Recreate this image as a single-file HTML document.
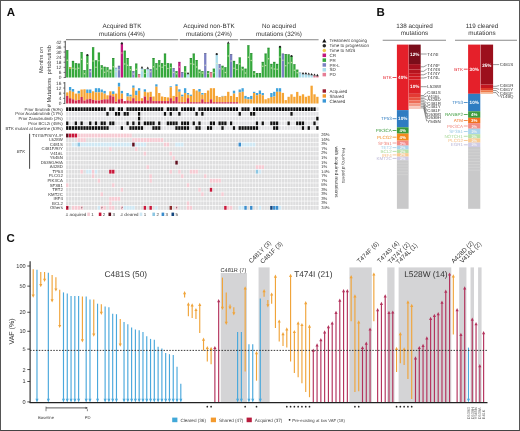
<!DOCTYPE html>
<html><head><meta charset="utf-8"><style>
html,body{margin:0;padding:0;background:#fff;}
.f{position:relative;width:520px;height:431px;overflow:hidden;background:#fff;}
.bd{position:absolute;left:0;top:0;width:518px;height:429px;border:1px solid #555;border-bottom-color:#444;}
svg{position:absolute;left:0;top:0;font-family:"Liberation Sans", sans-serif;will-change:transform;text-rendering:geometricPrecision;}
</style></head><body><div class="f">
<svg width="520" height="431" viewBox="0 0 520 431">
<text x="6.8" y="16.3" font-size="11.5" fill="#111" font-weight="bold">A</text>
<text x="122" y="27.6" font-size="6.3" fill="#333" text-anchor="middle">Acquired BTK</text>
<text x="122" y="35.6" font-size="6.3" fill="#333" text-anchor="middle">mutations (44%)</text>
<text x="209" y="27.6" font-size="6.3" fill="#333" text-anchor="middle">Acquired non-BTK</text>
<text x="209" y="35.6" font-size="6.3" fill="#333" text-anchor="middle">mutations (24%)</text>
<text x="279" y="27.6" font-size="6.3" fill="#333" text-anchor="middle">No acquired</text>
<text x="279" y="35.6" font-size="6.3" fill="#333" text-anchor="middle">mutations (32%)</text>
<line x1="66" y1="39.6" x2="178.2" y2="39.8" stroke="#8a8a8a" stroke-width="1.1"/>
<line x1="179.8" y1="39.6" x2="238.2" y2="39.8" stroke="#8a8a8a" stroke-width="1.1"/>
<line x1="239.8" y1="39.6" x2="318.6" y2="39.8" stroke="#8a8a8a" stroke-width="1.1"/>
<line x1="65.3" y1="40.8" x2="65.3" y2="78" stroke="#444" stroke-width="0.9"/>
<line x1="63.6" y1="41.9" x2="65.3" y2="41.9" stroke="#444" stroke-width="0.7"/>
<text x="61.5" y="43.6" font-size="4.8" fill="#333" text-anchor="end">42</text>
<line x1="63.6" y1="46.99" x2="65.3" y2="46.99" stroke="#444" stroke-width="0.7"/>
<text x="61.5" y="48.69" font-size="4.8" fill="#333" text-anchor="end">36</text>
<line x1="63.6" y1="52.08" x2="65.3" y2="52.08" stroke="#444" stroke-width="0.7"/>
<text x="61.5" y="53.78" font-size="4.8" fill="#333" text-anchor="end">30</text>
<line x1="63.6" y1="57.17" x2="65.3" y2="57.17" stroke="#444" stroke-width="0.7"/>
<text x="61.5" y="58.87" font-size="4.8" fill="#333" text-anchor="end">24</text>
<line x1="63.6" y1="62.26" x2="65.3" y2="62.26" stroke="#444" stroke-width="0.7"/>
<text x="61.5" y="63.96" font-size="4.8" fill="#333" text-anchor="end">18</text>
<line x1="63.6" y1="67.35" x2="65.3" y2="67.35" stroke="#444" stroke-width="0.7"/>
<text x="61.5" y="69.05" font-size="4.8" fill="#333" text-anchor="end">12</text>
<line x1="63.6" y1="72.44" x2="65.3" y2="72.44" stroke="#444" stroke-width="0.7"/>
<text x="61.5" y="74.14" font-size="4.8" fill="#333" text-anchor="end">6</text>
<line x1="63.6" y1="77.53" x2="65.3" y2="77.53" stroke="#444" stroke-width="0.7"/>
<text x="61.5" y="79.23" font-size="4.8" fill="#333" text-anchor="end">0</text>
<rect x="66.1" y="50.2" width="2.3" height="27.3" fill="#35a83c"/>
<rect x="66.1" y="50.2" width="2.3" height="0.6" fill="#1c5a24" opacity="0.55"/>
<circle cx="67.25" cy="60.3" r="0.75" fill="#e8f0b8" opacity="0.75"/>
<rect x="68.97" y="67.1" width="2.3" height="10.4" fill="#35a83c"/>
<rect x="68.97" y="67.1" width="2.3" height="0.6" fill="#1c5a24" opacity="0.55"/>
<circle cx="70.12" cy="67.9" r="0.9" fill="#f0c040"/>
<rect x="71.85" y="60.9" width="2.3" height="16.6" fill="#35a83c"/>
<rect x="71.85" y="60.9" width="2.3" height="0.6" fill="#1c5a24" opacity="0.55"/>
<circle cx="73" cy="68.37" r="0.75" fill="#e8f0b8" opacity="0.75"/>
<rect x="74.72" y="63.2" width="2.3" height="14.3" fill="#35a83c"/>
<rect x="74.72" y="63.2" width="2.3" height="0.6" fill="#1c5a24" opacity="0.55"/>
<circle cx="75.88" cy="68.92" r="0.75" fill="#e8f0b8" opacity="0.75"/>
<rect x="77.6" y="63.6" width="2.3" height="13.9" fill="#35a83c"/>
<rect x="77.6" y="63.6" width="2.3" height="0.6" fill="#1c5a24" opacity="0.55"/>
<circle cx="78.75" cy="68.19" r="0.75" fill="#e8f0b8" opacity="0.75"/>
<rect x="80.47" y="52.1" width="2.3" height="25.4" fill="#35a83c"/>
<rect x="80.47" y="52.1" width="2.3" height="0.6" fill="#1c5a24" opacity="0.55"/>
<circle cx="81.62" cy="59.21" r="0.75" fill="#e8f0b8" opacity="0.75"/>
<rect x="83.35" y="70.2" width="2.3" height="7.3" fill="#35a83c"/>
<rect x="83.35" y="70.2" width="2.3" height="0.6" fill="#1c5a24" opacity="0.55"/>
<circle cx="84.5" cy="73.85" r="0.75" fill="#e8f0b8" opacity="0.75"/>
<rect x="86.22" y="55.1" width="2.3" height="22.4" fill="#35a83c"/>
<rect x="86.22" y="55.1" width="2.3" height="0.6" fill="#1c5a24" opacity="0.55"/>
<circle cx="87.38" cy="55.1" r="1.1" fill="#222"/>
<circle cx="87.38" cy="63.39" r="0.75" fill="#e8f0b8" opacity="0.75"/>
<rect x="89.1" y="69.2" width="2.3" height="8.3" fill="#7b80c2"/>
<rect x="89.1" y="69.2" width="2.3" height="0.6" fill="#444" opacity="0.55"/>
<circle cx="90.25" cy="71.69" r="0.75" fill="#e8f0b8" opacity="0.75"/>
<rect x="91.97" y="47.3" width="2.3" height="30.2" fill="#35a83c"/>
<rect x="91.97" y="47.3" width="2.3" height="0.6" fill="#1c5a24" opacity="0.55"/>
<circle cx="93.12" cy="60.89" r="0.75" fill="#e8f0b8" opacity="0.75"/>
<rect x="94.85" y="60.4" width="2.3" height="17.1" fill="#35a83c"/>
<rect x="94.85" y="60.4" width="2.3" height="0.6" fill="#1c5a24" opacity="0.55"/>
<circle cx="96" cy="67.24" r="0.75" fill="#e8f0b8" opacity="0.75"/>
<rect x="97.72" y="52.6" width="2.3" height="24.9" fill="#35a83c"/>
<rect x="97.72" y="52.6" width="2.3" height="0.6" fill="#1c5a24" opacity="0.55"/>
<circle cx="98.88" cy="60.82" r="0.75" fill="#e8f0b8" opacity="0.75"/>
<rect x="100.6" y="65.3" width="2.3" height="12.2" fill="#35a83c"/>
<rect x="100.6" y="65.3" width="2.3" height="0.6" fill="#1c5a24" opacity="0.55"/>
<circle cx="101.75" cy="68.72" r="0.75" fill="#e8f0b8" opacity="0.75"/>
<rect x="103.47" y="66.8" width="2.3" height="10.7" fill="#35a83c"/>
<rect x="103.47" y="66.8" width="2.3" height="0.6" fill="#1c5a24" opacity="0.55"/>
<circle cx="104.62" cy="72.15" r="0.75" fill="#e8f0b8" opacity="0.75"/>
<rect x="106.35" y="67.3" width="2.3" height="10.2" fill="#35a83c"/>
<rect x="106.35" y="67.3" width="2.3" height="0.6" fill="#1c5a24" opacity="0.55"/>
<circle cx="107.5" cy="71.07" r="0.75" fill="#e8f0b8" opacity="0.75"/>
<rect x="109.22" y="69.7" width="2.3" height="7.8" fill="#35a83c"/>
<rect x="109.22" y="69.7" width="2.3" height="0.6" fill="#1c5a24" opacity="0.55"/>
<circle cx="110.38" cy="72.04" r="0.75" fill="#e8f0b8" opacity="0.75"/>
<rect x="112.1" y="58" width="2.3" height="19.5" fill="#35a83c"/>
<rect x="112.1" y="58" width="2.3" height="0.6" fill="#1c5a24" opacity="0.55"/>
<circle cx="113.25" cy="66.78" r="0.75" fill="#e8f0b8" opacity="0.75"/>
<rect x="114.97" y="67.8" width="2.3" height="9.7" fill="#a9dcea"/>
<rect x="114.97" y="67.8" width="2.3" height="0.6" fill="#444" opacity="0.55"/>
<circle cx="116.12" cy="71.68" r="0.75" fill="#e8f0b8" opacity="0.75"/>
<rect x="117.85" y="65.8" width="2.3" height="11.7" fill="#7b80c2"/>
<rect x="117.85" y="65.8" width="2.3" height="0.6" fill="#444" opacity="0.55"/>
<circle cx="119" cy="69.66" r="0.75" fill="#e8f0b8" opacity="0.75"/>
<rect x="120.72" y="43.4" width="2.3" height="34.1" fill="#c2187e"/>
<rect x="120.72" y="43.4" width="2.3" height="0.6" fill="#444" opacity="0.55"/>
<circle cx="121.88" cy="43.4" r="1.1" fill="#222"/>
<circle cx="121.88" cy="52.95" r="0.75" fill="#e8f0b8" opacity="0.75"/>
<rect x="123.6" y="50.7" width="2.3" height="26.8" fill="#35a83c"/>
<rect x="123.6" y="50.7" width="2.3" height="0.6" fill="#1c5a24" opacity="0.55"/>
<circle cx="124.75" cy="64.1" r="0.75" fill="#e8f0b8" opacity="0.75"/>
<rect x="126.47" y="58" width="2.3" height="19.5" fill="#35a83c"/>
<rect x="126.47" y="58" width="2.3" height="0.6" fill="#1c5a24" opacity="0.55"/>
<circle cx="127.62" cy="65.22" r="0.75" fill="#e8f0b8" opacity="0.75"/>
<rect x="129.35" y="66.3" width="2.3" height="11.2" fill="#35a83c"/>
<rect x="129.35" y="66.3" width="2.3" height="0.6" fill="#1c5a24" opacity="0.55"/>
<circle cx="130.5" cy="69.66" r="0.75" fill="#e8f0b8" opacity="0.75"/>
<rect x="132.22" y="71.2" width="2.3" height="6.3" fill="#7b80c2"/>
<rect x="132.22" y="71.2" width="2.3" height="0.6" fill="#444" opacity="0.55"/>
<circle cx="133.38" cy="74.03" r="0.75" fill="#e8f0b8" opacity="0.75"/>
<rect x="135.1" y="63.6" width="2.3" height="13.9" fill="#35a83c"/>
<rect x="135.1" y="63.6" width="2.3" height="0.6" fill="#1c5a24" opacity="0.55"/>
<circle cx="136.25" cy="69.16" r="0.75" fill="#e8f0b8" opacity="0.75"/>
<rect x="137.97" y="74.1" width="2.3" height="3.4" fill="#e67d95"/>
<rect x="137.97" y="74.1" width="2.3" height="0.6" fill="#444" opacity="0.55"/>
<rect x="140.85" y="68.2" width="2.3" height="9.3" fill="#a9dcea"/>
<rect x="140.85" y="68.2" width="2.3" height="0.6" fill="#444" opacity="0.55"/>
<path d="M142 66 L143.2 68.2 L140.8 68.2 Z" fill="#222"/>
<circle cx="142" cy="70.8" r="0.75" fill="#e8f0b8" opacity="0.75"/>
<rect x="143.72" y="69.4" width="2.3" height="8.1" fill="#35a83c"/>
<rect x="143.72" y="69.4" width="2.3" height="0.6" fill="#1c5a24" opacity="0.55"/>
<circle cx="144.88" cy="73.45" r="0.75" fill="#e8f0b8" opacity="0.75"/>
<rect x="146.6" y="68.7" width="2.3" height="8.8" fill="#a9dcea"/>
<rect x="146.6" y="68.7" width="2.3" height="0.6" fill="#444" opacity="0.55"/>
<path d="M147.75 66.5 L148.95 68.7 L146.55 68.7 Z" fill="#222"/>
<circle cx="147.75" cy="71.96" r="0.75" fill="#e8f0b8" opacity="0.75"/>
<rect x="149.47" y="69.2" width="2.3" height="8.3" fill="#7b80c2"/>
<rect x="149.47" y="69.2" width="2.3" height="0.6" fill="#444" opacity="0.55"/>
<circle cx="150.62" cy="71.69" r="0.75" fill="#e8f0b8" opacity="0.75"/>
<rect x="152.35" y="58" width="2.3" height="19.5" fill="#35a83c"/>
<rect x="152.35" y="58" width="2.3" height="0.6" fill="#1c5a24" opacity="0.55"/>
<circle cx="153.5" cy="66.78" r="0.75" fill="#e8f0b8" opacity="0.75"/>
<rect x="155.22" y="63.2" width="2.3" height="14.3" fill="#35a83c"/>
<rect x="155.22" y="63.2" width="2.3" height="0.6" fill="#1c5a24" opacity="0.55"/>
<circle cx="156.38" cy="68.92" r="0.75" fill="#e8f0b8" opacity="0.75"/>
<rect x="158.1" y="60.2" width="2.3" height="17.3" fill="#35a83c"/>
<rect x="158.1" y="60.2" width="2.3" height="0.6" fill="#1c5a24" opacity="0.55"/>
<circle cx="159.25" cy="65.91" r="0.75" fill="#e8f0b8" opacity="0.75"/>
<rect x="160.97" y="63.2" width="2.3" height="14.3" fill="#35a83c"/>
<rect x="160.97" y="63.2" width="2.3" height="0.6" fill="#1c5a24" opacity="0.55"/>
<circle cx="162.12" cy="67.2" r="0.75" fill="#e8f0b8" opacity="0.75"/>
<rect x="163.85" y="53.6" width="2.3" height="23.9" fill="#35a83c"/>
<rect x="163.85" y="53.6" width="2.3" height="0.6" fill="#1c5a24" opacity="0.55"/>
<circle cx="165" cy="65.55" r="0.75" fill="#e8f0b8" opacity="0.75"/>
<rect x="166.72" y="63.2" width="2.3" height="14.3" fill="#35a83c"/>
<rect x="166.72" y="63.2" width="2.3" height="0.6" fill="#1c5a24" opacity="0.55"/>
<circle cx="167.88" cy="68.49" r="0.75" fill="#e8f0b8" opacity="0.75"/>
<rect x="169.6" y="63.6" width="2.3" height="13.9" fill="#35a83c"/>
<rect x="169.6" y="63.6" width="2.3" height="0.6" fill="#1c5a24" opacity="0.55"/>
<circle cx="170.75" cy="67.77" r="0.75" fill="#e8f0b8" opacity="0.75"/>
<rect x="172.47" y="68.2" width="2.3" height="9.3" fill="#7b80c2"/>
<rect x="172.47" y="68.2" width="2.3" height="0.6" fill="#444" opacity="0.55"/>
<circle cx="173.62" cy="72.39" r="0.75" fill="#e8f0b8" opacity="0.75"/>
<rect x="175.35" y="71.2" width="2.3" height="6.3" fill="#35a83c"/>
<rect x="175.35" y="71.2" width="2.3" height="0.6" fill="#1c5a24" opacity="0.55"/>
<circle cx="176.5" cy="73.72" r="0.75" fill="#e8f0b8" opacity="0.75"/>
<rect x="178.22" y="61.9" width="2.3" height="15.6" fill="#c2187e"/>
<rect x="178.22" y="61.9" width="2.3" height="0.6" fill="#444" opacity="0.55"/>
<circle cx="179.38" cy="67.05" r="0.75" fill="#e8f0b8" opacity="0.75"/>
<rect x="181.1" y="72.1" width="2.3" height="5.4" fill="#7b80c2"/>
<rect x="181.1" y="72.1" width="2.3" height="0.6" fill="#444" opacity="0.55"/>
<rect x="183.97" y="66.3" width="2.3" height="11.2" fill="#35a83c"/>
<rect x="183.97" y="66.3" width="2.3" height="0.6" fill="#1c5a24" opacity="0.55"/>
<circle cx="185.12" cy="71.9" r="0.75" fill="#e8f0b8" opacity="0.75"/>
<rect x="186.85" y="74.1" width="2.3" height="3.4" fill="#a9dcea"/>
<rect x="186.85" y="74.1" width="2.3" height="0.6" fill="#444" opacity="0.55"/>
<path d="M188 71.9 L189.2 74.1 L186.8 74.1 Z" fill="#222"/>
<rect x="189.72" y="58" width="2.3" height="19.5" fill="#35a83c"/>
<rect x="189.72" y="58" width="2.3" height="0.6" fill="#1c5a24" opacity="0.55"/>
<circle cx="190.88" cy="63.85" r="0.75" fill="#e8f0b8" opacity="0.75"/>
<rect x="192.6" y="53.6" width="2.3" height="23.9" fill="#35a83c"/>
<rect x="192.6" y="53.6" width="2.3" height="0.6" fill="#1c5a24" opacity="0.55"/>
<circle cx="193.75" cy="64.36" r="0.75" fill="#e8f0b8" opacity="0.75"/>
<rect x="195.47" y="60" width="2.3" height="17.5" fill="#35a83c"/>
<rect x="195.47" y="60" width="2.3" height="0.6" fill="#1c5a24" opacity="0.55"/>
<circle cx="196.62" cy="67" r="0.75" fill="#e8f0b8" opacity="0.75"/>
<rect x="198.35" y="69.7" width="2.3" height="7.8" fill="#35a83c"/>
<rect x="198.35" y="69.7" width="2.3" height="0.6" fill="#1c5a24" opacity="0.55"/>
<circle cx="199.5" cy="72.27" r="0.75" fill="#e8f0b8" opacity="0.75"/>
<rect x="201.22" y="71.2" width="2.3" height="6.3" fill="#35a83c"/>
<rect x="201.22" y="71.2" width="2.3" height="0.6" fill="#1c5a24" opacity="0.55"/>
<circle cx="202.38" cy="72.96" r="0.75" fill="#e8f0b8" opacity="0.75"/>
<rect x="204.1" y="53.1" width="2.3" height="24.4" fill="#7b80c2"/>
<rect x="204.1" y="53.1" width="2.3" height="0.6" fill="#444" opacity="0.55"/>
<circle cx="205.25" cy="65.3" r="0.75" fill="#e8f0b8" opacity="0.75"/>
<rect x="206.97" y="71.2" width="2.3" height="6.3" fill="#35a83c"/>
<rect x="206.97" y="71.2" width="2.3" height="0.6" fill="#1c5a24" opacity="0.55"/>
<circle cx="208.12" cy="73.53" r="0.75" fill="#e8f0b8" opacity="0.75"/>
<rect x="209.85" y="72.1" width="2.3" height="5.4" fill="#e67d95"/>
<rect x="209.85" y="72.1" width="2.3" height="0.6" fill="#444" opacity="0.55"/>
<rect x="212.72" y="68.7" width="2.3" height="8.8" fill="#35a83c"/>
<rect x="212.72" y="68.7" width="2.3" height="0.6" fill="#1c5a24" opacity="0.55"/>
<circle cx="213.88" cy="72.66" r="0.75" fill="#e8f0b8" opacity="0.75"/>
<rect x="215.6" y="54.1" width="2.3" height="23.4" fill="#a9dcea"/>
<rect x="215.6" y="54.1" width="2.3" height="0.6" fill="#444" opacity="0.55"/>
<circle cx="216.75" cy="54.1" r="1.1" fill="#222"/>
<circle cx="216.75" cy="63.46" r="0.75" fill="#e8f0b8" opacity="0.75"/>
<rect x="218.47" y="64.3" width="2.3" height="13.2" fill="#7b80c2"/>
<rect x="218.47" y="64.3" width="2.3" height="0.6" fill="#444" opacity="0.55"/>
<circle cx="219.62" cy="68.66" r="0.75" fill="#e8f0b8" opacity="0.75"/>
<rect x="221.35" y="65.8" width="2.3" height="11.7" fill="#35a83c"/>
<rect x="221.35" y="65.8" width="2.3" height="0.6" fill="#1c5a24" opacity="0.55"/>
<circle cx="222.5" cy="69.08" r="0.75" fill="#e8f0b8" opacity="0.75"/>
<rect x="224.22" y="67.3" width="2.3" height="10.2" fill="#35a83c"/>
<rect x="224.22" y="67.3" width="2.3" height="0.6" fill="#1c5a24" opacity="0.55"/>
<circle cx="225.38" cy="72.4" r="0.75" fill="#e8f0b8" opacity="0.75"/>
<rect x="227.1" y="43.4" width="2.3" height="34.1" fill="#35a83c"/>
<rect x="227.1" y="43.4" width="2.3" height="0.6" fill="#1c5a24" opacity="0.55"/>
<path d="M228.25 41.2 L229.45 43.4 L227.05 43.4 Z" fill="#222"/>
<circle cx="228.25" cy="56.02" r="0.75" fill="#e8f0b8" opacity="0.75"/>
<rect x="229.97" y="54.1" width="2.3" height="23.4" fill="#7b80c2"/>
<rect x="229.97" y="54.1" width="2.3" height="0.6" fill="#444" opacity="0.55"/>
<circle cx="231.12" cy="61.12" r="0.75" fill="#e8f0b8" opacity="0.75"/>
<rect x="232.85" y="60.9" width="2.3" height="16.6" fill="#35a83c"/>
<rect x="232.85" y="60.9" width="2.3" height="0.6" fill="#1c5a24" opacity="0.55"/>
<circle cx="234" cy="68.37" r="0.75" fill="#e8f0b8" opacity="0.75"/>
<rect x="235.72" y="64.3" width="2.3" height="13.2" fill="#35a83c"/>
<rect x="235.72" y="64.3" width="2.3" height="0.6" fill="#1c5a24" opacity="0.55"/>
<circle cx="236.88" cy="69.58" r="0.75" fill="#e8f0b8" opacity="0.75"/>
<rect x="238.6" y="57.5" width="2.3" height="20" fill="#35a83c"/>
<rect x="238.6" y="57.5" width="2.3" height="0.6" fill="#1c5a24" opacity="0.55"/>
<circle cx="239.75" cy="64.1" r="0.75" fill="#e8f0b8" opacity="0.75"/>
<rect x="241.47" y="66.8" width="2.3" height="10.7" fill="#35a83c"/>
<rect x="241.47" y="66.8" width="2.3" height="0.6" fill="#1c5a24" opacity="0.55"/>
<circle cx="242.62" cy="69.8" r="0.75" fill="#e8f0b8" opacity="0.75"/>
<rect x="244.35" y="68.7" width="2.3" height="8.8" fill="#35a83c"/>
<rect x="244.35" y="68.7" width="2.3" height="0.6" fill="#1c5a24" opacity="0.55"/>
<circle cx="245.5" cy="73.1" r="0.75" fill="#e8f0b8" opacity="0.75"/>
<rect x="247.22" y="45.3" width="2.3" height="32.2" fill="#35a83c"/>
<rect x="247.22" y="45.3" width="2.3" height="0.6" fill="#1c5a24" opacity="0.55"/>
<circle cx="248.38" cy="57.21" r="0.75" fill="#e8f0b8" opacity="0.75"/>
<rect x="250.1" y="53.1" width="2.3" height="24.4" fill="#35a83c"/>
<rect x="250.1" y="53.1" width="2.3" height="0.6" fill="#1c5a24" opacity="0.55"/>
<circle cx="251.25" cy="60.42" r="0.75" fill="#e8f0b8" opacity="0.75"/>
<rect x="252.97" y="71.2" width="2.3" height="6.3" fill="#35a83c"/>
<rect x="252.97" y="71.2" width="2.3" height="0.6" fill="#1c5a24" opacity="0.55"/>
<circle cx="254.12" cy="74.03" r="0.75" fill="#e8f0b8" opacity="0.75"/>
<rect x="255.85" y="73.1" width="2.3" height="4.4" fill="#35a83c"/>
<rect x="255.85" y="73.1" width="2.3" height="0.6" fill="#1c5a24" opacity="0.55"/>
<rect x="258.73" y="73.1" width="2.3" height="4.4" fill="#35a83c"/>
<rect x="258.73" y="73.1" width="2.3" height="0.6" fill="#1c5a24" opacity="0.55"/>
<rect x="261.6" y="61.9" width="2.3" height="15.6" fill="#35a83c"/>
<rect x="261.6" y="61.9" width="2.3" height="0.6" fill="#1c5a24" opacity="0.55"/>
<circle cx="262.75" cy="66.27" r="0.75" fill="#e8f0b8" opacity="0.75"/>
<rect x="264.48" y="53.6" width="2.3" height="23.9" fill="#35a83c"/>
<rect x="264.48" y="53.6" width="2.3" height="0.6" fill="#1c5a24" opacity="0.55"/>
<circle cx="265.62" cy="65.55" r="0.75" fill="#e8f0b8" opacity="0.75"/>
<rect x="267.35" y="47.8" width="2.3" height="29.7" fill="#35a83c"/>
<rect x="267.35" y="47.8" width="2.3" height="0.6" fill="#1c5a24" opacity="0.55"/>
<circle cx="268.5" cy="58.79" r="0.75" fill="#e8f0b8" opacity="0.75"/>
<rect x="270.23" y="63.9" width="2.3" height="13.6" fill="#35a83c"/>
<rect x="270.23" y="63.9" width="2.3" height="0.6" fill="#1c5a24" opacity="0.55"/>
<circle cx="271.38" cy="67.98" r="0.75" fill="#e8f0b8" opacity="0.75"/>
<rect x="273.1" y="61.9" width="2.3" height="15.6" fill="#35a83c"/>
<rect x="273.1" y="61.9" width="2.3" height="0.6" fill="#1c5a24" opacity="0.55"/>
<circle cx="274.25" cy="68.92" r="0.75" fill="#e8f0b8" opacity="0.75"/>
<rect x="275.98" y="63.9" width="2.3" height="13.6" fill="#35a83c"/>
<rect x="275.98" y="63.9" width="2.3" height="0.6" fill="#1c5a24" opacity="0.55"/>
<circle cx="277.12" cy="69.34" r="0.75" fill="#e8f0b8" opacity="0.75"/>
<rect x="278.85" y="46.8" width="2.3" height="30.7" fill="#35a83c"/>
<rect x="278.85" y="46.8" width="2.3" height="0.6" fill="#1c5a24" opacity="0.55"/>
<circle cx="280" cy="46.8" r="1.1" fill="#222"/>
<circle cx="280" cy="56.93" r="0.75" fill="#e8f0b8" opacity="0.75"/>
<rect x="281.73" y="53.6" width="2.3" height="23.9" fill="#7b80c2"/>
<rect x="281.73" y="53.6" width="2.3" height="0.6" fill="#444" opacity="0.55"/>
<circle cx="282.88" cy="60.29" r="0.75" fill="#e8f0b8" opacity="0.75"/>
<rect x="284.6" y="54.1" width="2.3" height="23.4" fill="#35a83c"/>
<rect x="284.6" y="54.1" width="2.3" height="0.6" fill="#1c5a24" opacity="0.55"/>
<circle cx="285.75" cy="65.8" r="0.75" fill="#e8f0b8" opacity="0.75"/>
<rect x="287.48" y="54.4" width="2.3" height="23.1" fill="#35a83c"/>
<rect x="287.48" y="54.4" width="2.3" height="0.6" fill="#1c5a24" opacity="0.55"/>
<circle cx="288.62" cy="62.95" r="0.75" fill="#e8f0b8" opacity="0.75"/>
<rect x="290.35" y="56" width="2.3" height="21.5" fill="#35a83c"/>
<rect x="290.35" y="56" width="2.3" height="0.6" fill="#1c5a24" opacity="0.55"/>
<circle cx="291.5" cy="56" r="1.1" fill="#222"/>
<circle cx="291.5" cy="62.45" r="0.75" fill="#e8f0b8" opacity="0.75"/>
<rect x="293.23" y="64.3" width="2.3" height="13.2" fill="#35a83c"/>
<rect x="293.23" y="64.3" width="2.3" height="0.6" fill="#1c5a24" opacity="0.55"/>
<circle cx="294.38" cy="70.24" r="0.75" fill="#e8f0b8" opacity="0.75"/>
<rect x="296.1" y="69.7" width="2.3" height="7.8" fill="#35a83c"/>
<rect x="296.1" y="69.7" width="2.3" height="0.6" fill="#1c5a24" opacity="0.55"/>
<circle cx="297.25" cy="72.82" r="0.75" fill="#e8f0b8" opacity="0.75"/>
<rect x="298.98" y="72.6" width="2.3" height="4.9" fill="#a9dcea"/>
<rect x="298.98" y="72.6" width="2.3" height="0.6" fill="#444" opacity="0.55"/>
<rect x="301.85" y="74.1" width="2.3" height="3.4" fill="#a9dcea"/>
<rect x="301.85" y="74.1" width="2.3" height="0.6" fill="#444" opacity="0.55"/>
<path d="M303 71.9 L304.2 74.1 L301.8 74.1 Z" fill="#222"/>
<rect x="304.73" y="74.1" width="2.3" height="3.4" fill="#a9dcea"/>
<rect x="304.73" y="74.1" width="2.3" height="0.6" fill="#444" opacity="0.55"/>
<path d="M305.88 71.9 L307.07 74.1 L304.68 74.1 Z" fill="#222"/>
<rect x="307.6" y="74.6" width="2.3" height="2.9" fill="#a9dcea"/>
<rect x="307.6" y="74.6" width="2.3" height="0.6" fill="#444" opacity="0.55"/>
<path d="M308.75 72.4 L309.95 74.6 L307.55 74.6 Z" fill="#222"/>
<rect x="310.48" y="75.1" width="2.3" height="2.4" fill="#a9dcea"/>
<rect x="310.48" y="75.1" width="2.3" height="0.6" fill="#444" opacity="0.55"/>
<path d="M311.62 72.9 L312.82 75.1 L310.43 75.1 Z" fill="#222"/>
<rect x="313.35" y="75.6" width="2.3" height="1.9" fill="#e67d95"/>
<rect x="313.35" y="75.6" width="2.3" height="0.6" fill="#444" opacity="0.55"/>
<path d="M314.5 73.4 L315.7 75.6 L313.3 75.6 Z" fill="#222"/>
<rect x="316.23" y="76" width="2.3" height="1.5" fill="#e67d95"/>
<rect x="316.23" y="76" width="2.3" height="0.6" fill="#444" opacity="0.55"/>
<path d="M317.38 73.8 L318.57 76 L316.18 76 Z" fill="#222"/>
<text transform="translate(42.8,60) rotate(-90)" font-size="5.6" fill="#333" text-anchor="middle">Months on</text>
<text transform="translate(51.4,59.7) rotate(-90)" font-size="5.6" fill="#333" text-anchor="middle">pirtobrutinib</text>
<text transform="translate(50.8,92.5) rotate(-90)" font-size="5.7" fill="#333" text-anchor="middle"># Mutations</text>
<rect x="66.1" y="92.4" width="2.3" height="3.5" fill="#f5a433"/>
<rect x="66.1" y="95.9" width="2.3" height="7.6" fill="#cf2a4f"/>
<rect x="68.97" y="87" width="2.3" height="3.7" fill="#41a3dc"/>
<rect x="68.97" y="90.7" width="2.3" height="7.5" fill="#f5a433"/>
<rect x="68.97" y="98.2" width="2.3" height="5.3" fill="#cf2a4f"/>
<rect x="71.85" y="89" width="2.3" height="2.8" fill="#41a3dc"/>
<rect x="71.85" y="91.8" width="2.3" height="7.5" fill="#f5a433"/>
<rect x="71.85" y="99.3" width="2.3" height="4.2" fill="#cf2a4f"/>
<rect x="74.72" y="93.6" width="2.3" height="6.9" fill="#f5a433"/>
<rect x="74.72" y="100.5" width="2.3" height="3" fill="#cf2a4f"/>
<rect x="77.6" y="90.9" width="2.3" height="2.7" fill="#41a3dc"/>
<rect x="77.6" y="93.6" width="2.3" height="6.3" fill="#f5a433"/>
<rect x="77.6" y="99.9" width="2.3" height="3.6" fill="#cf2a4f"/>
<rect x="80.47" y="89.5" width="2.3" height="7.5" fill="#f5a433"/>
<rect x="80.47" y="97" width="2.3" height="6.5" fill="#cf2a4f"/>
<rect x="83.35" y="89.3" width="2.3" height="11.2" fill="#f5a433"/>
<rect x="83.35" y="100.5" width="2.3" height="3" fill="#cf2a4f"/>
<rect x="86.22" y="89.5" width="2.3" height="3.5" fill="#41a3dc"/>
<rect x="86.22" y="93" width="2.3" height="6.3" fill="#f5a433"/>
<rect x="86.22" y="99.3" width="2.3" height="4.2" fill="#cf2a4f"/>
<rect x="89.1" y="89.5" width="2.3" height="3.5" fill="#41a3dc"/>
<rect x="89.1" y="93" width="2.3" height="5.8" fill="#f5a433"/>
<rect x="89.1" y="98.8" width="2.3" height="4.7" fill="#cf2a4f"/>
<rect x="91.97" y="91.3" width="2.3" height="8.6" fill="#f5a433"/>
<rect x="91.97" y="99.9" width="2.3" height="3.6" fill="#cf2a4f"/>
<rect x="94.85" y="88.2" width="2.3" height="4.2" fill="#41a3dc"/>
<rect x="94.85" y="92.4" width="2.3" height="8.1" fill="#f5a433"/>
<rect x="94.85" y="100.5" width="2.3" height="3" fill="#cf2a4f"/>
<rect x="97.72" y="88.2" width="2.3" height="4.2" fill="#41a3dc"/>
<rect x="97.72" y="92.4" width="2.3" height="8.1" fill="#f5a433"/>
<rect x="97.72" y="100.5" width="2.3" height="3" fill="#cf2a4f"/>
<rect x="100.6" y="89.5" width="2.3" height="2.9" fill="#41a3dc"/>
<rect x="100.6" y="92.4" width="2.3" height="7.5" fill="#f5a433"/>
<rect x="100.6" y="99.9" width="2.3" height="3.6" fill="#cf2a4f"/>
<rect x="103.47" y="90.9" width="2.3" height="2.7" fill="#41a3dc"/>
<rect x="103.47" y="93.6" width="2.3" height="5.7" fill="#f5a433"/>
<rect x="103.47" y="99.3" width="2.3" height="4.2" fill="#cf2a4f"/>
<rect x="106.35" y="95.3" width="2.3" height="4" fill="#f5a433"/>
<rect x="106.35" y="99.3" width="2.3" height="4.2" fill="#cf2a4f"/>
<rect x="109.22" y="91.3" width="2.3" height="4" fill="#f5a433"/>
<rect x="109.22" y="95.3" width="2.3" height="8.2" fill="#cf2a4f"/>
<rect x="112.1" y="91.3" width="2.3" height="2.7" fill="#41a3dc"/>
<rect x="112.1" y="94" width="2.3" height="2.5" fill="#f5a433"/>
<rect x="112.1" y="96.5" width="2.3" height="7" fill="#cf2a4f"/>
<rect x="114.97" y="93.6" width="2.3" height="8.1" fill="#f5a433"/>
<rect x="114.97" y="101.7" width="2.3" height="1.8" fill="#cf2a4f"/>
<rect x="117.85" y="82.8" width="2.3" height="3.9" fill="#41a3dc"/>
<rect x="117.85" y="86.7" width="2.3" height="12.6" fill="#f5a433"/>
<rect x="117.85" y="99.3" width="2.3" height="4.2" fill="#cf2a4f"/>
<rect x="120.72" y="90.9" width="2.3" height="2.7" fill="#41a3dc"/>
<rect x="120.72" y="93.6" width="2.3" height="5.2" fill="#f5a433"/>
<rect x="120.72" y="98.8" width="2.3" height="4.7" fill="#cf2a4f"/>
<rect x="123.6" y="101.1" width="2.3" height="0" fill="#f5a433"/>
<rect x="123.6" y="101.1" width="2.3" height="2.4" fill="#cf2a4f"/>
<rect x="126.47" y="93" width="2.3" height="3.5" fill="#41a3dc"/>
<rect x="126.47" y="96.5" width="2.3" height="4" fill="#f5a433"/>
<rect x="126.47" y="100.5" width="2.3" height="3" fill="#cf2a4f"/>
<rect x="129.35" y="94.7" width="2.3" height="1.8" fill="#41a3dc"/>
<rect x="129.35" y="96.5" width="2.3" height="4.6" fill="#f5a433"/>
<rect x="129.35" y="101.1" width="2.3" height="2.4" fill="#cf2a4f"/>
<rect x="132.22" y="85.5" width="2.3" height="2.3" fill="#41a3dc"/>
<rect x="132.22" y="87.8" width="2.3" height="10.4" fill="#f5a433"/>
<rect x="132.22" y="98.2" width="2.3" height="5.3" fill="#cf2a4f"/>
<rect x="135.1" y="90.7" width="2.3" height="4.6" fill="#41a3dc"/>
<rect x="135.1" y="95.3" width="2.3" height="5.8" fill="#f5a433"/>
<rect x="135.1" y="101.1" width="2.3" height="2.4" fill="#cf2a4f"/>
<rect x="137.97" y="88.2" width="2.3" height="2.5" fill="#41a3dc"/>
<rect x="137.97" y="90.7" width="2.3" height="10.4" fill="#f5a433"/>
<rect x="137.97" y="101.1" width="2.3" height="2.4" fill="#cf2a4f"/>
<rect x="140.85" y="98.2" width="2.3" height="2.9" fill="#f5a433"/>
<rect x="140.85" y="101.1" width="2.3" height="2.4" fill="#cf2a4f"/>
<rect x="143.72" y="89.3" width="2.3" height="2.5" fill="#41a3dc"/>
<rect x="143.72" y="91.8" width="2.3" height="4.7" fill="#f5a433"/>
<rect x="143.72" y="96.5" width="2.3" height="7" fill="#cf2a4f"/>
<rect x="146.6" y="92.4" width="2.3" height="8.1" fill="#f5a433"/>
<rect x="146.6" y="100.5" width="2.3" height="3" fill="#cf2a4f"/>
<rect x="149.47" y="91.8" width="2.3" height="5.2" fill="#f5a433"/>
<rect x="149.47" y="97" width="2.3" height="6.5" fill="#cf2a4f"/>
<rect x="152.35" y="96.5" width="2.3" height="4.6" fill="#f5a433"/>
<rect x="152.35" y="101.1" width="2.3" height="2.4" fill="#cf2a4f"/>
<rect x="155.22" y="84.3" width="2.3" height="2.4" fill="#41a3dc"/>
<rect x="155.22" y="86.7" width="2.3" height="14.4" fill="#f5a433"/>
<rect x="155.22" y="101.1" width="2.3" height="2.4" fill="#cf2a4f"/>
<rect x="158.1" y="93" width="2.3" height="8.1" fill="#f5a433"/>
<rect x="158.1" y="101.1" width="2.3" height="2.4" fill="#cf2a4f"/>
<rect x="160.97" y="96.5" width="2.3" height="4.6" fill="#f5a433"/>
<rect x="160.97" y="101.1" width="2.3" height="2.4" fill="#cf2a4f"/>
<rect x="163.85" y="97" width="2.3" height="4.1" fill="#f5a433"/>
<rect x="163.85" y="101.1" width="2.3" height="2.4" fill="#cf2a4f"/>
<rect x="166.72" y="97.4" width="2.3" height="3.7" fill="#f5a433"/>
<rect x="166.72" y="101.1" width="2.3" height="2.4" fill="#cf2a4f"/>
<rect x="169.6" y="86.3" width="2.3" height="0.9" fill="#41a3dc"/>
<rect x="169.6" y="87.2" width="2.3" height="11" fill="#f5a433"/>
<rect x="169.6" y="98.2" width="2.3" height="5.3" fill="#cf2a4f"/>
<rect x="172.47" y="95.9" width="2.3" height="5.2" fill="#f5a433"/>
<rect x="172.47" y="101.1" width="2.3" height="2.4" fill="#cf2a4f"/>
<rect x="175.35" y="84.3" width="2.3" height="1.8" fill="#41a3dc"/>
<rect x="175.35" y="86.1" width="2.3" height="10.9" fill="#f5a433"/>
<rect x="175.35" y="97" width="2.3" height="6.5" fill="#cf2a4f"/>
<rect x="178.22" y="89.3" width="2.3" height="2.5" fill="#41a3dc"/>
<rect x="178.22" y="91.8" width="2.3" height="10.4" fill="#f5a433"/>
<rect x="178.22" y="102.2" width="2.3" height="1.3" fill="#cf2a4f"/>
<rect x="181.1" y="94.7" width="2.3" height="1.8" fill="#41a3dc"/>
<rect x="181.1" y="96.5" width="2.3" height="5.7" fill="#f5a433"/>
<rect x="181.1" y="102.2" width="2.3" height="1.3" fill="#cf2a4f"/>
<rect x="183.97" y="88.2" width="2.3" height="4.8" fill="#41a3dc"/>
<rect x="183.97" y="93" width="2.3" height="9.2" fill="#f5a433"/>
<rect x="183.97" y="102.2" width="2.3" height="1.3" fill="#cf2a4f"/>
<rect x="186.85" y="93" width="2.3" height="1.7" fill="#41a3dc"/>
<rect x="186.85" y="94.7" width="2.3" height="3.5" fill="#f5a433"/>
<rect x="186.85" y="98.2" width="2.3" height="5.3" fill="#cf2a4f"/>
<rect x="189.72" y="94.7" width="2.3" height="1.2" fill="#41a3dc"/>
<rect x="189.72" y="95.9" width="2.3" height="6.3" fill="#f5a433"/>
<rect x="189.72" y="102.2" width="2.3" height="1.3" fill="#cf2a4f"/>
<rect x="192.6" y="89" width="2.3" height="13.2" fill="#f5a433"/>
<rect x="192.6" y="102.2" width="2.3" height="1.3" fill="#cf2a4f"/>
<rect x="195.47" y="90.5" width="2.3" height="11.7" fill="#f5a433"/>
<rect x="195.47" y="102.2" width="2.3" height="1.3" fill="#cf2a4f"/>
<rect x="198.35" y="89" width="2.3" height="2.8" fill="#41a3dc"/>
<rect x="198.35" y="91.8" width="2.3" height="10.4" fill="#f5a433"/>
<rect x="198.35" y="102.2" width="2.3" height="1.3" fill="#cf2a4f"/>
<rect x="201.22" y="93" width="2.3" height="1.7" fill="#41a3dc"/>
<rect x="201.22" y="94.7" width="2.3" height="4.6" fill="#f5a433"/>
<rect x="201.22" y="99.3" width="2.3" height="4.2" fill="#cf2a4f"/>
<rect x="204.1" y="93" width="2.3" height="9.2" fill="#f5a433"/>
<rect x="204.1" y="102.2" width="2.3" height="1.3" fill="#cf2a4f"/>
<rect x="206.97" y="90.5" width="2.3" height="11.7" fill="#f5a433"/>
<rect x="206.97" y="102.2" width="2.3" height="1.3" fill="#cf2a4f"/>
<rect x="209.85" y="88.2" width="2.3" height="11.1" fill="#f5a433"/>
<rect x="209.85" y="99.3" width="2.3" height="4.2" fill="#cf2a4f"/>
<rect x="212.72" y="88.2" width="2.3" height="14" fill="#f5a433"/>
<rect x="212.72" y="102.2" width="2.3" height="1.3" fill="#cf2a4f"/>
<rect x="215.6" y="95.9" width="2.3" height="6.3" fill="#f5a433"/>
<rect x="215.6" y="102.2" width="2.3" height="1.3" fill="#cf2a4f"/>
<rect x="218.47" y="97" width="2.3" height="5.2" fill="#f5a433"/>
<rect x="218.47" y="102.2" width="2.3" height="1.3" fill="#cf2a4f"/>
<rect x="221.35" y="95.9" width="2.3" height="0.6" fill="#41a3dc"/>
<rect x="221.35" y="96.5" width="2.3" height="5.7" fill="#f5a433"/>
<rect x="221.35" y="102.2" width="2.3" height="1.3" fill="#cf2a4f"/>
<rect x="224.22" y="95.9" width="2.3" height="6.3" fill="#f5a433"/>
<rect x="224.22" y="102.2" width="2.3" height="1.3" fill="#cf2a4f"/>
<rect x="227.1" y="91.8" width="2.3" height="10.4" fill="#f5a433"/>
<rect x="227.1" y="102.2" width="2.3" height="1.3" fill="#cf2a4f"/>
<rect x="229.97" y="95.9" width="2.3" height="6.3" fill="#f5a433"/>
<rect x="229.97" y="102.2" width="2.3" height="1.3" fill="#cf2a4f"/>
<rect x="232.85" y="90.7" width="2.3" height="2.9" fill="#41a3dc"/>
<rect x="232.85" y="93.6" width="2.3" height="8.6" fill="#f5a433"/>
<rect x="232.85" y="102.2" width="2.3" height="1.3" fill="#cf2a4f"/>
<rect x="235.72" y="97" width="2.3" height="5.2" fill="#f5a433"/>
<rect x="235.72" y="102.2" width="2.3" height="1.3" fill="#cf2a4f"/>
<rect x="238.6" y="89.5" width="2.3" height="2.9" fill="#41a3dc"/>
<rect x="238.6" y="92.4" width="2.3" height="11.1" fill="#f5a433"/>
<rect x="241.47" y="88.2" width="2.3" height="3.6" fill="#41a3dc"/>
<rect x="241.47" y="91.8" width="2.3" height="11.7" fill="#f5a433"/>
<rect x="244.35" y="95.9" width="2.3" height="2.9" fill="#41a3dc"/>
<rect x="244.35" y="98.8" width="2.3" height="4.7" fill="#f5a433"/>
<rect x="247.22" y="97" width="2.3" height="2.3" fill="#41a3dc"/>
<rect x="247.22" y="99.3" width="2.3" height="4.2" fill="#f5a433"/>
<rect x="250.1" y="95.9" width="2.3" height="3.4" fill="#41a3dc"/>
<rect x="250.1" y="99.3" width="2.3" height="4.2" fill="#f5a433"/>
<rect x="252.97" y="91.8" width="2.3" height="1.2" fill="#41a3dc"/>
<rect x="252.97" y="93" width="2.3" height="10.5" fill="#f5a433"/>
<rect x="255.85" y="93" width="2.3" height="2.3" fill="#41a3dc"/>
<rect x="255.85" y="95.3" width="2.3" height="8.2" fill="#f5a433"/>
<rect x="258.73" y="90.5" width="2.3" height="3.7" fill="#41a3dc"/>
<rect x="258.73" y="94.2" width="2.3" height="9.3" fill="#f5a433"/>
<rect x="261.6" y="93" width="2.3" height="2.3" fill="#41a3dc"/>
<rect x="261.6" y="95.3" width="2.3" height="8.2" fill="#f5a433"/>
<rect x="264.48" y="99.3" width="2.3" height="4.2" fill="#f5a433"/>
<rect x="267.35" y="98.2" width="2.3" height="5.3" fill="#f5a433"/>
<rect x="270.23" y="93" width="2.3" height="4" fill="#41a3dc"/>
<rect x="270.23" y="97" width="2.3" height="6.5" fill="#f5a433"/>
<rect x="273.1" y="91.8" width="2.3" height="4.7" fill="#41a3dc"/>
<rect x="273.1" y="96.5" width="2.3" height="7" fill="#f5a433"/>
<rect x="275.98" y="88.2" width="2.3" height="3.6" fill="#41a3dc"/>
<rect x="275.98" y="91.8" width="2.3" height="11.7" fill="#f5a433"/>
<rect x="278.85" y="88.2" width="2.3" height="3.6" fill="#41a3dc"/>
<rect x="278.85" y="91.8" width="2.3" height="11.7" fill="#f5a433"/>
<rect x="281.73" y="92.9" width="2.3" height="10.6" fill="#f5a433"/>
<rect x="284.6" y="100.1" width="2.3" height="3.4" fill="#f5a433"/>
<rect x="287.48" y="96.8" width="2.3" height="6.7" fill="#f5a433"/>
<rect x="290.35" y="94.3" width="2.3" height="9.2" fill="#f5a433"/>
<rect x="293.23" y="96.8" width="2.3" height="6.7" fill="#f5a433"/>
<rect x="296.1" y="91.9" width="2.3" height="11.6" fill="#f5a433"/>
<rect x="298.98" y="95.8" width="2.3" height="7.7" fill="#f5a433"/>
<rect x="301.85" y="94.3" width="2.3" height="9.2" fill="#f5a433"/>
<rect x="304.73" y="96.8" width="2.3" height="6.7" fill="#f5a433"/>
<rect x="307.6" y="95.8" width="2.3" height="7.7" fill="#f5a433"/>
<rect x="310.48" y="85.7" width="2.3" height="17.8" fill="#f5a433"/>
<rect x="313.35" y="94.3" width="2.3" height="9.2" fill="#f5a433"/>
<rect x="316.23" y="96.8" width="2.3" height="6.7" fill="#f5a433"/>
<line x1="64.8" y1="82" x2="64.8" y2="104" stroke="#444" stroke-width="0.9"/>
<line x1="63.2" y1="82.9" x2="64.8" y2="82.9" stroke="#444" stroke-width="0.7"/>
<text x="61.4" y="84.6" font-size="4.8" fill="#333" text-anchor="end">16</text>
<line x1="63.2" y1="88.05" x2="64.8" y2="88.05" stroke="#444" stroke-width="0.7"/>
<text x="61.4" y="89.75" font-size="4.8" fill="#333" text-anchor="end">12</text>
<line x1="63.2" y1="93.2" x2="64.8" y2="93.2" stroke="#444" stroke-width="0.7"/>
<text x="61.4" y="94.9" font-size="4.8" fill="#333" text-anchor="end">8</text>
<line x1="63.2" y1="98.35" x2="64.8" y2="98.35" stroke="#444" stroke-width="0.7"/>
<text x="61.4" y="100.05" font-size="4.8" fill="#333" text-anchor="end">4</text>
<line x1="63.2" y1="103.5" x2="64.8" y2="103.5" stroke="#444" stroke-width="0.7"/>
<text x="61.4" y="105.2" font-size="4.8" fill="#333" text-anchor="end">0</text>
<path d="M324.3 38.7 L326.4 42.4 L322.2 42.4 Z" fill="#111"/>
<text x="329.4" y="42.4" font-size="4.5" fill="#333">Treatment ongoing</text>
<circle cx="324.3" cy="45.63" r="1.75" fill="#2a2a2a"/>
<text x="329.4" y="47.23" font-size="4.5" fill="#333">Time to progression</text>
<circle cx="324.3" cy="50.46" r="1.75" fill="#f0c94a"/>
<text x="329.4" y="52.06" font-size="4.5" fill="#333">Time to NGS</text>
<rect x="322.55" y="53.54" width="3.5" height="3.5" fill="#c2187e"/>
<text x="329.4" y="56.89" font-size="4.5" fill="#333">CR</text>
<rect x="322.55" y="58.37" width="3.5" height="3.5" fill="#35a83c"/>
<text x="329.4" y="61.72" font-size="4.5" fill="#333">PR</text>
<rect x="322.55" y="63.2" width="3.5" height="3.5" fill="#7b80c2"/>
<text x="329.4" y="66.55" font-size="4.5" fill="#333">PR-L</text>
<rect x="322.55" y="68.03" width="3.5" height="3.5" fill="#a9dcea"/>
<text x="329.4" y="71.38" font-size="4.5" fill="#333">SD</text>
<rect x="322.55" y="72.86" width="3.5" height="3.5" fill="#e67d95"/>
<text x="329.4" y="76.21" font-size="4.5" fill="#333">PD</text>
<rect x="322.6" y="89.3" width="3.4" height="3.4" fill="#9b1b30"/>
<text x="329.4" y="92.6" font-size="4.5" fill="#333">Acquired</text>
<rect x="322.6" y="94.25" width="3.4" height="3.4" fill="#f39a2e"/>
<text x="329.4" y="97.55" font-size="4.5" fill="#333">Shared</text>
<rect x="322.6" y="99.2" width="3.4" height="3.4" fill="#3a97d6"/>
<text x="329.4" y="102.5" font-size="4.5" fill="#333">Cleared</text>
<text x="62.8" y="110.7" font-size="4.3" fill="#333" text-anchor="end">Prior Ibrutinib (90%)</text>
<rect x="66.1" y="107.3" width="2.3" height="3.7" fill="#111"/>
<rect x="68.97" y="107.3" width="2.3" height="3.7" fill="#111"/>
<rect x="71.85" y="107.3" width="2.3" height="3.7" fill="#111"/>
<rect x="74.72" y="107.3" width="2.3" height="3.7" fill="#111"/>
<rect x="77.6" y="107.3" width="2.3" height="3.7" fill="#111"/>
<rect x="80.47" y="107.3" width="2.3" height="3.7" fill="#111"/>
<rect x="83.35" y="107.3" width="2.3" height="3.7" fill="#111"/>
<rect x="86.22" y="107.3" width="2.3" height="3.7" fill="#111"/>
<rect x="89.1" y="107.3" width="2.3" height="3.7" fill="#111"/>
<rect x="91.97" y="107.3" width="2.3" height="3.7" fill="#111"/>
<rect x="94.85" y="107.3" width="2.3" height="3.7" fill="#111"/>
<rect x="97.72" y="107.3" width="2.3" height="3.7" fill="#111"/>
<rect x="100.6" y="107.3" width="2.3" height="3.7" fill="#111"/>
<rect x="103.47" y="107.3" width="2.3" height="3.7" fill="#111"/>
<rect x="106.35" y="107.3" width="2.3" height="3.7" fill="#e0e0e3"/>
<rect x="109.22" y="107.3" width="2.3" height="3.7" fill="#111"/>
<rect x="112.1" y="107.3" width="2.3" height="3.7" fill="#111"/>
<rect x="114.97" y="107.3" width="2.3" height="3.7" fill="#e0e0e3"/>
<rect x="117.85" y="107.3" width="2.3" height="3.7" fill="#111"/>
<rect x="120.72" y="107.3" width="2.3" height="3.7" fill="#111"/>
<rect x="123.6" y="107.3" width="2.3" height="3.7" fill="#e0e0e3"/>
<rect x="126.47" y="107.3" width="2.3" height="3.7" fill="#111"/>
<rect x="129.35" y="107.3" width="2.3" height="3.7" fill="#111"/>
<rect x="132.22" y="107.3" width="2.3" height="3.7" fill="#111"/>
<rect x="135.1" y="107.3" width="2.3" height="3.7" fill="#111"/>
<rect x="137.97" y="107.3" width="2.3" height="3.7" fill="#111"/>
<rect x="140.85" y="107.3" width="2.3" height="3.7" fill="#111"/>
<rect x="143.72" y="107.3" width="2.3" height="3.7" fill="#111"/>
<rect x="146.6" y="107.3" width="2.3" height="3.7" fill="#111"/>
<rect x="149.47" y="107.3" width="2.3" height="3.7" fill="#111"/>
<rect x="152.35" y="107.3" width="2.3" height="3.7" fill="#111"/>
<rect x="155.22" y="107.3" width="2.3" height="3.7" fill="#111"/>
<rect x="158.1" y="107.3" width="2.3" height="3.7" fill="#111"/>
<rect x="160.97" y="107.3" width="2.3" height="3.7" fill="#111"/>
<rect x="163.85" y="107.3" width="2.3" height="3.7" fill="#e0e0e3"/>
<rect x="166.72" y="107.3" width="2.3" height="3.7" fill="#111"/>
<rect x="169.6" y="107.3" width="2.3" height="3.7" fill="#111"/>
<rect x="172.47" y="107.3" width="2.3" height="3.7" fill="#111"/>
<rect x="175.35" y="107.3" width="2.3" height="3.7" fill="#111"/>
<rect x="178.22" y="107.3" width="2.3" height="3.7" fill="#e0e0e3"/>
<rect x="181.1" y="107.3" width="2.3" height="3.7" fill="#111"/>
<rect x="183.97" y="107.3" width="2.3" height="3.7" fill="#111"/>
<rect x="186.85" y="107.3" width="2.3" height="3.7" fill="#111"/>
<rect x="189.72" y="107.3" width="2.3" height="3.7" fill="#111"/>
<rect x="192.6" y="107.3" width="2.3" height="3.7" fill="#111"/>
<rect x="195.47" y="107.3" width="2.3" height="3.7" fill="#e0e0e3"/>
<rect x="198.35" y="107.3" width="2.3" height="3.7" fill="#111"/>
<rect x="201.22" y="107.3" width="2.3" height="3.7" fill="#111"/>
<rect x="204.1" y="107.3" width="2.3" height="3.7" fill="#111"/>
<rect x="206.97" y="107.3" width="2.3" height="3.7" fill="#111"/>
<rect x="209.85" y="107.3" width="2.3" height="3.7" fill="#111"/>
<rect x="212.72" y="107.3" width="2.3" height="3.7" fill="#111"/>
<rect x="215.6" y="107.3" width="2.3" height="3.7" fill="#111"/>
<rect x="218.47" y="107.3" width="2.3" height="3.7" fill="#111"/>
<rect x="221.35" y="107.3" width="2.3" height="3.7" fill="#111"/>
<rect x="224.22" y="107.3" width="2.3" height="3.7" fill="#111"/>
<rect x="227.1" y="107.3" width="2.3" height="3.7" fill="#111"/>
<rect x="229.97" y="107.3" width="2.3" height="3.7" fill="#111"/>
<rect x="232.85" y="107.3" width="2.3" height="3.7" fill="#111"/>
<rect x="235.72" y="107.3" width="2.3" height="3.7" fill="#111"/>
<rect x="238.6" y="107.3" width="2.3" height="3.7" fill="#e0e0e3"/>
<rect x="241.47" y="107.3" width="2.3" height="3.7" fill="#111"/>
<rect x="244.35" y="107.3" width="2.3" height="3.7" fill="#111"/>
<rect x="247.22" y="107.3" width="2.3" height="3.7" fill="#111"/>
<rect x="250.1" y="107.3" width="2.3" height="3.7" fill="#e0e0e3"/>
<rect x="252.97" y="107.3" width="2.3" height="3.7" fill="#111"/>
<rect x="255.85" y="107.3" width="2.3" height="3.7" fill="#111"/>
<rect x="258.73" y="107.3" width="2.3" height="3.7" fill="#111"/>
<rect x="261.6" y="107.3" width="2.3" height="3.7" fill="#111"/>
<rect x="264.48" y="107.3" width="2.3" height="3.7" fill="#111"/>
<rect x="267.35" y="107.3" width="2.3" height="3.7" fill="#111"/>
<rect x="270.23" y="107.3" width="2.3" height="3.7" fill="#111"/>
<rect x="273.1" y="107.3" width="2.3" height="3.7" fill="#111"/>
<rect x="275.98" y="107.3" width="2.3" height="3.7" fill="#111"/>
<rect x="278.85" y="107.3" width="2.3" height="3.7" fill="#111"/>
<rect x="281.73" y="107.3" width="2.3" height="3.7" fill="#111"/>
<rect x="284.6" y="107.3" width="2.3" height="3.7" fill="#111"/>
<rect x="287.48" y="107.3" width="2.3" height="3.7" fill="#111"/>
<rect x="290.35" y="107.3" width="2.3" height="3.7" fill="#111"/>
<rect x="293.23" y="107.3" width="2.3" height="3.7" fill="#111"/>
<rect x="296.1" y="107.3" width="2.3" height="3.7" fill="#111"/>
<rect x="298.98" y="107.3" width="2.3" height="3.7" fill="#111"/>
<rect x="301.85" y="107.3" width="2.3" height="3.7" fill="#111"/>
<rect x="304.73" y="107.3" width="2.3" height="3.7" fill="#111"/>
<rect x="307.6" y="107.3" width="2.3" height="3.7" fill="#111"/>
<rect x="310.48" y="107.3" width="2.3" height="3.7" fill="#111"/>
<rect x="313.35" y="107.3" width="2.3" height="3.7" fill="#111"/>
<rect x="316.23" y="107.3" width="2.3" height="3.7" fill="#e0e0e3"/>
<text x="62.8" y="115.42" font-size="4.3" fill="#333" text-anchor="end">Prior Acalabrutinib (17%)</text>
<rect x="66.1" y="112.02" width="2.3" height="3.7" fill="#e0e0e3"/>
<rect x="68.97" y="112.02" width="2.3" height="3.7" fill="#e0e0e3"/>
<rect x="71.85" y="112.02" width="2.3" height="3.7" fill="#e0e0e3"/>
<rect x="74.72" y="112.02" width="2.3" height="3.7" fill="#e0e0e3"/>
<rect x="77.6" y="112.02" width="2.3" height="3.7" fill="#e0e0e3"/>
<rect x="80.47" y="112.02" width="2.3" height="3.7" fill="#e0e0e3"/>
<rect x="83.35" y="112.02" width="2.3" height="3.7" fill="#e0e0e3"/>
<rect x="86.22" y="112.02" width="2.3" height="3.7" fill="#e0e0e3"/>
<rect x="89.1" y="112.02" width="2.3" height="3.7" fill="#e0e0e3"/>
<rect x="91.97" y="112.02" width="2.3" height="3.7" fill="#e0e0e3"/>
<rect x="94.85" y="112.02" width="2.3" height="3.7" fill="#e0e0e3"/>
<rect x="97.72" y="112.02" width="2.3" height="3.7" fill="#e0e0e3"/>
<rect x="100.6" y="112.02" width="2.3" height="3.7" fill="#e0e0e3"/>
<rect x="103.47" y="112.02" width="2.3" height="3.7" fill="#e0e0e3"/>
<rect x="106.35" y="112.02" width="2.3" height="3.7" fill="#111"/>
<rect x="109.22" y="112.02" width="2.3" height="3.7" fill="#e0e0e3"/>
<rect x="112.1" y="112.02" width="2.3" height="3.7" fill="#e0e0e3"/>
<rect x="114.97" y="112.02" width="2.3" height="3.7" fill="#111"/>
<rect x="117.85" y="112.02" width="2.3" height="3.7" fill="#111"/>
<rect x="120.72" y="112.02" width="2.3" height="3.7" fill="#e0e0e3"/>
<rect x="123.6" y="112.02" width="2.3" height="3.7" fill="#111"/>
<rect x="126.47" y="112.02" width="2.3" height="3.7" fill="#111"/>
<rect x="129.35" y="112.02" width="2.3" height="3.7" fill="#e0e0e3"/>
<rect x="132.22" y="112.02" width="2.3" height="3.7" fill="#e0e0e3"/>
<rect x="135.1" y="112.02" width="2.3" height="3.7" fill="#e0e0e3"/>
<rect x="137.97" y="112.02" width="2.3" height="3.7" fill="#111"/>
<rect x="140.85" y="112.02" width="2.3" height="3.7" fill="#e0e0e3"/>
<rect x="143.72" y="112.02" width="2.3" height="3.7" fill="#e0e0e3"/>
<rect x="146.6" y="112.02" width="2.3" height="3.7" fill="#e0e0e3"/>
<rect x="149.47" y="112.02" width="2.3" height="3.7" fill="#e0e0e3"/>
<rect x="152.35" y="112.02" width="2.3" height="3.7" fill="#e0e0e3"/>
<rect x="155.22" y="112.02" width="2.3" height="3.7" fill="#e0e0e3"/>
<rect x="158.1" y="112.02" width="2.3" height="3.7" fill="#e0e0e3"/>
<rect x="160.97" y="112.02" width="2.3" height="3.7" fill="#e0e0e3"/>
<rect x="163.85" y="112.02" width="2.3" height="3.7" fill="#111"/>
<rect x="166.72" y="112.02" width="2.3" height="3.7" fill="#e0e0e3"/>
<rect x="169.6" y="112.02" width="2.3" height="3.7" fill="#111"/>
<rect x="172.47" y="112.02" width="2.3" height="3.7" fill="#e0e0e3"/>
<rect x="175.35" y="112.02" width="2.3" height="3.7" fill="#e0e0e3"/>
<rect x="178.22" y="112.02" width="2.3" height="3.7" fill="#111"/>
<rect x="181.1" y="112.02" width="2.3" height="3.7" fill="#e0e0e3"/>
<rect x="183.97" y="112.02" width="2.3" height="3.7" fill="#e0e0e3"/>
<rect x="186.85" y="112.02" width="2.3" height="3.7" fill="#e0e0e3"/>
<rect x="189.72" y="112.02" width="2.3" height="3.7" fill="#e0e0e3"/>
<rect x="192.6" y="112.02" width="2.3" height="3.7" fill="#e0e0e3"/>
<rect x="195.47" y="112.02" width="2.3" height="3.7" fill="#111"/>
<rect x="198.35" y="112.02" width="2.3" height="3.7" fill="#e0e0e3"/>
<rect x="201.22" y="112.02" width="2.3" height="3.7" fill="#111"/>
<rect x="204.1" y="112.02" width="2.3" height="3.7" fill="#e0e0e3"/>
<rect x="206.97" y="112.02" width="2.3" height="3.7" fill="#e0e0e3"/>
<rect x="209.85" y="112.02" width="2.3" height="3.7" fill="#e0e0e3"/>
<rect x="212.72" y="112.02" width="2.3" height="3.7" fill="#e0e0e3"/>
<rect x="215.6" y="112.02" width="2.3" height="3.7" fill="#e0e0e3"/>
<rect x="218.47" y="112.02" width="2.3" height="3.7" fill="#e0e0e3"/>
<rect x="221.35" y="112.02" width="2.3" height="3.7" fill="#e0e0e3"/>
<rect x="224.22" y="112.02" width="2.3" height="3.7" fill="#e0e0e3"/>
<rect x="227.1" y="112.02" width="2.3" height="3.7" fill="#e0e0e3"/>
<rect x="229.97" y="112.02" width="2.3" height="3.7" fill="#e0e0e3"/>
<rect x="232.85" y="112.02" width="2.3" height="3.7" fill="#e0e0e3"/>
<rect x="235.72" y="112.02" width="2.3" height="3.7" fill="#e0e0e3"/>
<rect x="238.6" y="112.02" width="2.3" height="3.7" fill="#111"/>
<rect x="241.47" y="112.02" width="2.3" height="3.7" fill="#e0e0e3"/>
<rect x="244.35" y="112.02" width="2.3" height="3.7" fill="#e0e0e3"/>
<rect x="247.22" y="112.02" width="2.3" height="3.7" fill="#e0e0e3"/>
<rect x="250.1" y="112.02" width="2.3" height="3.7" fill="#111"/>
<rect x="252.97" y="112.02" width="2.3" height="3.7" fill="#111"/>
<rect x="255.85" y="112.02" width="2.3" height="3.7" fill="#e0e0e3"/>
<rect x="258.73" y="112.02" width="2.3" height="3.7" fill="#e0e0e3"/>
<rect x="261.6" y="112.02" width="2.3" height="3.7" fill="#e0e0e3"/>
<rect x="264.48" y="112.02" width="2.3" height="3.7" fill="#e0e0e3"/>
<rect x="267.35" y="112.02" width="2.3" height="3.7" fill="#e0e0e3"/>
<rect x="270.23" y="112.02" width="2.3" height="3.7" fill="#e0e0e3"/>
<rect x="273.1" y="112.02" width="2.3" height="3.7" fill="#e0e0e3"/>
<rect x="275.98" y="112.02" width="2.3" height="3.7" fill="#e0e0e3"/>
<rect x="278.85" y="112.02" width="2.3" height="3.7" fill="#e0e0e3"/>
<rect x="281.73" y="112.02" width="2.3" height="3.7" fill="#e0e0e3"/>
<rect x="284.6" y="112.02" width="2.3" height="3.7" fill="#e0e0e3"/>
<rect x="287.48" y="112.02" width="2.3" height="3.7" fill="#e0e0e3"/>
<rect x="290.35" y="112.02" width="2.3" height="3.7" fill="#111"/>
<rect x="293.23" y="112.02" width="2.3" height="3.7" fill="#e0e0e3"/>
<rect x="296.1" y="112.02" width="2.3" height="3.7" fill="#e0e0e3"/>
<rect x="298.98" y="112.02" width="2.3" height="3.7" fill="#e0e0e3"/>
<rect x="301.85" y="112.02" width="2.3" height="3.7" fill="#e0e0e3"/>
<rect x="304.73" y="112.02" width="2.3" height="3.7" fill="#e0e0e3"/>
<rect x="307.6" y="112.02" width="2.3" height="3.7" fill="#e0e0e3"/>
<rect x="310.48" y="112.02" width="2.3" height="3.7" fill="#e0e0e3"/>
<rect x="313.35" y="112.02" width="2.3" height="3.7" fill="#e0e0e3"/>
<rect x="316.23" y="112.02" width="2.3" height="3.7" fill="#e0e0e3"/>
<text x="62.8" y="120.14" font-size="4.3" fill="#333" text-anchor="end">Prior Zanubrutinib (2%)</text>
<rect x="66.1" y="116.74" width="2.3" height="3.7" fill="#e0e0e3"/>
<rect x="68.97" y="116.74" width="2.3" height="3.7" fill="#e0e0e3"/>
<rect x="71.85" y="116.74" width="2.3" height="3.7" fill="#e0e0e3"/>
<rect x="74.72" y="116.74" width="2.3" height="3.7" fill="#e0e0e3"/>
<rect x="77.6" y="116.74" width="2.3" height="3.7" fill="#e0e0e3"/>
<rect x="80.47" y="116.74" width="2.3" height="3.7" fill="#e0e0e3"/>
<rect x="83.35" y="116.74" width="2.3" height="3.7" fill="#e0e0e3"/>
<rect x="86.22" y="116.74" width="2.3" height="3.7" fill="#e0e0e3"/>
<rect x="89.1" y="116.74" width="2.3" height="3.7" fill="#e0e0e3"/>
<rect x="91.97" y="116.74" width="2.3" height="3.7" fill="#e0e0e3"/>
<rect x="94.85" y="116.74" width="2.3" height="3.7" fill="#e0e0e3"/>
<rect x="97.72" y="116.74" width="2.3" height="3.7" fill="#e0e0e3"/>
<rect x="100.6" y="116.74" width="2.3" height="3.7" fill="#e0e0e3"/>
<rect x="103.47" y="116.74" width="2.3" height="3.7" fill="#e0e0e3"/>
<rect x="106.35" y="116.74" width="2.3" height="3.7" fill="#e0e0e3"/>
<rect x="109.22" y="116.74" width="2.3" height="3.7" fill="#e0e0e3"/>
<rect x="112.1" y="116.74" width="2.3" height="3.7" fill="#e0e0e3"/>
<rect x="114.97" y="116.74" width="2.3" height="3.7" fill="#e0e0e3"/>
<rect x="117.85" y="116.74" width="2.3" height="3.7" fill="#e0e0e3"/>
<rect x="120.72" y="116.74" width="2.3" height="3.7" fill="#e0e0e3"/>
<rect x="123.6" y="116.74" width="2.3" height="3.7" fill="#e0e0e3"/>
<rect x="126.47" y="116.74" width="2.3" height="3.7" fill="#e0e0e3"/>
<rect x="129.35" y="116.74" width="2.3" height="3.7" fill="#e0e0e3"/>
<rect x="132.22" y="116.74" width="2.3" height="3.7" fill="#e0e0e3"/>
<rect x="135.1" y="116.74" width="2.3" height="3.7" fill="#e0e0e3"/>
<rect x="137.97" y="116.74" width="2.3" height="3.7" fill="#111"/>
<rect x="140.85" y="116.74" width="2.3" height="3.7" fill="#e0e0e3"/>
<rect x="143.72" y="116.74" width="2.3" height="3.7" fill="#e0e0e3"/>
<rect x="146.6" y="116.74" width="2.3" height="3.7" fill="#e0e0e3"/>
<rect x="149.47" y="116.74" width="2.3" height="3.7" fill="#e0e0e3"/>
<rect x="152.35" y="116.74" width="2.3" height="3.7" fill="#e0e0e3"/>
<rect x="155.22" y="116.74" width="2.3" height="3.7" fill="#e0e0e3"/>
<rect x="158.1" y="116.74" width="2.3" height="3.7" fill="#e0e0e3"/>
<rect x="160.97" y="116.74" width="2.3" height="3.7" fill="#e0e0e3"/>
<rect x="163.85" y="116.74" width="2.3" height="3.7" fill="#e0e0e3"/>
<rect x="166.72" y="116.74" width="2.3" height="3.7" fill="#e0e0e3"/>
<rect x="169.6" y="116.74" width="2.3" height="3.7" fill="#e0e0e3"/>
<rect x="172.47" y="116.74" width="2.3" height="3.7" fill="#e0e0e3"/>
<rect x="175.35" y="116.74" width="2.3" height="3.7" fill="#e0e0e3"/>
<rect x="178.22" y="116.74" width="2.3" height="3.7" fill="#e0e0e3"/>
<rect x="181.1" y="116.74" width="2.3" height="3.7" fill="#e0e0e3"/>
<rect x="183.97" y="116.74" width="2.3" height="3.7" fill="#e0e0e3"/>
<rect x="186.85" y="116.74" width="2.3" height="3.7" fill="#e0e0e3"/>
<rect x="189.72" y="116.74" width="2.3" height="3.7" fill="#e0e0e3"/>
<rect x="192.6" y="116.74" width="2.3" height="3.7" fill="#e0e0e3"/>
<rect x="195.47" y="116.74" width="2.3" height="3.7" fill="#e0e0e3"/>
<rect x="198.35" y="116.74" width="2.3" height="3.7" fill="#e0e0e3"/>
<rect x="201.22" y="116.74" width="2.3" height="3.7" fill="#e0e0e3"/>
<rect x="204.1" y="116.74" width="2.3" height="3.7" fill="#e0e0e3"/>
<rect x="206.97" y="116.74" width="2.3" height="3.7" fill="#e0e0e3"/>
<rect x="209.85" y="116.74" width="2.3" height="3.7" fill="#e0e0e3"/>
<rect x="212.72" y="116.74" width="2.3" height="3.7" fill="#e0e0e3"/>
<rect x="215.6" y="116.74" width="2.3" height="3.7" fill="#e0e0e3"/>
<rect x="218.47" y="116.74" width="2.3" height="3.7" fill="#e0e0e3"/>
<rect x="221.35" y="116.74" width="2.3" height="3.7" fill="#e0e0e3"/>
<rect x="224.22" y="116.74" width="2.3" height="3.7" fill="#e0e0e3"/>
<rect x="227.1" y="116.74" width="2.3" height="3.7" fill="#e0e0e3"/>
<rect x="229.97" y="116.74" width="2.3" height="3.7" fill="#e0e0e3"/>
<rect x="232.85" y="116.74" width="2.3" height="3.7" fill="#e0e0e3"/>
<rect x="235.72" y="116.74" width="2.3" height="3.7" fill="#e0e0e3"/>
<rect x="238.6" y="116.74" width="2.3" height="3.7" fill="#e0e0e3"/>
<rect x="241.47" y="116.74" width="2.3" height="3.7" fill="#e0e0e3"/>
<rect x="244.35" y="116.74" width="2.3" height="3.7" fill="#e0e0e3"/>
<rect x="247.22" y="116.74" width="2.3" height="3.7" fill="#e0e0e3"/>
<rect x="250.1" y="116.74" width="2.3" height="3.7" fill="#e0e0e3"/>
<rect x="252.97" y="116.74" width="2.3" height="3.7" fill="#e0e0e3"/>
<rect x="255.85" y="116.74" width="2.3" height="3.7" fill="#e0e0e3"/>
<rect x="258.73" y="116.74" width="2.3" height="3.7" fill="#e0e0e3"/>
<rect x="261.6" y="116.74" width="2.3" height="3.7" fill="#e0e0e3"/>
<rect x="264.48" y="116.74" width="2.3" height="3.7" fill="#e0e0e3"/>
<rect x="267.35" y="116.74" width="2.3" height="3.7" fill="#e0e0e3"/>
<rect x="270.23" y="116.74" width="2.3" height="3.7" fill="#e0e0e3"/>
<rect x="273.1" y="116.74" width="2.3" height="3.7" fill="#e0e0e3"/>
<rect x="275.98" y="116.74" width="2.3" height="3.7" fill="#e0e0e3"/>
<rect x="278.85" y="116.74" width="2.3" height="3.7" fill="#e0e0e3"/>
<rect x="281.73" y="116.74" width="2.3" height="3.7" fill="#e0e0e3"/>
<rect x="284.6" y="116.74" width="2.3" height="3.7" fill="#e0e0e3"/>
<rect x="287.48" y="116.74" width="2.3" height="3.7" fill="#e0e0e3"/>
<rect x="290.35" y="116.74" width="2.3" height="3.7" fill="#e0e0e3"/>
<rect x="293.23" y="116.74" width="2.3" height="3.7" fill="#e0e0e3"/>
<rect x="296.1" y="116.74" width="2.3" height="3.7" fill="#e0e0e3"/>
<rect x="298.98" y="116.74" width="2.3" height="3.7" fill="#e0e0e3"/>
<rect x="301.85" y="116.74" width="2.3" height="3.7" fill="#e0e0e3"/>
<rect x="304.73" y="116.74" width="2.3" height="3.7" fill="#e0e0e3"/>
<rect x="307.6" y="116.74" width="2.3" height="3.7" fill="#e0e0e3"/>
<rect x="310.48" y="116.74" width="2.3" height="3.7" fill="#e0e0e3"/>
<rect x="313.35" y="116.74" width="2.3" height="3.7" fill="#e0e0e3"/>
<rect x="316.23" y="116.74" width="2.3" height="3.7" fill="#111"/>
<text x="62.8" y="124.86" font-size="4.3" fill="#333" text-anchor="end">Prior BCL2i (45%)</text>
<rect x="66.1" y="121.46" width="2.3" height="3.7" fill="#111"/>
<rect x="68.97" y="121.46" width="2.3" height="3.7" fill="#e0e0e3"/>
<rect x="71.85" y="121.46" width="2.3" height="3.7" fill="#e0e0e3"/>
<rect x="74.72" y="121.46" width="2.3" height="3.7" fill="#111"/>
<rect x="77.6" y="121.46" width="2.3" height="3.7" fill="#e0e0e3"/>
<rect x="80.47" y="121.46" width="2.3" height="3.7" fill="#111"/>
<rect x="83.35" y="121.46" width="2.3" height="3.7" fill="#e0e0e3"/>
<rect x="86.22" y="121.46" width="2.3" height="3.7" fill="#e0e0e3"/>
<rect x="89.1" y="121.46" width="2.3" height="3.7" fill="#111"/>
<rect x="91.97" y="121.46" width="2.3" height="3.7" fill="#e0e0e3"/>
<rect x="94.85" y="121.46" width="2.3" height="3.7" fill="#111"/>
<rect x="97.72" y="121.46" width="2.3" height="3.7" fill="#e0e0e3"/>
<rect x="100.6" y="121.46" width="2.3" height="3.7" fill="#111"/>
<rect x="103.47" y="121.46" width="2.3" height="3.7" fill="#111"/>
<rect x="106.35" y="121.46" width="2.3" height="3.7" fill="#e0e0e3"/>
<rect x="109.22" y="121.46" width="2.3" height="3.7" fill="#111"/>
<rect x="112.1" y="121.46" width="2.3" height="3.7" fill="#111"/>
<rect x="114.97" y="121.46" width="2.3" height="3.7" fill="#e0e0e3"/>
<rect x="117.85" y="121.46" width="2.3" height="3.7" fill="#e0e0e3"/>
<rect x="120.72" y="121.46" width="2.3" height="3.7" fill="#e0e0e3"/>
<rect x="123.6" y="121.46" width="2.3" height="3.7" fill="#e0e0e3"/>
<rect x="126.47" y="121.46" width="2.3" height="3.7" fill="#111"/>
<rect x="129.35" y="121.46" width="2.3" height="3.7" fill="#e0e0e3"/>
<rect x="132.22" y="121.46" width="2.3" height="3.7" fill="#111"/>
<rect x="135.1" y="121.46" width="2.3" height="3.7" fill="#e0e0e3"/>
<rect x="137.97" y="121.46" width="2.3" height="3.7" fill="#111"/>
<rect x="140.85" y="121.46" width="2.3" height="3.7" fill="#e0e0e3"/>
<rect x="143.72" y="121.46" width="2.3" height="3.7" fill="#111"/>
<rect x="146.6" y="121.46" width="2.3" height="3.7" fill="#111"/>
<rect x="149.47" y="121.46" width="2.3" height="3.7" fill="#111"/>
<rect x="152.35" y="121.46" width="2.3" height="3.7" fill="#111"/>
<rect x="155.22" y="121.46" width="2.3" height="3.7" fill="#e0e0e3"/>
<rect x="158.1" y="121.46" width="2.3" height="3.7" fill="#111"/>
<rect x="160.97" y="121.46" width="2.3" height="3.7" fill="#e0e0e3"/>
<rect x="163.85" y="121.46" width="2.3" height="3.7" fill="#e0e0e3"/>
<rect x="166.72" y="121.46" width="2.3" height="3.7" fill="#111"/>
<rect x="169.6" y="121.46" width="2.3" height="3.7" fill="#111"/>
<rect x="172.47" y="121.46" width="2.3" height="3.7" fill="#111"/>
<rect x="175.35" y="121.46" width="2.3" height="3.7" fill="#111"/>
<rect x="178.22" y="121.46" width="2.3" height="3.7" fill="#e0e0e3"/>
<rect x="181.1" y="121.46" width="2.3" height="3.7" fill="#111"/>
<rect x="183.97" y="121.46" width="2.3" height="3.7" fill="#111"/>
<rect x="186.85" y="121.46" width="2.3" height="3.7" fill="#111"/>
<rect x="189.72" y="121.46" width="2.3" height="3.7" fill="#e0e0e3"/>
<rect x="192.6" y="121.46" width="2.3" height="3.7" fill="#111"/>
<rect x="195.47" y="121.46" width="2.3" height="3.7" fill="#e0e0e3"/>
<rect x="198.35" y="121.46" width="2.3" height="3.7" fill="#111"/>
<rect x="201.22" y="121.46" width="2.3" height="3.7" fill="#e0e0e3"/>
<rect x="204.1" y="121.46" width="2.3" height="3.7" fill="#e0e0e3"/>
<rect x="206.97" y="121.46" width="2.3" height="3.7" fill="#e0e0e3"/>
<rect x="209.85" y="121.46" width="2.3" height="3.7" fill="#111"/>
<rect x="212.72" y="121.46" width="2.3" height="3.7" fill="#111"/>
<rect x="215.6" y="121.46" width="2.3" height="3.7" fill="#e0e0e3"/>
<rect x="218.47" y="121.46" width="2.3" height="3.7" fill="#111"/>
<rect x="221.35" y="121.46" width="2.3" height="3.7" fill="#111"/>
<rect x="224.22" y="121.46" width="2.3" height="3.7" fill="#111"/>
<rect x="227.1" y="121.46" width="2.3" height="3.7" fill="#e0e0e3"/>
<rect x="229.97" y="121.46" width="2.3" height="3.7" fill="#111"/>
<rect x="232.85" y="121.46" width="2.3" height="3.7" fill="#e0e0e3"/>
<rect x="235.72" y="121.46" width="2.3" height="3.7" fill="#e0e0e3"/>
<rect x="238.6" y="121.46" width="2.3" height="3.7" fill="#e0e0e3"/>
<rect x="241.47" y="121.46" width="2.3" height="3.7" fill="#e0e0e3"/>
<rect x="244.35" y="121.46" width="2.3" height="3.7" fill="#e0e0e3"/>
<rect x="247.22" y="121.46" width="2.3" height="3.7" fill="#e0e0e3"/>
<rect x="250.1" y="121.46" width="2.3" height="3.7" fill="#e0e0e3"/>
<rect x="252.97" y="121.46" width="2.3" height="3.7" fill="#e0e0e3"/>
<rect x="255.85" y="121.46" width="2.3" height="3.7" fill="#111"/>
<rect x="258.73" y="121.46" width="2.3" height="3.7" fill="#e0e0e3"/>
<rect x="261.6" y="121.46" width="2.3" height="3.7" fill="#111"/>
<rect x="264.48" y="121.46" width="2.3" height="3.7" fill="#e0e0e3"/>
<rect x="267.35" y="121.46" width="2.3" height="3.7" fill="#e0e0e3"/>
<rect x="270.23" y="121.46" width="2.3" height="3.7" fill="#111"/>
<rect x="273.1" y="121.46" width="2.3" height="3.7" fill="#111"/>
<rect x="275.98" y="121.46" width="2.3" height="3.7" fill="#111"/>
<rect x="278.85" y="121.46" width="2.3" height="3.7" fill="#e0e0e3"/>
<rect x="281.73" y="121.46" width="2.3" height="3.7" fill="#e0e0e3"/>
<rect x="284.6" y="121.46" width="2.3" height="3.7" fill="#e0e0e3"/>
<rect x="287.48" y="121.46" width="2.3" height="3.7" fill="#111"/>
<rect x="290.35" y="121.46" width="2.3" height="3.7" fill="#e0e0e3"/>
<rect x="293.23" y="121.46" width="2.3" height="3.7" fill="#e0e0e3"/>
<rect x="296.1" y="121.46" width="2.3" height="3.7" fill="#111"/>
<rect x="298.98" y="121.46" width="2.3" height="3.7" fill="#111"/>
<rect x="301.85" y="121.46" width="2.3" height="3.7" fill="#111"/>
<rect x="304.73" y="121.46" width="2.3" height="3.7" fill="#e0e0e3"/>
<rect x="307.6" y="121.46" width="2.3" height="3.7" fill="#e0e0e3"/>
<rect x="310.48" y="121.46" width="2.3" height="3.7" fill="#e0e0e3"/>
<rect x="313.35" y="121.46" width="2.3" height="3.7" fill="#111"/>
<rect x="316.23" y="121.46" width="2.3" height="3.7" fill="#e0e0e3"/>
<text x="62.8" y="129.58" font-size="4.3" fill="#333" text-anchor="end">BTK mutant at baseline (53%)</text>
<rect x="66.1" y="126.18" width="2.3" height="3.7" fill="#111"/>
<rect x="68.97" y="126.18" width="2.3" height="3.7" fill="#111"/>
<rect x="71.85" y="126.18" width="2.3" height="3.7" fill="#111"/>
<rect x="74.72" y="126.18" width="2.3" height="3.7" fill="#111"/>
<rect x="77.6" y="126.18" width="2.3" height="3.7" fill="#111"/>
<rect x="80.47" y="126.18" width="2.3" height="3.7" fill="#111"/>
<rect x="83.35" y="126.18" width="2.3" height="3.7" fill="#111"/>
<rect x="86.22" y="126.18" width="2.3" height="3.7" fill="#111"/>
<rect x="89.1" y="126.18" width="2.3" height="3.7" fill="#111"/>
<rect x="91.97" y="126.18" width="2.3" height="3.7" fill="#111"/>
<rect x="94.85" y="126.18" width="2.3" height="3.7" fill="#111"/>
<rect x="97.72" y="126.18" width="2.3" height="3.7" fill="#111"/>
<rect x="100.6" y="126.18" width="2.3" height="3.7" fill="#111"/>
<rect x="103.47" y="126.18" width="2.3" height="3.7" fill="#111"/>
<rect x="106.35" y="126.18" width="2.3" height="3.7" fill="#111"/>
<rect x="109.22" y="126.18" width="2.3" height="3.7" fill="#e0e0e3"/>
<rect x="112.1" y="126.18" width="2.3" height="3.7" fill="#e0e0e3"/>
<rect x="114.97" y="126.18" width="2.3" height="3.7" fill="#e0e0e3"/>
<rect x="117.85" y="126.18" width="2.3" height="3.7" fill="#e0e0e3"/>
<rect x="120.72" y="126.18" width="2.3" height="3.7" fill="#111"/>
<rect x="123.6" y="126.18" width="2.3" height="3.7" fill="#e0e0e3"/>
<rect x="126.47" y="126.18" width="2.3" height="3.7" fill="#e0e0e3"/>
<rect x="129.35" y="126.18" width="2.3" height="3.7" fill="#111"/>
<rect x="132.22" y="126.18" width="2.3" height="3.7" fill="#111"/>
<rect x="135.1" y="126.18" width="2.3" height="3.7" fill="#111"/>
<rect x="137.97" y="126.18" width="2.3" height="3.7" fill="#111"/>
<rect x="140.85" y="126.18" width="2.3" height="3.7" fill="#111"/>
<rect x="143.72" y="126.18" width="2.3" height="3.7" fill="#e0e0e3"/>
<rect x="146.6" y="126.18" width="2.3" height="3.7" fill="#e0e0e3"/>
<rect x="149.47" y="126.18" width="2.3" height="3.7" fill="#e0e0e3"/>
<rect x="152.35" y="126.18" width="2.3" height="3.7" fill="#111"/>
<rect x="155.22" y="126.18" width="2.3" height="3.7" fill="#111"/>
<rect x="158.1" y="126.18" width="2.3" height="3.7" fill="#111"/>
<rect x="160.97" y="126.18" width="2.3" height="3.7" fill="#e0e0e3"/>
<rect x="163.85" y="126.18" width="2.3" height="3.7" fill="#e0e0e3"/>
<rect x="166.72" y="126.18" width="2.3" height="3.7" fill="#e0e0e3"/>
<rect x="169.6" y="126.18" width="2.3" height="3.7" fill="#e0e0e3"/>
<rect x="172.47" y="126.18" width="2.3" height="3.7" fill="#e0e0e3"/>
<rect x="175.35" y="126.18" width="2.3" height="3.7" fill="#111"/>
<rect x="178.22" y="126.18" width="2.3" height="3.7" fill="#111"/>
<rect x="181.1" y="126.18" width="2.3" height="3.7" fill="#111"/>
<rect x="183.97" y="126.18" width="2.3" height="3.7" fill="#111"/>
<rect x="186.85" y="126.18" width="2.3" height="3.7" fill="#111"/>
<rect x="189.72" y="126.18" width="2.3" height="3.7" fill="#e0e0e3"/>
<rect x="192.6" y="126.18" width="2.3" height="3.7" fill="#e0e0e3"/>
<rect x="195.47" y="126.18" width="2.3" height="3.7" fill="#111"/>
<rect x="198.35" y="126.18" width="2.3" height="3.7" fill="#111"/>
<rect x="201.22" y="126.18" width="2.3" height="3.7" fill="#e0e0e3"/>
<rect x="204.1" y="126.18" width="2.3" height="3.7" fill="#e0e0e3"/>
<rect x="206.97" y="126.18" width="2.3" height="3.7" fill="#111"/>
<rect x="209.85" y="126.18" width="2.3" height="3.7" fill="#111"/>
<rect x="212.72" y="126.18" width="2.3" height="3.7" fill="#e0e0e3"/>
<rect x="215.6" y="126.18" width="2.3" height="3.7" fill="#e0e0e3"/>
<rect x="218.47" y="126.18" width="2.3" height="3.7" fill="#e0e0e3"/>
<rect x="221.35" y="126.18" width="2.3" height="3.7" fill="#111"/>
<rect x="224.22" y="126.18" width="2.3" height="3.7" fill="#e0e0e3"/>
<rect x="227.1" y="126.18" width="2.3" height="3.7" fill="#e0e0e3"/>
<rect x="229.97" y="126.18" width="2.3" height="3.7" fill="#e0e0e3"/>
<rect x="232.85" y="126.18" width="2.3" height="3.7" fill="#111"/>
<rect x="235.72" y="126.18" width="2.3" height="3.7" fill="#e0e0e3"/>
<rect x="238.6" y="126.18" width="2.3" height="3.7" fill="#111"/>
<rect x="241.47" y="126.18" width="2.3" height="3.7" fill="#111"/>
<rect x="244.35" y="126.18" width="2.3" height="3.7" fill="#111"/>
<rect x="247.22" y="126.18" width="2.3" height="3.7" fill="#111"/>
<rect x="250.1" y="126.18" width="2.3" height="3.7" fill="#111"/>
<rect x="252.97" y="126.18" width="2.3" height="3.7" fill="#111"/>
<rect x="255.85" y="126.18" width="2.3" height="3.7" fill="#111"/>
<rect x="258.73" y="126.18" width="2.3" height="3.7" fill="#e0e0e3"/>
<rect x="261.6" y="126.18" width="2.3" height="3.7" fill="#e0e0e3"/>
<rect x="264.48" y="126.18" width="2.3" height="3.7" fill="#e0e0e3"/>
<rect x="267.35" y="126.18" width="2.3" height="3.7" fill="#e0e0e3"/>
<rect x="270.23" y="126.18" width="2.3" height="3.7" fill="#e0e0e3"/>
<rect x="273.1" y="126.18" width="2.3" height="3.7" fill="#111"/>
<rect x="275.98" y="126.18" width="2.3" height="3.7" fill="#111"/>
<rect x="278.85" y="126.18" width="2.3" height="3.7" fill="#e0e0e3"/>
<rect x="281.73" y="126.18" width="2.3" height="3.7" fill="#e0e0e3"/>
<rect x="284.6" y="126.18" width="2.3" height="3.7" fill="#e0e0e3"/>
<rect x="287.48" y="126.18" width="2.3" height="3.7" fill="#e0e0e3"/>
<rect x="290.35" y="126.18" width="2.3" height="3.7" fill="#e0e0e3"/>
<rect x="293.23" y="126.18" width="2.3" height="3.7" fill="#e0e0e3"/>
<rect x="296.1" y="126.18" width="2.3" height="3.7" fill="#e0e0e3"/>
<rect x="298.98" y="126.18" width="2.3" height="3.7" fill="#e0e0e3"/>
<rect x="301.85" y="126.18" width="2.3" height="3.7" fill="#111"/>
<rect x="304.73" y="126.18" width="2.3" height="3.7" fill="#e0e0e3"/>
<rect x="307.6" y="126.18" width="2.3" height="3.7" fill="#111"/>
<rect x="310.48" y="126.18" width="2.3" height="3.7" fill="#e0e0e3"/>
<rect x="313.35" y="126.18" width="2.3" height="3.7" fill="#e0e0e3"/>
<rect x="316.23" y="126.18" width="2.3" height="3.7" fill="#111"/>
<text x="62.8" y="136.8" font-size="4.3" fill="#333" text-anchor="end">T474I/F/S/Y/L/P</text>
<text x="321.2" y="136.4" font-size="4.2" fill="#333">26%</text>
<rect x="66.05" y="133.6" width="2.45" height="3.85" fill="#5c0d1c"/>
<rect x="68.92" y="133.6" width="2.45" height="3.85" fill="#c8173a"/>
<rect x="71.8" y="133.6" width="2.45" height="3.85" fill="#c8173a"/>
<rect x="74.67" y="133.6" width="2.45" height="3.85" fill="#c8173a"/>
<rect x="77.55" y="133.6" width="2.45" height="3.85" fill="#f6cbd3"/>
<rect x="80.42" y="133.6" width="2.45" height="3.85" fill="#f6cbd3"/>
<rect x="83.3" y="133.6" width="2.45" height="3.85" fill="#f6cbd3"/>
<rect x="86.17" y="133.6" width="2.45" height="3.85" fill="#f6cbd3"/>
<rect x="89.05" y="133.6" width="2.45" height="3.85" fill="#f6cbd3"/>
<rect x="91.92" y="133.6" width="2.45" height="3.85" fill="#f6cbd3"/>
<rect x="94.8" y="133.6" width="2.45" height="3.85" fill="#f6cbd3"/>
<rect x="97.67" y="133.6" width="2.45" height="3.85" fill="#f6cbd3"/>
<rect x="100.55" y="133.6" width="2.45" height="3.85" fill="#f6cbd3"/>
<rect x="103.42" y="133.6" width="2.45" height="3.85" fill="#f6cbd3"/>
<rect x="106.3" y="133.6" width="2.45" height="3.85" fill="#f6cbd3"/>
<rect x="109.17" y="133.6" width="2.45" height="3.85" fill="#f6cbd3"/>
<rect x="112.05" y="133.6" width="2.45" height="3.85" fill="#f6cbd3"/>
<rect x="114.92" y="133.6" width="2.45" height="3.85" fill="#f6cbd3"/>
<rect x="117.8" y="133.6" width="2.45" height="3.85" fill="#f6cbd3"/>
<rect x="120.67" y="133.6" width="2.45" height="3.85" fill="#f6cbd3"/>
<rect x="123.55" y="133.6" width="2.45" height="3.85" fill="#f6cbd3"/>
<rect x="126.42" y="133.6" width="2.45" height="3.85" fill="#f6cbd3"/>
<rect x="129.3" y="133.6" width="2.45" height="3.85" fill="#f6cbd3"/>
<rect x="132.17" y="133.6" width="2.45" height="3.85" fill="#dededf"/>
<rect x="135.05" y="133.6" width="2.45" height="3.85" fill="#dededf"/>
<rect x="137.92" y="133.6" width="2.45" height="3.85" fill="#dededf"/>
<rect x="140.8" y="133.6" width="2.45" height="3.85" fill="#dededf"/>
<rect x="143.67" y="133.6" width="2.45" height="3.85" fill="#dededf"/>
<rect x="146.55" y="133.6" width="2.45" height="3.85" fill="#dededf"/>
<rect x="149.42" y="133.6" width="2.45" height="3.85" fill="#dededf"/>
<rect x="152.3" y="133.6" width="2.45" height="3.85" fill="#dededf"/>
<rect x="155.17" y="133.6" width="2.45" height="3.85" fill="#dededf"/>
<rect x="158.05" y="133.6" width="2.45" height="3.85" fill="#dededf"/>
<rect x="160.92" y="133.6" width="2.45" height="3.85" fill="#dededf"/>
<rect x="163.8" y="133.6" width="2.45" height="3.85" fill="#dededf"/>
<rect x="166.67" y="133.6" width="2.45" height="3.85" fill="#dededf"/>
<rect x="169.55" y="133.6" width="2.45" height="3.85" fill="#dededf"/>
<rect x="172.42" y="133.6" width="2.45" height="3.85" fill="#dededf"/>
<rect x="175.3" y="133.6" width="2.45" height="3.85" fill="#dededf"/>
<rect x="178.17" y="133.6" width="2.45" height="3.85" fill="#dededf"/>
<rect x="181.05" y="133.6" width="2.45" height="3.85" fill="#dededf"/>
<rect x="183.92" y="133.6" width="2.45" height="3.85" fill="#dededf"/>
<rect x="186.8" y="133.6" width="2.45" height="3.85" fill="#dededf"/>
<rect x="189.67" y="133.6" width="2.45" height="3.85" fill="#dededf"/>
<rect x="192.55" y="133.6" width="2.45" height="3.85" fill="#dededf"/>
<rect x="195.42" y="133.6" width="2.45" height="3.85" fill="#dededf"/>
<rect x="198.3" y="133.6" width="2.45" height="3.85" fill="#dededf"/>
<rect x="201.17" y="133.6" width="2.45" height="3.85" fill="#dededf"/>
<rect x="204.05" y="133.6" width="2.45" height="3.85" fill="#dededf"/>
<rect x="206.92" y="133.6" width="2.45" height="3.85" fill="#dededf"/>
<rect x="209.8" y="133.6" width="2.45" height="3.85" fill="#dededf"/>
<rect x="212.67" y="133.6" width="2.45" height="3.85" fill="#dededf"/>
<rect x="215.55" y="133.6" width="2.45" height="3.85" fill="#dededf"/>
<rect x="218.42" y="133.6" width="2.45" height="3.85" fill="#dededf"/>
<rect x="221.3" y="133.6" width="2.45" height="3.85" fill="#dededf"/>
<rect x="224.17" y="133.6" width="2.45" height="3.85" fill="#dededf"/>
<rect x="227.05" y="133.6" width="2.45" height="3.85" fill="#dededf"/>
<rect x="229.92" y="133.6" width="2.45" height="3.85" fill="#dededf"/>
<rect x="232.8" y="133.6" width="2.45" height="3.85" fill="#dededf"/>
<rect x="235.67" y="133.6" width="2.45" height="3.85" fill="#dededf"/>
<rect x="238.55" y="133.6" width="2.45" height="3.85" fill="#dededf"/>
<rect x="241.42" y="133.6" width="2.45" height="3.85" fill="#dededf"/>
<rect x="244.3" y="133.6" width="2.45" height="3.85" fill="#dededf"/>
<rect x="247.17" y="133.6" width="2.45" height="3.85" fill="#dededf"/>
<rect x="250.05" y="133.6" width="2.45" height="3.85" fill="#dededf"/>
<rect x="252.92" y="133.6" width="2.45" height="3.85" fill="#dededf"/>
<rect x="255.8" y="133.6" width="2.45" height="3.85" fill="#dededf"/>
<rect x="258.68" y="133.6" width="2.45" height="3.85" fill="#dededf"/>
<rect x="261.55" y="133.6" width="2.45" height="3.85" fill="#dededf"/>
<rect x="264.43" y="133.6" width="2.45" height="3.85" fill="#dededf"/>
<rect x="267.3" y="133.6" width="2.45" height="3.85" fill="#dededf"/>
<rect x="270.18" y="133.6" width="2.45" height="3.85" fill="#dededf"/>
<rect x="273.05" y="133.6" width="2.45" height="3.85" fill="#dededf"/>
<rect x="275.93" y="133.6" width="2.45" height="3.85" fill="#dededf"/>
<rect x="278.8" y="133.6" width="2.45" height="3.85" fill="#dededf"/>
<rect x="281.68" y="133.6" width="2.45" height="3.85" fill="#dededf"/>
<rect x="284.55" y="133.6" width="2.45" height="3.85" fill="#dededf"/>
<rect x="287.43" y="133.6" width="2.45" height="3.85" fill="#dededf"/>
<rect x="290.3" y="133.6" width="2.45" height="3.85" fill="#dededf"/>
<rect x="293.18" y="133.6" width="2.45" height="3.85" fill="#dededf"/>
<rect x="296.05" y="133.6" width="2.45" height="3.85" fill="#dededf"/>
<rect x="298.93" y="133.6" width="2.45" height="3.85" fill="#dededf"/>
<rect x="301.8" y="133.6" width="2.45" height="3.85" fill="#dededf"/>
<rect x="304.68" y="133.6" width="2.45" height="3.85" fill="#dededf"/>
<rect x="307.55" y="133.6" width="2.45" height="3.85" fill="#dededf"/>
<rect x="310.43" y="133.6" width="2.45" height="3.85" fill="#dededf"/>
<rect x="313.3" y="133.6" width="2.45" height="3.85" fill="#dededf"/>
<rect x="316.18" y="133.6" width="2.45" height="3.85" fill="#dededf"/>
<text x="62.8" y="141.32" font-size="4.3" fill="#333" text-anchor="end">L528W</text>
<text x="321.2" y="140.92" font-size="4.2" fill="#333">16%</text>
<rect x="66.05" y="138.12" width="2.45" height="3.85" fill="#dededf"/>
<rect x="68.92" y="138.12" width="2.45" height="3.85" fill="#dededf"/>
<rect x="71.8" y="138.12" width="2.45" height="3.85" fill="#dededf"/>
<rect x="74.67" y="138.12" width="2.45" height="3.85" fill="#dededf"/>
<rect x="77.55" y="138.12" width="2.45" height="3.85" fill="#f6cbd3"/>
<rect x="80.42" y="138.12" width="2.45" height="3.85" fill="#f6cbd3"/>
<rect x="83.3" y="138.12" width="2.45" height="3.85" fill="#f6cbd3"/>
<rect x="86.17" y="138.12" width="2.45" height="3.85" fill="#dededf"/>
<rect x="89.05" y="138.12" width="2.45" height="3.85" fill="#dededf"/>
<rect x="91.92" y="138.12" width="2.45" height="3.85" fill="#dededf"/>
<rect x="94.8" y="138.12" width="2.45" height="3.85" fill="#dededf"/>
<rect x="97.67" y="138.12" width="2.45" height="3.85" fill="#dededf"/>
<rect x="100.55" y="138.12" width="2.45" height="3.85" fill="#dededf"/>
<rect x="103.42" y="138.12" width="2.45" height="3.85" fill="#dededf"/>
<rect x="106.3" y="138.12" width="2.45" height="3.85" fill="#dededf"/>
<rect x="109.17" y="138.12" width="2.45" height="3.85" fill="#dededf"/>
<rect x="112.05" y="138.12" width="2.45" height="3.85" fill="#dededf"/>
<rect x="114.92" y="138.12" width="2.45" height="3.85" fill="#dededf"/>
<rect x="117.8" y="138.12" width="2.45" height="3.85" fill="#dededf"/>
<rect x="120.67" y="138.12" width="2.45" height="3.85" fill="#dededf"/>
<rect x="123.55" y="138.12" width="2.45" height="3.85" fill="#dededf"/>
<rect x="126.42" y="138.12" width="2.45" height="3.85" fill="#dededf"/>
<rect x="129.3" y="138.12" width="2.45" height="3.85" fill="#dededf"/>
<rect x="132.17" y="138.12" width="2.45" height="3.85" fill="#f6cbd3"/>
<rect x="135.05" y="138.12" width="2.45" height="3.85" fill="#f6cbd3"/>
<rect x="137.92" y="138.12" width="2.45" height="3.85" fill="#f6cbd3"/>
<rect x="140.8" y="138.12" width="2.45" height="3.85" fill="#f6cbd3"/>
<rect x="143.67" y="138.12" width="2.45" height="3.85" fill="#f6cbd3"/>
<rect x="146.55" y="138.12" width="2.45" height="3.85" fill="#f6cbd3"/>
<rect x="149.42" y="138.12" width="2.45" height="3.85" fill="#f6cbd3"/>
<rect x="152.3" y="138.12" width="2.45" height="3.85" fill="#f6cbd3"/>
<rect x="155.17" y="138.12" width="2.45" height="3.85" fill="#f6cbd3"/>
<rect x="158.05" y="138.12" width="2.45" height="3.85" fill="#f6cbd3"/>
<rect x="160.92" y="138.12" width="2.45" height="3.85" fill="#f6cbd3"/>
<rect x="163.8" y="138.12" width="2.45" height="3.85" fill="#dededf"/>
<rect x="166.67" y="138.12" width="2.45" height="3.85" fill="#dededf"/>
<rect x="169.55" y="138.12" width="2.45" height="3.85" fill="#dededf"/>
<rect x="172.42" y="138.12" width="2.45" height="3.85" fill="#dededf"/>
<rect x="175.3" y="138.12" width="2.45" height="3.85" fill="#dededf"/>
<rect x="178.17" y="138.12" width="2.45" height="3.85" fill="#dededf"/>
<rect x="181.05" y="138.12" width="2.45" height="3.85" fill="#dededf"/>
<rect x="183.92" y="138.12" width="2.45" height="3.85" fill="#dededf"/>
<rect x="186.8" y="138.12" width="2.45" height="3.85" fill="#dededf"/>
<rect x="189.67" y="138.12" width="2.45" height="3.85" fill="#dededf"/>
<rect x="192.55" y="138.12" width="2.45" height="3.85" fill="#dededf"/>
<rect x="195.42" y="138.12" width="2.45" height="3.85" fill="#dededf"/>
<rect x="198.3" y="138.12" width="2.45" height="3.85" fill="#dededf"/>
<rect x="201.17" y="138.12" width="2.45" height="3.85" fill="#dededf"/>
<rect x="204.05" y="138.12" width="2.45" height="3.85" fill="#dededf"/>
<rect x="206.92" y="138.12" width="2.45" height="3.85" fill="#dededf"/>
<rect x="209.8" y="138.12" width="2.45" height="3.85" fill="#dededf"/>
<rect x="212.67" y="138.12" width="2.45" height="3.85" fill="#dededf"/>
<rect x="215.55" y="138.12" width="2.45" height="3.85" fill="#dededf"/>
<rect x="218.42" y="138.12" width="2.45" height="3.85" fill="#dededf"/>
<rect x="221.3" y="138.12" width="2.45" height="3.85" fill="#dededf"/>
<rect x="224.17" y="138.12" width="2.45" height="3.85" fill="#dededf"/>
<rect x="227.05" y="138.12" width="2.45" height="3.85" fill="#dededf"/>
<rect x="229.92" y="138.12" width="2.45" height="3.85" fill="#dededf"/>
<rect x="232.8" y="138.12" width="2.45" height="3.85" fill="#dededf"/>
<rect x="235.67" y="138.12" width="2.45" height="3.85" fill="#dededf"/>
<rect x="238.55" y="138.12" width="2.45" height="3.85" fill="#dededf"/>
<rect x="241.42" y="138.12" width="2.45" height="3.85" fill="#dededf"/>
<rect x="244.3" y="138.12" width="2.45" height="3.85" fill="#dededf"/>
<rect x="247.17" y="138.12" width="2.45" height="3.85" fill="#dededf"/>
<rect x="250.05" y="138.12" width="2.45" height="3.85" fill="#dededf"/>
<rect x="252.92" y="138.12" width="2.45" height="3.85" fill="#dededf"/>
<rect x="255.8" y="138.12" width="2.45" height="3.85" fill="#dededf"/>
<rect x="258.68" y="138.12" width="2.45" height="3.85" fill="#dededf"/>
<rect x="261.55" y="138.12" width="2.45" height="3.85" fill="#dededf"/>
<rect x="264.43" y="138.12" width="2.45" height="3.85" fill="#dededf"/>
<rect x="267.3" y="138.12" width="2.45" height="3.85" fill="#dededf"/>
<rect x="270.18" y="138.12" width="2.45" height="3.85" fill="#dededf"/>
<rect x="273.05" y="138.12" width="2.45" height="3.85" fill="#dededf"/>
<rect x="275.93" y="138.12" width="2.45" height="3.85" fill="#dededf"/>
<rect x="278.8" y="138.12" width="2.45" height="3.85" fill="#dededf"/>
<rect x="281.68" y="138.12" width="2.45" height="3.85" fill="#dededf"/>
<rect x="284.55" y="138.12" width="2.45" height="3.85" fill="#dededf"/>
<rect x="287.43" y="138.12" width="2.45" height="3.85" fill="#dededf"/>
<rect x="290.3" y="138.12" width="2.45" height="3.85" fill="#dededf"/>
<rect x="293.18" y="138.12" width="2.45" height="3.85" fill="#dededf"/>
<rect x="296.05" y="138.12" width="2.45" height="3.85" fill="#dededf"/>
<rect x="298.93" y="138.12" width="2.45" height="3.85" fill="#dededf"/>
<rect x="301.8" y="138.12" width="2.45" height="3.85" fill="#dededf"/>
<rect x="304.68" y="138.12" width="2.45" height="3.85" fill="#dededf"/>
<rect x="307.55" y="138.12" width="2.45" height="3.85" fill="#dededf"/>
<rect x="310.43" y="138.12" width="2.45" height="3.85" fill="#dededf"/>
<rect x="313.3" y="138.12" width="2.45" height="3.85" fill="#dededf"/>
<rect x="316.18" y="138.12" width="2.45" height="3.85" fill="#dededf"/>
<text x="62.8" y="145.84" font-size="4.3" fill="#333" text-anchor="end">C481S</text>
<text x="321.2" y="145.44" font-size="4.2" fill="#333">3%</text>
<rect x="66.05" y="142.64" width="2.45" height="3.85" fill="#dededf"/>
<rect x="68.92" y="142.64" width="2.45" height="3.85" fill="#dededf"/>
<rect x="71.8" y="142.64" width="2.45" height="3.85" fill="#cfe8f4"/>
<rect x="74.67" y="142.64" width="2.45" height="3.85" fill="#cfe8f4"/>
<rect x="77.55" y="142.64" width="2.45" height="3.85" fill="#8cc6e2"/>
<rect x="80.42" y="142.64" width="2.45" height="3.85" fill="#cfe8f4"/>
<rect x="83.3" y="142.64" width="2.45" height="3.85" fill="#cfe8f4"/>
<rect x="86.17" y="142.64" width="2.45" height="3.85" fill="#cfe8f4"/>
<rect x="89.05" y="142.64" width="2.45" height="3.85" fill="#cfe8f4"/>
<rect x="91.92" y="142.64" width="2.45" height="3.85" fill="#cfe8f4"/>
<rect x="94.8" y="142.64" width="2.45" height="3.85" fill="#cfe8f4"/>
<rect x="97.67" y="142.64" width="2.45" height="3.85" fill="#cfe8f4"/>
<rect x="100.55" y="142.64" width="2.45" height="3.85" fill="#cfe8f4"/>
<rect x="103.42" y="142.64" width="2.45" height="3.85" fill="#cfe8f4"/>
<rect x="106.3" y="142.64" width="2.45" height="3.85" fill="#cfe8f4"/>
<rect x="109.17" y="142.64" width="2.45" height="3.85" fill="#cfe8f4"/>
<rect x="112.05" y="142.64" width="2.45" height="3.85" fill="#cfe8f4"/>
<rect x="114.92" y="142.64" width="2.45" height="3.85" fill="#cfe8f4"/>
<rect x="117.8" y="142.64" width="2.45" height="3.85" fill="#cfe8f4"/>
<rect x="120.67" y="142.64" width="2.45" height="3.85" fill="#cfe8f4"/>
<rect x="123.55" y="142.64" width="2.45" height="3.85" fill="#cfe8f4"/>
<rect x="126.42" y="142.64" width="2.45" height="3.85" fill="#cfe8f4"/>
<rect x="129.3" y="142.64" width="2.45" height="3.85" fill="#cfe8f4"/>
<rect x="132.17" y="142.64" width="2.45" height="3.85" fill="#5c0d1c"/>
<rect x="135.05" y="142.64" width="2.45" height="3.85" fill="#cfe8f4"/>
<rect x="137.92" y="142.64" width="2.45" height="3.85" fill="#cfe8f4"/>
<rect x="140.8" y="142.64" width="2.45" height="3.85" fill="#cfe8f4"/>
<rect x="143.67" y="142.64" width="2.45" height="3.85" fill="#cfe8f4"/>
<rect x="146.55" y="142.64" width="2.45" height="3.85" fill="#dededf"/>
<rect x="149.42" y="142.64" width="2.45" height="3.85" fill="#dededf"/>
<rect x="152.3" y="142.64" width="2.45" height="3.85" fill="#dededf"/>
<rect x="155.17" y="142.64" width="2.45" height="3.85" fill="#dededf"/>
<rect x="158.05" y="142.64" width="2.45" height="3.85" fill="#dededf"/>
<rect x="160.92" y="142.64" width="2.45" height="3.85" fill="#dededf"/>
<rect x="163.8" y="142.64" width="2.45" height="3.85" fill="#f6cbd3"/>
<rect x="166.67" y="142.64" width="2.45" height="3.85" fill="#f6cbd3"/>
<rect x="169.55" y="142.64" width="2.45" height="3.85" fill="#dededf"/>
<rect x="172.42" y="142.64" width="2.45" height="3.85" fill="#dededf"/>
<rect x="175.3" y="142.64" width="2.45" height="3.85" fill="#cfe8f4"/>
<rect x="178.17" y="142.64" width="2.45" height="3.85" fill="#cfe8f4"/>
<rect x="181.05" y="142.64" width="2.45" height="3.85" fill="#cfe8f4"/>
<rect x="183.92" y="142.64" width="2.45" height="3.85" fill="#dededf"/>
<rect x="186.8" y="142.64" width="2.45" height="3.85" fill="#dededf"/>
<rect x="189.67" y="142.64" width="2.45" height="3.85" fill="#dededf"/>
<rect x="192.55" y="142.64" width="2.45" height="3.85" fill="#dededf"/>
<rect x="195.42" y="142.64" width="2.45" height="3.85" fill="#dededf"/>
<rect x="198.3" y="142.64" width="2.45" height="3.85" fill="#dededf"/>
<rect x="201.17" y="142.64" width="2.45" height="3.85" fill="#dededf"/>
<rect x="204.05" y="142.64" width="2.45" height="3.85" fill="#dededf"/>
<rect x="206.92" y="142.64" width="2.45" height="3.85" fill="#dededf"/>
<rect x="209.8" y="142.64" width="2.45" height="3.85" fill="#dededf"/>
<rect x="212.67" y="142.64" width="2.45" height="3.85" fill="#dededf"/>
<rect x="215.55" y="142.64" width="2.45" height="3.85" fill="#dededf"/>
<rect x="218.42" y="142.64" width="2.45" height="3.85" fill="#dededf"/>
<rect x="221.3" y="142.64" width="2.45" height="3.85" fill="#dededf"/>
<rect x="224.17" y="142.64" width="2.45" height="3.85" fill="#dededf"/>
<rect x="227.05" y="142.64" width="2.45" height="3.85" fill="#dededf"/>
<rect x="229.92" y="142.64" width="2.45" height="3.85" fill="#dededf"/>
<rect x="232.8" y="142.64" width="2.45" height="3.85" fill="#dededf"/>
<rect x="235.67" y="142.64" width="2.45" height="3.85" fill="#dededf"/>
<rect x="238.55" y="142.64" width="2.45" height="3.85" fill="#3a8ccc"/>
<rect x="241.42" y="142.64" width="2.45" height="3.85" fill="#cfe8f4"/>
<rect x="244.3" y="142.64" width="2.45" height="3.85" fill="#cfe8f4"/>
<rect x="247.17" y="142.64" width="2.45" height="3.85" fill="#cfe8f4"/>
<rect x="250.05" y="142.64" width="2.45" height="3.85" fill="#cfe8f4"/>
<rect x="252.92" y="142.64" width="2.45" height="3.85" fill="#cfe8f4"/>
<rect x="255.8" y="142.64" width="2.45" height="3.85" fill="#dededf"/>
<rect x="258.68" y="142.64" width="2.45" height="3.85" fill="#dededf"/>
<rect x="261.55" y="142.64" width="2.45" height="3.85" fill="#dededf"/>
<rect x="264.43" y="142.64" width="2.45" height="3.85" fill="#dededf"/>
<rect x="267.3" y="142.64" width="2.45" height="3.85" fill="#dededf"/>
<rect x="270.18" y="142.64" width="2.45" height="3.85" fill="#dededf"/>
<rect x="273.05" y="142.64" width="2.45" height="3.85" fill="#dededf"/>
<rect x="275.93" y="142.64" width="2.45" height="3.85" fill="#dededf"/>
<rect x="278.8" y="142.64" width="2.45" height="3.85" fill="#dededf"/>
<rect x="281.68" y="142.64" width="2.45" height="3.85" fill="#dededf"/>
<rect x="284.55" y="142.64" width="2.45" height="3.85" fill="#dededf"/>
<rect x="287.43" y="142.64" width="2.45" height="3.85" fill="#dededf"/>
<rect x="290.3" y="142.64" width="2.45" height="3.85" fill="#dededf"/>
<rect x="293.18" y="142.64" width="2.45" height="3.85" fill="#dededf"/>
<rect x="296.05" y="142.64" width="2.45" height="3.85" fill="#dededf"/>
<rect x="298.93" y="142.64" width="2.45" height="3.85" fill="#dededf"/>
<rect x="301.8" y="142.64" width="2.45" height="3.85" fill="#dededf"/>
<rect x="304.68" y="142.64" width="2.45" height="3.85" fill="#dededf"/>
<rect x="307.55" y="142.64" width="2.45" height="3.85" fill="#dededf"/>
<rect x="310.43" y="142.64" width="2.45" height="3.85" fill="#dededf"/>
<rect x="313.3" y="142.64" width="2.45" height="3.85" fill="#dededf"/>
<rect x="316.18" y="142.64" width="2.45" height="3.85" fill="#dededf"/>
<text x="62.8" y="150.36" font-size="4.3" fill="#333" text-anchor="end">C481F/R/Y</text>
<text x="321.2" y="149.96" font-size="4.2" fill="#333">7%</text>
<rect x="66.05" y="147.16" width="2.45" height="3.85" fill="#dededf"/>
<rect x="68.92" y="147.16" width="2.45" height="3.85" fill="#dededf"/>
<rect x="71.8" y="147.16" width="2.45" height="3.85" fill="#dededf"/>
<rect x="74.67" y="147.16" width="2.45" height="3.85" fill="#dededf"/>
<rect x="77.55" y="147.16" width="2.45" height="3.85" fill="#dededf"/>
<rect x="80.42" y="147.16" width="2.45" height="3.85" fill="#dededf"/>
<rect x="83.3" y="147.16" width="2.45" height="3.85" fill="#dededf"/>
<rect x="86.17" y="147.16" width="2.45" height="3.85" fill="#dededf"/>
<rect x="89.05" y="147.16" width="2.45" height="3.85" fill="#dededf"/>
<rect x="91.92" y="147.16" width="2.45" height="3.85" fill="#dededf"/>
<rect x="94.8" y="147.16" width="2.45" height="3.85" fill="#dededf"/>
<rect x="97.67" y="147.16" width="2.45" height="3.85" fill="#dededf"/>
<rect x="100.55" y="147.16" width="2.45" height="3.85" fill="#dededf"/>
<rect x="103.42" y="147.16" width="2.45" height="3.85" fill="#dededf"/>
<rect x="106.3" y="147.16" width="2.45" height="3.85" fill="#dededf"/>
<rect x="109.17" y="147.16" width="2.45" height="3.85" fill="#f6cbd3"/>
<rect x="112.05" y="147.16" width="2.45" height="3.85" fill="#dededf"/>
<rect x="114.92" y="147.16" width="2.45" height="3.85" fill="#dededf"/>
<rect x="117.8" y="147.16" width="2.45" height="3.85" fill="#dededf"/>
<rect x="120.67" y="147.16" width="2.45" height="3.85" fill="#dededf"/>
<rect x="123.55" y="147.16" width="2.45" height="3.85" fill="#dededf"/>
<rect x="126.42" y="147.16" width="2.45" height="3.85" fill="#dededf"/>
<rect x="129.3" y="147.16" width="2.45" height="3.85" fill="#dededf"/>
<rect x="132.17" y="147.16" width="2.45" height="3.85" fill="#dededf"/>
<rect x="135.05" y="147.16" width="2.45" height="3.85" fill="#f6cbd3"/>
<rect x="137.92" y="147.16" width="2.45" height="3.85" fill="#dededf"/>
<rect x="140.8" y="147.16" width="2.45" height="3.85" fill="#dededf"/>
<rect x="143.67" y="147.16" width="2.45" height="3.85" fill="#dededf"/>
<rect x="146.55" y="147.16" width="2.45" height="3.85" fill="#dededf"/>
<rect x="149.42" y="147.16" width="2.45" height="3.85" fill="#dededf"/>
<rect x="152.3" y="147.16" width="2.45" height="3.85" fill="#dededf"/>
<rect x="155.17" y="147.16" width="2.45" height="3.85" fill="#dededf"/>
<rect x="158.05" y="147.16" width="2.45" height="3.85" fill="#dededf"/>
<rect x="160.92" y="147.16" width="2.45" height="3.85" fill="#dededf"/>
<rect x="163.8" y="147.16" width="2.45" height="3.85" fill="#dededf"/>
<rect x="166.67" y="147.16" width="2.45" height="3.85" fill="#dededf"/>
<rect x="169.55" y="147.16" width="2.45" height="3.85" fill="#dededf"/>
<rect x="172.42" y="147.16" width="2.45" height="3.85" fill="#dededf"/>
<rect x="175.3" y="147.16" width="2.45" height="3.85" fill="#dededf"/>
<rect x="178.17" y="147.16" width="2.45" height="3.85" fill="#dededf"/>
<rect x="181.05" y="147.16" width="2.45" height="3.85" fill="#dededf"/>
<rect x="183.92" y="147.16" width="2.45" height="3.85" fill="#dededf"/>
<rect x="186.8" y="147.16" width="2.45" height="3.85" fill="#dededf"/>
<rect x="189.67" y="147.16" width="2.45" height="3.85" fill="#dededf"/>
<rect x="192.55" y="147.16" width="2.45" height="3.85" fill="#dededf"/>
<rect x="195.42" y="147.16" width="2.45" height="3.85" fill="#dededf"/>
<rect x="198.3" y="147.16" width="2.45" height="3.85" fill="#dededf"/>
<rect x="201.17" y="147.16" width="2.45" height="3.85" fill="#dededf"/>
<rect x="204.05" y="147.16" width="2.45" height="3.85" fill="#dededf"/>
<rect x="206.92" y="147.16" width="2.45" height="3.85" fill="#dededf"/>
<rect x="209.8" y="147.16" width="2.45" height="3.85" fill="#dededf"/>
<rect x="212.67" y="147.16" width="2.45" height="3.85" fill="#dededf"/>
<rect x="215.55" y="147.16" width="2.45" height="3.85" fill="#dededf"/>
<rect x="218.42" y="147.16" width="2.45" height="3.85" fill="#dededf"/>
<rect x="221.3" y="147.16" width="2.45" height="3.85" fill="#dededf"/>
<rect x="224.17" y="147.16" width="2.45" height="3.85" fill="#dededf"/>
<rect x="227.05" y="147.16" width="2.45" height="3.85" fill="#dededf"/>
<rect x="229.92" y="147.16" width="2.45" height="3.85" fill="#dededf"/>
<rect x="232.8" y="147.16" width="2.45" height="3.85" fill="#dededf"/>
<rect x="235.67" y="147.16" width="2.45" height="3.85" fill="#dededf"/>
<rect x="238.55" y="147.16" width="2.45" height="3.85" fill="#dededf"/>
<rect x="241.42" y="147.16" width="2.45" height="3.85" fill="#dededf"/>
<rect x="244.3" y="147.16" width="2.45" height="3.85" fill="#dededf"/>
<rect x="247.17" y="147.16" width="2.45" height="3.85" fill="#dededf"/>
<rect x="250.05" y="147.16" width="2.45" height="3.85" fill="#dededf"/>
<rect x="252.92" y="147.16" width="2.45" height="3.85" fill="#dededf"/>
<rect x="255.8" y="147.16" width="2.45" height="3.85" fill="#dededf"/>
<rect x="258.68" y="147.16" width="2.45" height="3.85" fill="#dededf"/>
<rect x="261.55" y="147.16" width="2.45" height="3.85" fill="#dededf"/>
<rect x="264.43" y="147.16" width="2.45" height="3.85" fill="#dededf"/>
<rect x="267.3" y="147.16" width="2.45" height="3.85" fill="#dededf"/>
<rect x="270.18" y="147.16" width="2.45" height="3.85" fill="#dededf"/>
<rect x="273.05" y="147.16" width="2.45" height="3.85" fill="#dededf"/>
<rect x="275.93" y="147.16" width="2.45" height="3.85" fill="#dededf"/>
<rect x="278.8" y="147.16" width="2.45" height="3.85" fill="#dededf"/>
<rect x="281.68" y="147.16" width="2.45" height="3.85" fill="#dededf"/>
<rect x="284.55" y="147.16" width="2.45" height="3.85" fill="#dededf"/>
<rect x="287.43" y="147.16" width="2.45" height="3.85" fill="#dededf"/>
<rect x="290.3" y="147.16" width="2.45" height="3.85" fill="#dededf"/>
<rect x="293.18" y="147.16" width="2.45" height="3.85" fill="#dededf"/>
<rect x="296.05" y="147.16" width="2.45" height="3.85" fill="#dededf"/>
<rect x="298.93" y="147.16" width="2.45" height="3.85" fill="#dededf"/>
<rect x="301.8" y="147.16" width="2.45" height="3.85" fill="#dededf"/>
<rect x="304.68" y="147.16" width="2.45" height="3.85" fill="#dededf"/>
<rect x="307.55" y="147.16" width="2.45" height="3.85" fill="#dededf"/>
<rect x="310.43" y="147.16" width="2.45" height="3.85" fill="#dededf"/>
<rect x="313.3" y="147.16" width="2.45" height="3.85" fill="#dededf"/>
<rect x="316.18" y="147.16" width="2.45" height="3.85" fill="#dededf"/>
<text x="62.8" y="154.88" font-size="4.3" fill="#333" text-anchor="end">V416L</text>
<text x="321.2" y="154.48" font-size="4.2" fill="#333">2%</text>
<rect x="66.05" y="151.68" width="2.45" height="3.85" fill="#dededf"/>
<rect x="68.92" y="151.68" width="2.45" height="3.85" fill="#dededf"/>
<rect x="71.8" y="151.68" width="2.45" height="3.85" fill="#dededf"/>
<rect x="74.67" y="151.68" width="2.45" height="3.85" fill="#dededf"/>
<rect x="77.55" y="151.68" width="2.45" height="3.85" fill="#dededf"/>
<rect x="80.42" y="151.68" width="2.45" height="3.85" fill="#dededf"/>
<rect x="83.3" y="151.68" width="2.45" height="3.85" fill="#dededf"/>
<rect x="86.17" y="151.68" width="2.45" height="3.85" fill="#dededf"/>
<rect x="89.05" y="151.68" width="2.45" height="3.85" fill="#dededf"/>
<rect x="91.92" y="151.68" width="2.45" height="3.85" fill="#dededf"/>
<rect x="94.8" y="151.68" width="2.45" height="3.85" fill="#dededf"/>
<rect x="97.67" y="151.68" width="2.45" height="3.85" fill="#dededf"/>
<rect x="100.55" y="151.68" width="2.45" height="3.85" fill="#dededf"/>
<rect x="103.42" y="151.68" width="2.45" height="3.85" fill="#dededf"/>
<rect x="106.3" y="151.68" width="2.45" height="3.85" fill="#dededf"/>
<rect x="109.17" y="151.68" width="2.45" height="3.85" fill="#dededf"/>
<rect x="112.05" y="151.68" width="2.45" height="3.85" fill="#dededf"/>
<rect x="114.92" y="151.68" width="2.45" height="3.85" fill="#dededf"/>
<rect x="117.8" y="151.68" width="2.45" height="3.85" fill="#dededf"/>
<rect x="120.67" y="151.68" width="2.45" height="3.85" fill="#dededf"/>
<rect x="123.55" y="151.68" width="2.45" height="3.85" fill="#dededf"/>
<rect x="126.42" y="151.68" width="2.45" height="3.85" fill="#dededf"/>
<rect x="129.3" y="151.68" width="2.45" height="3.85" fill="#dededf"/>
<rect x="132.17" y="151.68" width="2.45" height="3.85" fill="#dededf"/>
<rect x="135.05" y="151.68" width="2.45" height="3.85" fill="#dededf"/>
<rect x="137.92" y="151.68" width="2.45" height="3.85" fill="#dededf"/>
<rect x="140.8" y="151.68" width="2.45" height="3.85" fill="#dededf"/>
<rect x="143.67" y="151.68" width="2.45" height="3.85" fill="#f6cbd3"/>
<rect x="146.55" y="151.68" width="2.45" height="3.85" fill="#dededf"/>
<rect x="149.42" y="151.68" width="2.45" height="3.85" fill="#dededf"/>
<rect x="152.3" y="151.68" width="2.45" height="3.85" fill="#dededf"/>
<rect x="155.17" y="151.68" width="2.45" height="3.85" fill="#dededf"/>
<rect x="158.05" y="151.68" width="2.45" height="3.85" fill="#dededf"/>
<rect x="160.92" y="151.68" width="2.45" height="3.85" fill="#dededf"/>
<rect x="163.8" y="151.68" width="2.45" height="3.85" fill="#dededf"/>
<rect x="166.67" y="151.68" width="2.45" height="3.85" fill="#dededf"/>
<rect x="169.55" y="151.68" width="2.45" height="3.85" fill="#f6cbd3"/>
<rect x="172.42" y="151.68" width="2.45" height="3.85" fill="#dededf"/>
<rect x="175.3" y="151.68" width="2.45" height="3.85" fill="#dededf"/>
<rect x="178.17" y="151.68" width="2.45" height="3.85" fill="#dededf"/>
<rect x="181.05" y="151.68" width="2.45" height="3.85" fill="#dededf"/>
<rect x="183.92" y="151.68" width="2.45" height="3.85" fill="#dededf"/>
<rect x="186.8" y="151.68" width="2.45" height="3.85" fill="#dededf"/>
<rect x="189.67" y="151.68" width="2.45" height="3.85" fill="#dededf"/>
<rect x="192.55" y="151.68" width="2.45" height="3.85" fill="#dededf"/>
<rect x="195.42" y="151.68" width="2.45" height="3.85" fill="#dededf"/>
<rect x="198.3" y="151.68" width="2.45" height="3.85" fill="#dededf"/>
<rect x="201.17" y="151.68" width="2.45" height="3.85" fill="#dededf"/>
<rect x="204.05" y="151.68" width="2.45" height="3.85" fill="#dededf"/>
<rect x="206.92" y="151.68" width="2.45" height="3.85" fill="#dededf"/>
<rect x="209.8" y="151.68" width="2.45" height="3.85" fill="#dededf"/>
<rect x="212.67" y="151.68" width="2.45" height="3.85" fill="#dededf"/>
<rect x="215.55" y="151.68" width="2.45" height="3.85" fill="#dededf"/>
<rect x="218.42" y="151.68" width="2.45" height="3.85" fill="#dededf"/>
<rect x="221.3" y="151.68" width="2.45" height="3.85" fill="#dededf"/>
<rect x="224.17" y="151.68" width="2.45" height="3.85" fill="#dededf"/>
<rect x="227.05" y="151.68" width="2.45" height="3.85" fill="#dededf"/>
<rect x="229.92" y="151.68" width="2.45" height="3.85" fill="#dededf"/>
<rect x="232.8" y="151.68" width="2.45" height="3.85" fill="#dededf"/>
<rect x="235.67" y="151.68" width="2.45" height="3.85" fill="#dededf"/>
<rect x="238.55" y="151.68" width="2.45" height="3.85" fill="#dededf"/>
<rect x="241.42" y="151.68" width="2.45" height="3.85" fill="#dededf"/>
<rect x="244.3" y="151.68" width="2.45" height="3.85" fill="#dededf"/>
<rect x="247.17" y="151.68" width="2.45" height="3.85" fill="#dededf"/>
<rect x="250.05" y="151.68" width="2.45" height="3.85" fill="#dededf"/>
<rect x="252.92" y="151.68" width="2.45" height="3.85" fill="#dededf"/>
<rect x="255.8" y="151.68" width="2.45" height="3.85" fill="#dededf"/>
<rect x="258.68" y="151.68" width="2.45" height="3.85" fill="#dededf"/>
<rect x="261.55" y="151.68" width="2.45" height="3.85" fill="#dededf"/>
<rect x="264.43" y="151.68" width="2.45" height="3.85" fill="#dededf"/>
<rect x="267.3" y="151.68" width="2.45" height="3.85" fill="#dededf"/>
<rect x="270.18" y="151.68" width="2.45" height="3.85" fill="#dededf"/>
<rect x="273.05" y="151.68" width="2.45" height="3.85" fill="#dededf"/>
<rect x="275.93" y="151.68" width="2.45" height="3.85" fill="#dededf"/>
<rect x="278.8" y="151.68" width="2.45" height="3.85" fill="#dededf"/>
<rect x="281.68" y="151.68" width="2.45" height="3.85" fill="#dededf"/>
<rect x="284.55" y="151.68" width="2.45" height="3.85" fill="#dededf"/>
<rect x="287.43" y="151.68" width="2.45" height="3.85" fill="#dededf"/>
<rect x="290.3" y="151.68" width="2.45" height="3.85" fill="#dededf"/>
<rect x="293.18" y="151.68" width="2.45" height="3.85" fill="#dededf"/>
<rect x="296.05" y="151.68" width="2.45" height="3.85" fill="#dededf"/>
<rect x="298.93" y="151.68" width="2.45" height="3.85" fill="#dededf"/>
<rect x="301.8" y="151.68" width="2.45" height="3.85" fill="#dededf"/>
<rect x="304.68" y="151.68" width="2.45" height="3.85" fill="#dededf"/>
<rect x="307.55" y="151.68" width="2.45" height="3.85" fill="#dededf"/>
<rect x="310.43" y="151.68" width="2.45" height="3.85" fill="#dededf"/>
<rect x="313.3" y="151.68" width="2.45" height="3.85" fill="#dededf"/>
<rect x="316.18" y="151.68" width="2.45" height="3.85" fill="#dededf"/>
<text x="62.8" y="159.4" font-size="4.3" fill="#333" text-anchor="end">Y545N</text>
<text x="321.2" y="159" font-size="4.2" fill="#333">1%</text>
<rect x="66.05" y="156.2" width="2.45" height="3.85" fill="#dededf"/>
<rect x="68.92" y="156.2" width="2.45" height="3.85" fill="#dededf"/>
<rect x="71.8" y="156.2" width="2.45" height="3.85" fill="#dededf"/>
<rect x="74.67" y="156.2" width="2.45" height="3.85" fill="#dededf"/>
<rect x="77.55" y="156.2" width="2.45" height="3.85" fill="#dededf"/>
<rect x="80.42" y="156.2" width="2.45" height="3.85" fill="#dededf"/>
<rect x="83.3" y="156.2" width="2.45" height="3.85" fill="#dededf"/>
<rect x="86.17" y="156.2" width="2.45" height="3.85" fill="#dededf"/>
<rect x="89.05" y="156.2" width="2.45" height="3.85" fill="#dededf"/>
<rect x="91.92" y="156.2" width="2.45" height="3.85" fill="#dededf"/>
<rect x="94.8" y="156.2" width="2.45" height="3.85" fill="#dededf"/>
<rect x="97.67" y="156.2" width="2.45" height="3.85" fill="#dededf"/>
<rect x="100.55" y="156.2" width="2.45" height="3.85" fill="#dededf"/>
<rect x="103.42" y="156.2" width="2.45" height="3.85" fill="#dededf"/>
<rect x="106.3" y="156.2" width="2.45" height="3.85" fill="#dededf"/>
<rect x="109.17" y="156.2" width="2.45" height="3.85" fill="#dededf"/>
<rect x="112.05" y="156.2" width="2.45" height="3.85" fill="#dededf"/>
<rect x="114.92" y="156.2" width="2.45" height="3.85" fill="#dededf"/>
<rect x="117.8" y="156.2" width="2.45" height="3.85" fill="#dededf"/>
<rect x="120.67" y="156.2" width="2.45" height="3.85" fill="#dededf"/>
<rect x="123.55" y="156.2" width="2.45" height="3.85" fill="#dededf"/>
<rect x="126.42" y="156.2" width="2.45" height="3.85" fill="#dededf"/>
<rect x="129.3" y="156.2" width="2.45" height="3.85" fill="#dededf"/>
<rect x="132.17" y="156.2" width="2.45" height="3.85" fill="#dededf"/>
<rect x="135.05" y="156.2" width="2.45" height="3.85" fill="#dededf"/>
<rect x="137.92" y="156.2" width="2.45" height="3.85" fill="#dededf"/>
<rect x="140.8" y="156.2" width="2.45" height="3.85" fill="#dededf"/>
<rect x="143.67" y="156.2" width="2.45" height="3.85" fill="#dededf"/>
<rect x="146.55" y="156.2" width="2.45" height="3.85" fill="#dededf"/>
<rect x="149.42" y="156.2" width="2.45" height="3.85" fill="#dededf"/>
<rect x="152.3" y="156.2" width="2.45" height="3.85" fill="#dededf"/>
<rect x="155.17" y="156.2" width="2.45" height="3.85" fill="#dededf"/>
<rect x="158.05" y="156.2" width="2.45" height="3.85" fill="#dededf"/>
<rect x="160.92" y="156.2" width="2.45" height="3.85" fill="#dededf"/>
<rect x="163.8" y="156.2" width="2.45" height="3.85" fill="#dededf"/>
<rect x="166.67" y="156.2" width="2.45" height="3.85" fill="#dededf"/>
<rect x="169.55" y="156.2" width="2.45" height="3.85" fill="#dededf"/>
<rect x="172.42" y="156.2" width="2.45" height="3.85" fill="#f6cbd3"/>
<rect x="175.3" y="156.2" width="2.45" height="3.85" fill="#dededf"/>
<rect x="178.17" y="156.2" width="2.45" height="3.85" fill="#dededf"/>
<rect x="181.05" y="156.2" width="2.45" height="3.85" fill="#dededf"/>
<rect x="183.92" y="156.2" width="2.45" height="3.85" fill="#dededf"/>
<rect x="186.8" y="156.2" width="2.45" height="3.85" fill="#dededf"/>
<rect x="189.67" y="156.2" width="2.45" height="3.85" fill="#dededf"/>
<rect x="192.55" y="156.2" width="2.45" height="3.85" fill="#dededf"/>
<rect x="195.42" y="156.2" width="2.45" height="3.85" fill="#dededf"/>
<rect x="198.3" y="156.2" width="2.45" height="3.85" fill="#dededf"/>
<rect x="201.17" y="156.2" width="2.45" height="3.85" fill="#dededf"/>
<rect x="204.05" y="156.2" width="2.45" height="3.85" fill="#dededf"/>
<rect x="206.92" y="156.2" width="2.45" height="3.85" fill="#dededf"/>
<rect x="209.8" y="156.2" width="2.45" height="3.85" fill="#dededf"/>
<rect x="212.67" y="156.2" width="2.45" height="3.85" fill="#dededf"/>
<rect x="215.55" y="156.2" width="2.45" height="3.85" fill="#dededf"/>
<rect x="218.42" y="156.2" width="2.45" height="3.85" fill="#dededf"/>
<rect x="221.3" y="156.2" width="2.45" height="3.85" fill="#dededf"/>
<rect x="224.17" y="156.2" width="2.45" height="3.85" fill="#dededf"/>
<rect x="227.05" y="156.2" width="2.45" height="3.85" fill="#dededf"/>
<rect x="229.92" y="156.2" width="2.45" height="3.85" fill="#dededf"/>
<rect x="232.8" y="156.2" width="2.45" height="3.85" fill="#dededf"/>
<rect x="235.67" y="156.2" width="2.45" height="3.85" fill="#dededf"/>
<rect x="238.55" y="156.2" width="2.45" height="3.85" fill="#dededf"/>
<rect x="241.42" y="156.2" width="2.45" height="3.85" fill="#dededf"/>
<rect x="244.3" y="156.2" width="2.45" height="3.85" fill="#dededf"/>
<rect x="247.17" y="156.2" width="2.45" height="3.85" fill="#dededf"/>
<rect x="250.05" y="156.2" width="2.45" height="3.85" fill="#dededf"/>
<rect x="252.92" y="156.2" width="2.45" height="3.85" fill="#dededf"/>
<rect x="255.8" y="156.2" width="2.45" height="3.85" fill="#dededf"/>
<rect x="258.68" y="156.2" width="2.45" height="3.85" fill="#dededf"/>
<rect x="261.55" y="156.2" width="2.45" height="3.85" fill="#dededf"/>
<rect x="264.43" y="156.2" width="2.45" height="3.85" fill="#dededf"/>
<rect x="267.3" y="156.2" width="2.45" height="3.85" fill="#dededf"/>
<rect x="270.18" y="156.2" width="2.45" height="3.85" fill="#dededf"/>
<rect x="273.05" y="156.2" width="2.45" height="3.85" fill="#dededf"/>
<rect x="275.93" y="156.2" width="2.45" height="3.85" fill="#dededf"/>
<rect x="278.8" y="156.2" width="2.45" height="3.85" fill="#dededf"/>
<rect x="281.68" y="156.2" width="2.45" height="3.85" fill="#dededf"/>
<rect x="284.55" y="156.2" width="2.45" height="3.85" fill="#dededf"/>
<rect x="287.43" y="156.2" width="2.45" height="3.85" fill="#dededf"/>
<rect x="290.3" y="156.2" width="2.45" height="3.85" fill="#dededf"/>
<rect x="293.18" y="156.2" width="2.45" height="3.85" fill="#dededf"/>
<rect x="296.05" y="156.2" width="2.45" height="3.85" fill="#dededf"/>
<rect x="298.93" y="156.2" width="2.45" height="3.85" fill="#dededf"/>
<rect x="301.8" y="156.2" width="2.45" height="3.85" fill="#dededf"/>
<rect x="304.68" y="156.2" width="2.45" height="3.85" fill="#dededf"/>
<rect x="307.55" y="156.2" width="2.45" height="3.85" fill="#dededf"/>
<rect x="310.43" y="156.2" width="2.45" height="3.85" fill="#dededf"/>
<rect x="313.3" y="156.2" width="2.45" height="3.85" fill="#dededf"/>
<rect x="316.18" y="156.2" width="2.45" height="3.85" fill="#dededf"/>
<text x="62.8" y="163.92" font-size="4.3" fill="#333" text-anchor="end">D539G/H/A</text>
<text x="321.2" y="163.52" font-size="4.2" fill="#333">1%</text>
<rect x="66.05" y="160.72" width="2.45" height="3.85" fill="#dededf"/>
<rect x="68.92" y="160.72" width="2.45" height="3.85" fill="#dededf"/>
<rect x="71.8" y="160.72" width="2.45" height="3.85" fill="#dededf"/>
<rect x="74.67" y="160.72" width="2.45" height="3.85" fill="#dededf"/>
<rect x="77.55" y="160.72" width="2.45" height="3.85" fill="#dededf"/>
<rect x="80.42" y="160.72" width="2.45" height="3.85" fill="#dededf"/>
<rect x="83.3" y="160.72" width="2.45" height="3.85" fill="#dededf"/>
<rect x="86.17" y="160.72" width="2.45" height="3.85" fill="#dededf"/>
<rect x="89.05" y="160.72" width="2.45" height="3.85" fill="#dededf"/>
<rect x="91.92" y="160.72" width="2.45" height="3.85" fill="#dededf"/>
<rect x="94.8" y="160.72" width="2.45" height="3.85" fill="#dededf"/>
<rect x="97.67" y="160.72" width="2.45" height="3.85" fill="#dededf"/>
<rect x="100.55" y="160.72" width="2.45" height="3.85" fill="#dededf"/>
<rect x="103.42" y="160.72" width="2.45" height="3.85" fill="#dededf"/>
<rect x="106.3" y="160.72" width="2.45" height="3.85" fill="#dededf"/>
<rect x="109.17" y="160.72" width="2.45" height="3.85" fill="#dededf"/>
<rect x="112.05" y="160.72" width="2.45" height="3.85" fill="#dededf"/>
<rect x="114.92" y="160.72" width="2.45" height="3.85" fill="#dededf"/>
<rect x="117.8" y="160.72" width="2.45" height="3.85" fill="#dededf"/>
<rect x="120.67" y="160.72" width="2.45" height="3.85" fill="#dededf"/>
<rect x="123.55" y="160.72" width="2.45" height="3.85" fill="#dededf"/>
<rect x="126.42" y="160.72" width="2.45" height="3.85" fill="#dededf"/>
<rect x="129.3" y="160.72" width="2.45" height="3.85" fill="#dededf"/>
<rect x="132.17" y="160.72" width="2.45" height="3.85" fill="#dededf"/>
<rect x="135.05" y="160.72" width="2.45" height="3.85" fill="#dededf"/>
<rect x="137.92" y="160.72" width="2.45" height="3.85" fill="#dededf"/>
<rect x="140.8" y="160.72" width="2.45" height="3.85" fill="#dededf"/>
<rect x="143.67" y="160.72" width="2.45" height="3.85" fill="#dededf"/>
<rect x="146.55" y="160.72" width="2.45" height="3.85" fill="#dededf"/>
<rect x="149.42" y="160.72" width="2.45" height="3.85" fill="#dededf"/>
<rect x="152.3" y="160.72" width="2.45" height="3.85" fill="#dededf"/>
<rect x="155.17" y="160.72" width="2.45" height="3.85" fill="#dededf"/>
<rect x="158.05" y="160.72" width="2.45" height="3.85" fill="#dededf"/>
<rect x="160.92" y="160.72" width="2.45" height="3.85" fill="#dededf"/>
<rect x="163.8" y="160.72" width="2.45" height="3.85" fill="#dededf"/>
<rect x="166.67" y="160.72" width="2.45" height="3.85" fill="#dededf"/>
<rect x="169.55" y="160.72" width="2.45" height="3.85" fill="#dededf"/>
<rect x="172.42" y="160.72" width="2.45" height="3.85" fill="#dededf"/>
<rect x="175.3" y="160.72" width="2.45" height="3.85" fill="#5c0d1c"/>
<rect x="178.17" y="160.72" width="2.45" height="3.85" fill="#dededf"/>
<rect x="181.05" y="160.72" width="2.45" height="3.85" fill="#dededf"/>
<rect x="183.92" y="160.72" width="2.45" height="3.85" fill="#dededf"/>
<rect x="186.8" y="160.72" width="2.45" height="3.85" fill="#dededf"/>
<rect x="189.67" y="160.72" width="2.45" height="3.85" fill="#dededf"/>
<rect x="192.55" y="160.72" width="2.45" height="3.85" fill="#dededf"/>
<rect x="195.42" y="160.72" width="2.45" height="3.85" fill="#dededf"/>
<rect x="198.3" y="160.72" width="2.45" height="3.85" fill="#dededf"/>
<rect x="201.17" y="160.72" width="2.45" height="3.85" fill="#dededf"/>
<rect x="204.05" y="160.72" width="2.45" height="3.85" fill="#dededf"/>
<rect x="206.92" y="160.72" width="2.45" height="3.85" fill="#dededf"/>
<rect x="209.8" y="160.72" width="2.45" height="3.85" fill="#dededf"/>
<rect x="212.67" y="160.72" width="2.45" height="3.85" fill="#dededf"/>
<rect x="215.55" y="160.72" width="2.45" height="3.85" fill="#dededf"/>
<rect x="218.42" y="160.72" width="2.45" height="3.85" fill="#dededf"/>
<rect x="221.3" y="160.72" width="2.45" height="3.85" fill="#dededf"/>
<rect x="224.17" y="160.72" width="2.45" height="3.85" fill="#dededf"/>
<rect x="227.05" y="160.72" width="2.45" height="3.85" fill="#dededf"/>
<rect x="229.92" y="160.72" width="2.45" height="3.85" fill="#dededf"/>
<rect x="232.8" y="160.72" width="2.45" height="3.85" fill="#dededf"/>
<rect x="235.67" y="160.72" width="2.45" height="3.85" fill="#dededf"/>
<rect x="238.55" y="160.72" width="2.45" height="3.85" fill="#dededf"/>
<rect x="241.42" y="160.72" width="2.45" height="3.85" fill="#dededf"/>
<rect x="244.3" y="160.72" width="2.45" height="3.85" fill="#dededf"/>
<rect x="247.17" y="160.72" width="2.45" height="3.85" fill="#dededf"/>
<rect x="250.05" y="160.72" width="2.45" height="3.85" fill="#dededf"/>
<rect x="252.92" y="160.72" width="2.45" height="3.85" fill="#dededf"/>
<rect x="255.8" y="160.72" width="2.45" height="3.85" fill="#dededf"/>
<rect x="258.68" y="160.72" width="2.45" height="3.85" fill="#dededf"/>
<rect x="261.55" y="160.72" width="2.45" height="3.85" fill="#dededf"/>
<rect x="264.43" y="160.72" width="2.45" height="3.85" fill="#dededf"/>
<rect x="267.3" y="160.72" width="2.45" height="3.85" fill="#dededf"/>
<rect x="270.18" y="160.72" width="2.45" height="3.85" fill="#dededf"/>
<rect x="273.05" y="160.72" width="2.45" height="3.85" fill="#dededf"/>
<rect x="275.93" y="160.72" width="2.45" height="3.85" fill="#dededf"/>
<rect x="278.8" y="160.72" width="2.45" height="3.85" fill="#dededf"/>
<rect x="281.68" y="160.72" width="2.45" height="3.85" fill="#dededf"/>
<rect x="284.55" y="160.72" width="2.45" height="3.85" fill="#dededf"/>
<rect x="287.43" y="160.72" width="2.45" height="3.85" fill="#dededf"/>
<rect x="290.3" y="160.72" width="2.45" height="3.85" fill="#dededf"/>
<rect x="293.18" y="160.72" width="2.45" height="3.85" fill="#dededf"/>
<rect x="296.05" y="160.72" width="2.45" height="3.85" fill="#dededf"/>
<rect x="298.93" y="160.72" width="2.45" height="3.85" fill="#dededf"/>
<rect x="301.8" y="160.72" width="2.45" height="3.85" fill="#dededf"/>
<rect x="304.68" y="160.72" width="2.45" height="3.85" fill="#dededf"/>
<rect x="307.55" y="160.72" width="2.45" height="3.85" fill="#dededf"/>
<rect x="310.43" y="160.72" width="2.45" height="3.85" fill="#dededf"/>
<rect x="313.3" y="160.72" width="2.45" height="3.85" fill="#dededf"/>
<rect x="316.18" y="160.72" width="2.45" height="3.85" fill="#dededf"/>
<text x="62.8" y="168.44" font-size="4.3" fill="#333" text-anchor="end">A428D</text>
<text x="321.2" y="168.04" font-size="4.2" fill="#333">1%</text>
<rect x="66.05" y="165.24" width="2.45" height="3.85" fill="#dededf"/>
<rect x="68.92" y="165.24" width="2.45" height="3.85" fill="#dededf"/>
<rect x="71.8" y="165.24" width="2.45" height="3.85" fill="#dededf"/>
<rect x="74.67" y="165.24" width="2.45" height="3.85" fill="#dededf"/>
<rect x="77.55" y="165.24" width="2.45" height="3.85" fill="#dededf"/>
<rect x="80.42" y="165.24" width="2.45" height="3.85" fill="#dededf"/>
<rect x="83.3" y="165.24" width="2.45" height="3.85" fill="#dededf"/>
<rect x="86.17" y="165.24" width="2.45" height="3.85" fill="#dededf"/>
<rect x="89.05" y="165.24" width="2.45" height="3.85" fill="#dededf"/>
<rect x="91.92" y="165.24" width="2.45" height="3.85" fill="#dededf"/>
<rect x="94.8" y="165.24" width="2.45" height="3.85" fill="#dededf"/>
<rect x="97.67" y="165.24" width="2.45" height="3.85" fill="#dededf"/>
<rect x="100.55" y="165.24" width="2.45" height="3.85" fill="#dededf"/>
<rect x="103.42" y="165.24" width="2.45" height="3.85" fill="#dededf"/>
<rect x="106.3" y="165.24" width="2.45" height="3.85" fill="#dededf"/>
<rect x="109.17" y="165.24" width="2.45" height="3.85" fill="#dededf"/>
<rect x="112.05" y="165.24" width="2.45" height="3.85" fill="#dededf"/>
<rect x="114.92" y="165.24" width="2.45" height="3.85" fill="#dededf"/>
<rect x="117.8" y="165.24" width="2.45" height="3.85" fill="#dededf"/>
<rect x="120.67" y="165.24" width="2.45" height="3.85" fill="#dededf"/>
<rect x="123.55" y="165.24" width="2.45" height="3.85" fill="#dededf"/>
<rect x="126.42" y="165.24" width="2.45" height="3.85" fill="#dededf"/>
<rect x="129.3" y="165.24" width="2.45" height="3.85" fill="#dededf"/>
<rect x="132.17" y="165.24" width="2.45" height="3.85" fill="#dededf"/>
<rect x="135.05" y="165.24" width="2.45" height="3.85" fill="#dededf"/>
<rect x="137.92" y="165.24" width="2.45" height="3.85" fill="#dededf"/>
<rect x="140.8" y="165.24" width="2.45" height="3.85" fill="#dededf"/>
<rect x="143.67" y="165.24" width="2.45" height="3.85" fill="#dededf"/>
<rect x="146.55" y="165.24" width="2.45" height="3.85" fill="#f6cbd3"/>
<rect x="149.42" y="165.24" width="2.45" height="3.85" fill="#dededf"/>
<rect x="152.3" y="165.24" width="2.45" height="3.85" fill="#dededf"/>
<rect x="155.17" y="165.24" width="2.45" height="3.85" fill="#dededf"/>
<rect x="158.05" y="165.24" width="2.45" height="3.85" fill="#dededf"/>
<rect x="160.92" y="165.24" width="2.45" height="3.85" fill="#dededf"/>
<rect x="163.8" y="165.24" width="2.45" height="3.85" fill="#dededf"/>
<rect x="166.67" y="165.24" width="2.45" height="3.85" fill="#dededf"/>
<rect x="169.55" y="165.24" width="2.45" height="3.85" fill="#dededf"/>
<rect x="172.42" y="165.24" width="2.45" height="3.85" fill="#dededf"/>
<rect x="175.3" y="165.24" width="2.45" height="3.85" fill="#dededf"/>
<rect x="178.17" y="165.24" width="2.45" height="3.85" fill="#dededf"/>
<rect x="181.05" y="165.24" width="2.45" height="3.85" fill="#dededf"/>
<rect x="183.92" y="165.24" width="2.45" height="3.85" fill="#dededf"/>
<rect x="186.8" y="165.24" width="2.45" height="3.85" fill="#dededf"/>
<rect x="189.67" y="165.24" width="2.45" height="3.85" fill="#dededf"/>
<rect x="192.55" y="165.24" width="2.45" height="3.85" fill="#dededf"/>
<rect x="195.42" y="165.24" width="2.45" height="3.85" fill="#dededf"/>
<rect x="198.3" y="165.24" width="2.45" height="3.85" fill="#dededf"/>
<rect x="201.17" y="165.24" width="2.45" height="3.85" fill="#dededf"/>
<rect x="204.05" y="165.24" width="2.45" height="3.85" fill="#dededf"/>
<rect x="206.92" y="165.24" width="2.45" height="3.85" fill="#dededf"/>
<rect x="209.8" y="165.24" width="2.45" height="3.85" fill="#dededf"/>
<rect x="212.67" y="165.24" width="2.45" height="3.85" fill="#dededf"/>
<rect x="215.55" y="165.24" width="2.45" height="3.85" fill="#dededf"/>
<rect x="218.42" y="165.24" width="2.45" height="3.85" fill="#dededf"/>
<rect x="221.3" y="165.24" width="2.45" height="3.85" fill="#dededf"/>
<rect x="224.17" y="165.24" width="2.45" height="3.85" fill="#dededf"/>
<rect x="227.05" y="165.24" width="2.45" height="3.85" fill="#dededf"/>
<rect x="229.92" y="165.24" width="2.45" height="3.85" fill="#dededf"/>
<rect x="232.8" y="165.24" width="2.45" height="3.85" fill="#dededf"/>
<rect x="235.67" y="165.24" width="2.45" height="3.85" fill="#dededf"/>
<rect x="238.55" y="165.24" width="2.45" height="3.85" fill="#dededf"/>
<rect x="241.42" y="165.24" width="2.45" height="3.85" fill="#dededf"/>
<rect x="244.3" y="165.24" width="2.45" height="3.85" fill="#dededf"/>
<rect x="247.17" y="165.24" width="2.45" height="3.85" fill="#dededf"/>
<rect x="250.05" y="165.24" width="2.45" height="3.85" fill="#dededf"/>
<rect x="252.92" y="165.24" width="2.45" height="3.85" fill="#dededf"/>
<rect x="255.8" y="165.24" width="2.45" height="3.85" fill="#f6cbd3"/>
<rect x="258.68" y="165.24" width="2.45" height="3.85" fill="#f6cbd3"/>
<rect x="261.55" y="165.24" width="2.45" height="3.85" fill="#f6cbd3"/>
<rect x="264.43" y="165.24" width="2.45" height="3.85" fill="#dededf"/>
<rect x="267.3" y="165.24" width="2.45" height="3.85" fill="#dededf"/>
<rect x="270.18" y="165.24" width="2.45" height="3.85" fill="#dededf"/>
<rect x="273.05" y="165.24" width="2.45" height="3.85" fill="#dededf"/>
<rect x="275.93" y="165.24" width="2.45" height="3.85" fill="#dededf"/>
<rect x="278.8" y="165.24" width="2.45" height="3.85" fill="#dededf"/>
<rect x="281.68" y="165.24" width="2.45" height="3.85" fill="#dededf"/>
<rect x="284.55" y="165.24" width="2.45" height="3.85" fill="#dededf"/>
<rect x="287.43" y="165.24" width="2.45" height="3.85" fill="#dededf"/>
<rect x="290.3" y="165.24" width="2.45" height="3.85" fill="#dededf"/>
<rect x="293.18" y="165.24" width="2.45" height="3.85" fill="#dededf"/>
<rect x="296.05" y="165.24" width="2.45" height="3.85" fill="#dededf"/>
<rect x="298.93" y="165.24" width="2.45" height="3.85" fill="#dededf"/>
<rect x="301.8" y="165.24" width="2.45" height="3.85" fill="#dededf"/>
<rect x="304.68" y="165.24" width="2.45" height="3.85" fill="#dededf"/>
<rect x="307.55" y="165.24" width="2.45" height="3.85" fill="#dededf"/>
<rect x="310.43" y="165.24" width="2.45" height="3.85" fill="#dededf"/>
<rect x="313.3" y="165.24" width="2.45" height="3.85" fill="#dededf"/>
<rect x="316.18" y="165.24" width="2.45" height="3.85" fill="#dededf"/>
<text x="62.8" y="172.96" font-size="4.3" fill="#333" text-anchor="end">TP53</text>
<text x="321.2" y="172.56" font-size="4.2" fill="#333">14%</text>
<rect x="66.05" y="169.76" width="2.45" height="3.85" fill="#dededf"/>
<rect x="68.92" y="169.76" width="2.45" height="3.85" fill="#dededf"/>
<rect x="71.8" y="169.76" width="2.45" height="3.85" fill="#dededf"/>
<rect x="74.67" y="169.76" width="2.45" height="3.85" fill="#dededf"/>
<rect x="77.55" y="169.76" width="2.45" height="3.85" fill="#dededf"/>
<rect x="80.42" y="169.76" width="2.45" height="3.85" fill="#f6cbd3"/>
<rect x="83.3" y="169.76" width="2.45" height="3.85" fill="#dededf"/>
<rect x="86.17" y="169.76" width="2.45" height="3.85" fill="#cfe8f4"/>
<rect x="89.05" y="169.76" width="2.45" height="3.85" fill="#cfe8f4"/>
<rect x="91.92" y="169.76" width="2.45" height="3.85" fill="#f6cbd3"/>
<rect x="94.8" y="169.76" width="2.45" height="3.85" fill="#cfe8f4"/>
<rect x="97.67" y="169.76" width="2.45" height="3.85" fill="#dededf"/>
<rect x="100.55" y="169.76" width="2.45" height="3.85" fill="#dededf"/>
<rect x="103.42" y="169.76" width="2.45" height="3.85" fill="#dededf"/>
<rect x="106.3" y="169.76" width="2.45" height="3.85" fill="#dededf"/>
<rect x="109.17" y="169.76" width="2.45" height="3.85" fill="#c8173a"/>
<rect x="112.05" y="169.76" width="2.45" height="3.85" fill="#c8173a"/>
<rect x="114.92" y="169.76" width="2.45" height="3.85" fill="#dededf"/>
<rect x="117.8" y="169.76" width="2.45" height="3.85" fill="#dededf"/>
<rect x="120.67" y="169.76" width="2.45" height="3.85" fill="#dededf"/>
<rect x="123.55" y="169.76" width="2.45" height="3.85" fill="#dededf"/>
<rect x="126.42" y="169.76" width="2.45" height="3.85" fill="#dededf"/>
<rect x="129.3" y="169.76" width="2.45" height="3.85" fill="#dededf"/>
<rect x="132.17" y="169.76" width="2.45" height="3.85" fill="#dededf"/>
<rect x="135.05" y="169.76" width="2.45" height="3.85" fill="#dededf"/>
<rect x="137.92" y="169.76" width="2.45" height="3.85" fill="#dededf"/>
<rect x="140.8" y="169.76" width="2.45" height="3.85" fill="#dededf"/>
<rect x="143.67" y="169.76" width="2.45" height="3.85" fill="#dededf"/>
<rect x="146.55" y="169.76" width="2.45" height="3.85" fill="#dededf"/>
<rect x="149.42" y="169.76" width="2.45" height="3.85" fill="#dededf"/>
<rect x="152.3" y="169.76" width="2.45" height="3.85" fill="#dededf"/>
<rect x="155.17" y="169.76" width="2.45" height="3.85" fill="#dededf"/>
<rect x="158.05" y="169.76" width="2.45" height="3.85" fill="#dededf"/>
<rect x="160.92" y="169.76" width="2.45" height="3.85" fill="#dededf"/>
<rect x="163.8" y="169.76" width="2.45" height="3.85" fill="#dededf"/>
<rect x="166.67" y="169.76" width="2.45" height="3.85" fill="#dededf"/>
<rect x="169.55" y="169.76" width="2.45" height="3.85" fill="#f6cbd3"/>
<rect x="172.42" y="169.76" width="2.45" height="3.85" fill="#dededf"/>
<rect x="175.3" y="169.76" width="2.45" height="3.85" fill="#dededf"/>
<rect x="178.17" y="169.76" width="2.45" height="3.85" fill="#f6cbd3"/>
<rect x="181.05" y="169.76" width="2.45" height="3.85" fill="#dededf"/>
<rect x="183.92" y="169.76" width="2.45" height="3.85" fill="#dededf"/>
<rect x="186.8" y="169.76" width="2.45" height="3.85" fill="#dededf"/>
<rect x="189.67" y="169.76" width="2.45" height="3.85" fill="#f6cbd3"/>
<rect x="192.55" y="169.76" width="2.45" height="3.85" fill="#f6cbd3"/>
<rect x="195.42" y="169.76" width="2.45" height="3.85" fill="#f6cbd3"/>
<rect x="198.3" y="169.76" width="2.45" height="3.85" fill="#dededf"/>
<rect x="201.17" y="169.76" width="2.45" height="3.85" fill="#dededf"/>
<rect x="204.05" y="169.76" width="2.45" height="3.85" fill="#dededf"/>
<rect x="206.92" y="169.76" width="2.45" height="3.85" fill="#dededf"/>
<rect x="209.8" y="169.76" width="2.45" height="3.85" fill="#dededf"/>
<rect x="212.67" y="169.76" width="2.45" height="3.85" fill="#dededf"/>
<rect x="215.55" y="169.76" width="2.45" height="3.85" fill="#dededf"/>
<rect x="218.42" y="169.76" width="2.45" height="3.85" fill="#dededf"/>
<rect x="221.3" y="169.76" width="2.45" height="3.85" fill="#dededf"/>
<rect x="224.17" y="169.76" width="2.45" height="3.85" fill="#dededf"/>
<rect x="227.05" y="169.76" width="2.45" height="3.85" fill="#dededf"/>
<rect x="229.92" y="169.76" width="2.45" height="3.85" fill="#dededf"/>
<rect x="232.8" y="169.76" width="2.45" height="3.85" fill="#dededf"/>
<rect x="235.67" y="169.76" width="2.45" height="3.85" fill="#dededf"/>
<rect x="238.55" y="169.76" width="2.45" height="3.85" fill="#dededf"/>
<rect x="241.42" y="169.76" width="2.45" height="3.85" fill="#dededf"/>
<rect x="244.3" y="169.76" width="2.45" height="3.85" fill="#dededf"/>
<rect x="247.17" y="169.76" width="2.45" height="3.85" fill="#dededf"/>
<rect x="250.05" y="169.76" width="2.45" height="3.85" fill="#dededf"/>
<rect x="252.92" y="169.76" width="2.45" height="3.85" fill="#dededf"/>
<rect x="255.8" y="169.76" width="2.45" height="3.85" fill="#8cc6e2"/>
<rect x="258.68" y="169.76" width="2.45" height="3.85" fill="#cfe8f4"/>
<rect x="261.55" y="169.76" width="2.45" height="3.85" fill="#dededf"/>
<rect x="264.43" y="169.76" width="2.45" height="3.85" fill="#dededf"/>
<rect x="267.3" y="169.76" width="2.45" height="3.85" fill="#dededf"/>
<rect x="270.18" y="169.76" width="2.45" height="3.85" fill="#dededf"/>
<rect x="273.05" y="169.76" width="2.45" height="3.85" fill="#dededf"/>
<rect x="275.93" y="169.76" width="2.45" height="3.85" fill="#dededf"/>
<rect x="278.8" y="169.76" width="2.45" height="3.85" fill="#dededf"/>
<rect x="281.68" y="169.76" width="2.45" height="3.85" fill="#dededf"/>
<rect x="284.55" y="169.76" width="2.45" height="3.85" fill="#dededf"/>
<rect x="287.43" y="169.76" width="2.45" height="3.85" fill="#dededf"/>
<rect x="290.3" y="169.76" width="2.45" height="3.85" fill="#dededf"/>
<rect x="293.18" y="169.76" width="2.45" height="3.85" fill="#dededf"/>
<rect x="296.05" y="169.76" width="2.45" height="3.85" fill="#dededf"/>
<rect x="298.93" y="169.76" width="2.45" height="3.85" fill="#dededf"/>
<rect x="301.8" y="169.76" width="2.45" height="3.85" fill="#dededf"/>
<rect x="304.68" y="169.76" width="2.45" height="3.85" fill="#dededf"/>
<rect x="307.55" y="169.76" width="2.45" height="3.85" fill="#dededf"/>
<rect x="310.43" y="169.76" width="2.45" height="3.85" fill="#dededf"/>
<rect x="313.3" y="169.76" width="2.45" height="3.85" fill="#dededf"/>
<rect x="316.18" y="169.76" width="2.45" height="3.85" fill="#dededf"/>
<text x="62.8" y="177.48" font-size="4.3" fill="#333" text-anchor="end">PLCG2</text>
<text x="321.2" y="177.08" font-size="4.2" fill="#333">7%</text>
<rect x="66.05" y="174.28" width="2.45" height="3.85" fill="#dededf"/>
<rect x="68.92" y="174.28" width="2.45" height="3.85" fill="#dededf"/>
<rect x="71.8" y="174.28" width="2.45" height="3.85" fill="#dededf"/>
<rect x="74.67" y="174.28" width="2.45" height="3.85" fill="#dededf"/>
<rect x="77.55" y="174.28" width="2.45" height="3.85" fill="#dededf"/>
<rect x="80.42" y="174.28" width="2.45" height="3.85" fill="#dededf"/>
<rect x="83.3" y="174.28" width="2.45" height="3.85" fill="#dededf"/>
<rect x="86.17" y="174.28" width="2.45" height="3.85" fill="#dededf"/>
<rect x="89.05" y="174.28" width="2.45" height="3.85" fill="#dededf"/>
<rect x="91.92" y="174.28" width="2.45" height="3.85" fill="#f6cbd3"/>
<rect x="94.8" y="174.28" width="2.45" height="3.85" fill="#dededf"/>
<rect x="97.67" y="174.28" width="2.45" height="3.85" fill="#dededf"/>
<rect x="100.55" y="174.28" width="2.45" height="3.85" fill="#dededf"/>
<rect x="103.42" y="174.28" width="2.45" height="3.85" fill="#dededf"/>
<rect x="106.3" y="174.28" width="2.45" height="3.85" fill="#dededf"/>
<rect x="109.17" y="174.28" width="2.45" height="3.85" fill="#dededf"/>
<rect x="112.05" y="174.28" width="2.45" height="3.85" fill="#dededf"/>
<rect x="114.92" y="174.28" width="2.45" height="3.85" fill="#dededf"/>
<rect x="117.8" y="174.28" width="2.45" height="3.85" fill="#dededf"/>
<rect x="120.67" y="174.28" width="2.45" height="3.85" fill="#dededf"/>
<rect x="123.55" y="174.28" width="2.45" height="3.85" fill="#dededf"/>
<rect x="126.42" y="174.28" width="2.45" height="3.85" fill="#dededf"/>
<rect x="129.3" y="174.28" width="2.45" height="3.85" fill="#dededf"/>
<rect x="132.17" y="174.28" width="2.45" height="3.85" fill="#dededf"/>
<rect x="135.05" y="174.28" width="2.45" height="3.85" fill="#dededf"/>
<rect x="137.92" y="174.28" width="2.45" height="3.85" fill="#dededf"/>
<rect x="140.8" y="174.28" width="2.45" height="3.85" fill="#dededf"/>
<rect x="143.67" y="174.28" width="2.45" height="3.85" fill="#dededf"/>
<rect x="146.55" y="174.28" width="2.45" height="3.85" fill="#dededf"/>
<rect x="149.42" y="174.28" width="2.45" height="3.85" fill="#f6cbd3"/>
<rect x="152.3" y="174.28" width="2.45" height="3.85" fill="#dededf"/>
<rect x="155.17" y="174.28" width="2.45" height="3.85" fill="#dededf"/>
<rect x="158.05" y="174.28" width="2.45" height="3.85" fill="#dededf"/>
<rect x="160.92" y="174.28" width="2.45" height="3.85" fill="#dededf"/>
<rect x="163.8" y="174.28" width="2.45" height="3.85" fill="#dededf"/>
<rect x="166.67" y="174.28" width="2.45" height="3.85" fill="#dededf"/>
<rect x="169.55" y="174.28" width="2.45" height="3.85" fill="#dededf"/>
<rect x="172.42" y="174.28" width="2.45" height="3.85" fill="#dededf"/>
<rect x="175.3" y="174.28" width="2.45" height="3.85" fill="#dededf"/>
<rect x="178.17" y="174.28" width="2.45" height="3.85" fill="#dededf"/>
<rect x="181.05" y="174.28" width="2.45" height="3.85" fill="#f6cbd3"/>
<rect x="183.92" y="174.28" width="2.45" height="3.85" fill="#dededf"/>
<rect x="186.8" y="174.28" width="2.45" height="3.85" fill="#dededf"/>
<rect x="189.67" y="174.28" width="2.45" height="3.85" fill="#dededf"/>
<rect x="192.55" y="174.28" width="2.45" height="3.85" fill="#dededf"/>
<rect x="195.42" y="174.28" width="2.45" height="3.85" fill="#dededf"/>
<rect x="198.3" y="174.28" width="2.45" height="3.85" fill="#dededf"/>
<rect x="201.17" y="174.28" width="2.45" height="3.85" fill="#dededf"/>
<rect x="204.05" y="174.28" width="2.45" height="3.85" fill="#f6cbd3"/>
<rect x="206.92" y="174.28" width="2.45" height="3.85" fill="#dededf"/>
<rect x="209.8" y="174.28" width="2.45" height="3.85" fill="#dededf"/>
<rect x="212.67" y="174.28" width="2.45" height="3.85" fill="#dededf"/>
<rect x="215.55" y="174.28" width="2.45" height="3.85" fill="#dededf"/>
<rect x="218.42" y="174.28" width="2.45" height="3.85" fill="#dededf"/>
<rect x="221.3" y="174.28" width="2.45" height="3.85" fill="#dededf"/>
<rect x="224.17" y="174.28" width="2.45" height="3.85" fill="#dededf"/>
<rect x="227.05" y="174.28" width="2.45" height="3.85" fill="#dededf"/>
<rect x="229.92" y="174.28" width="2.45" height="3.85" fill="#dededf"/>
<rect x="232.8" y="174.28" width="2.45" height="3.85" fill="#dededf"/>
<rect x="235.67" y="174.28" width="2.45" height="3.85" fill="#dededf"/>
<rect x="238.55" y="174.28" width="2.45" height="3.85" fill="#dededf"/>
<rect x="241.42" y="174.28" width="2.45" height="3.85" fill="#dededf"/>
<rect x="244.3" y="174.28" width="2.45" height="3.85" fill="#dededf"/>
<rect x="247.17" y="174.28" width="2.45" height="3.85" fill="#dededf"/>
<rect x="250.05" y="174.28" width="2.45" height="3.85" fill="#dededf"/>
<rect x="252.92" y="174.28" width="2.45" height="3.85" fill="#dededf"/>
<rect x="255.8" y="174.28" width="2.45" height="3.85" fill="#dededf"/>
<rect x="258.68" y="174.28" width="2.45" height="3.85" fill="#dededf"/>
<rect x="261.55" y="174.28" width="2.45" height="3.85" fill="#dededf"/>
<rect x="264.43" y="174.28" width="2.45" height="3.85" fill="#dededf"/>
<rect x="267.3" y="174.28" width="2.45" height="3.85" fill="#dededf"/>
<rect x="270.18" y="174.28" width="2.45" height="3.85" fill="#dededf"/>
<rect x="273.05" y="174.28" width="2.45" height="3.85" fill="#dededf"/>
<rect x="275.93" y="174.28" width="2.45" height="3.85" fill="#dededf"/>
<rect x="278.8" y="174.28" width="2.45" height="3.85" fill="#dededf"/>
<rect x="281.68" y="174.28" width="2.45" height="3.85" fill="#dededf"/>
<rect x="284.55" y="174.28" width="2.45" height="3.85" fill="#dededf"/>
<rect x="287.43" y="174.28" width="2.45" height="3.85" fill="#dededf"/>
<rect x="290.3" y="174.28" width="2.45" height="3.85" fill="#dededf"/>
<rect x="293.18" y="174.28" width="2.45" height="3.85" fill="#dededf"/>
<rect x="296.05" y="174.28" width="2.45" height="3.85" fill="#dededf"/>
<rect x="298.93" y="174.28" width="2.45" height="3.85" fill="#dededf"/>
<rect x="301.8" y="174.28" width="2.45" height="3.85" fill="#dededf"/>
<rect x="304.68" y="174.28" width="2.45" height="3.85" fill="#dededf"/>
<rect x="307.55" y="174.28" width="2.45" height="3.85" fill="#dededf"/>
<rect x="310.43" y="174.28" width="2.45" height="3.85" fill="#dededf"/>
<rect x="313.3" y="174.28" width="2.45" height="3.85" fill="#dededf"/>
<rect x="316.18" y="174.28" width="2.45" height="3.85" fill="#dededf"/>
<text x="62.8" y="182" font-size="4.3" fill="#333" text-anchor="end">PIK3CA</text>
<text x="321.2" y="181.6" font-size="4.2" fill="#333">7%</text>
<rect x="66.05" y="178.8" width="2.45" height="3.85" fill="#dededf"/>
<rect x="68.92" y="178.8" width="2.45" height="3.85" fill="#dededf"/>
<rect x="71.8" y="178.8" width="2.45" height="3.85" fill="#dededf"/>
<rect x="74.67" y="178.8" width="2.45" height="3.85" fill="#dededf"/>
<rect x="77.55" y="178.8" width="2.45" height="3.85" fill="#dededf"/>
<rect x="80.42" y="178.8" width="2.45" height="3.85" fill="#dededf"/>
<rect x="83.3" y="178.8" width="2.45" height="3.85" fill="#dededf"/>
<rect x="86.17" y="178.8" width="2.45" height="3.85" fill="#dededf"/>
<rect x="89.05" y="178.8" width="2.45" height="3.85" fill="#dededf"/>
<rect x="91.92" y="178.8" width="2.45" height="3.85" fill="#dededf"/>
<rect x="94.8" y="178.8" width="2.45" height="3.85" fill="#dededf"/>
<rect x="97.67" y="178.8" width="2.45" height="3.85" fill="#f6cbd3"/>
<rect x="100.55" y="178.8" width="2.45" height="3.85" fill="#dededf"/>
<rect x="103.42" y="178.8" width="2.45" height="3.85" fill="#dededf"/>
<rect x="106.3" y="178.8" width="2.45" height="3.85" fill="#dededf"/>
<rect x="109.17" y="178.8" width="2.45" height="3.85" fill="#dededf"/>
<rect x="112.05" y="178.8" width="2.45" height="3.85" fill="#dededf"/>
<rect x="114.92" y="178.8" width="2.45" height="3.85" fill="#dededf"/>
<rect x="117.8" y="178.8" width="2.45" height="3.85" fill="#dededf"/>
<rect x="120.67" y="178.8" width="2.45" height="3.85" fill="#dededf"/>
<rect x="123.55" y="178.8" width="2.45" height="3.85" fill="#dededf"/>
<rect x="126.42" y="178.8" width="2.45" height="3.85" fill="#dededf"/>
<rect x="129.3" y="178.8" width="2.45" height="3.85" fill="#dededf"/>
<rect x="132.17" y="178.8" width="2.45" height="3.85" fill="#dededf"/>
<rect x="135.05" y="178.8" width="2.45" height="3.85" fill="#dededf"/>
<rect x="137.92" y="178.8" width="2.45" height="3.85" fill="#dededf"/>
<rect x="140.8" y="178.8" width="2.45" height="3.85" fill="#dededf"/>
<rect x="143.67" y="178.8" width="2.45" height="3.85" fill="#dededf"/>
<rect x="146.55" y="178.8" width="2.45" height="3.85" fill="#dededf"/>
<rect x="149.42" y="178.8" width="2.45" height="3.85" fill="#f6cbd3"/>
<rect x="152.3" y="178.8" width="2.45" height="3.85" fill="#dededf"/>
<rect x="155.17" y="178.8" width="2.45" height="3.85" fill="#dededf"/>
<rect x="158.05" y="178.8" width="2.45" height="3.85" fill="#dededf"/>
<rect x="160.92" y="178.8" width="2.45" height="3.85" fill="#dededf"/>
<rect x="163.8" y="178.8" width="2.45" height="3.85" fill="#dededf"/>
<rect x="166.67" y="178.8" width="2.45" height="3.85" fill="#dededf"/>
<rect x="169.55" y="178.8" width="2.45" height="3.85" fill="#dededf"/>
<rect x="172.42" y="178.8" width="2.45" height="3.85" fill="#dededf"/>
<rect x="175.3" y="178.8" width="2.45" height="3.85" fill="#dededf"/>
<rect x="178.17" y="178.8" width="2.45" height="3.85" fill="#dededf"/>
<rect x="181.05" y="178.8" width="2.45" height="3.85" fill="#dededf"/>
<rect x="183.92" y="178.8" width="2.45" height="3.85" fill="#dededf"/>
<rect x="186.8" y="178.8" width="2.45" height="3.85" fill="#dededf"/>
<rect x="189.67" y="178.8" width="2.45" height="3.85" fill="#dededf"/>
<rect x="192.55" y="178.8" width="2.45" height="3.85" fill="#dededf"/>
<rect x="195.42" y="178.8" width="2.45" height="3.85" fill="#dededf"/>
<rect x="198.3" y="178.8" width="2.45" height="3.85" fill="#dededf"/>
<rect x="201.17" y="178.8" width="2.45" height="3.85" fill="#dededf"/>
<rect x="204.05" y="178.8" width="2.45" height="3.85" fill="#dededf"/>
<rect x="206.92" y="178.8" width="2.45" height="3.85" fill="#dededf"/>
<rect x="209.8" y="178.8" width="2.45" height="3.85" fill="#f6cbd3"/>
<rect x="212.67" y="178.8" width="2.45" height="3.85" fill="#f6cbd3"/>
<rect x="215.55" y="178.8" width="2.45" height="3.85" fill="#f6cbd3"/>
<rect x="218.42" y="178.8" width="2.45" height="3.85" fill="#f6cbd3"/>
<rect x="221.3" y="178.8" width="2.45" height="3.85" fill="#dededf"/>
<rect x="224.17" y="178.8" width="2.45" height="3.85" fill="#dededf"/>
<rect x="227.05" y="178.8" width="2.45" height="3.85" fill="#dededf"/>
<rect x="229.92" y="178.8" width="2.45" height="3.85" fill="#dededf"/>
<rect x="232.8" y="178.8" width="2.45" height="3.85" fill="#dededf"/>
<rect x="235.67" y="178.8" width="2.45" height="3.85" fill="#dededf"/>
<rect x="238.55" y="178.8" width="2.45" height="3.85" fill="#dededf"/>
<rect x="241.42" y="178.8" width="2.45" height="3.85" fill="#dededf"/>
<rect x="244.3" y="178.8" width="2.45" height="3.85" fill="#dededf"/>
<rect x="247.17" y="178.8" width="2.45" height="3.85" fill="#dededf"/>
<rect x="250.05" y="178.8" width="2.45" height="3.85" fill="#dededf"/>
<rect x="252.92" y="178.8" width="2.45" height="3.85" fill="#dededf"/>
<rect x="255.8" y="178.8" width="2.45" height="3.85" fill="#dededf"/>
<rect x="258.68" y="178.8" width="2.45" height="3.85" fill="#dededf"/>
<rect x="261.55" y="178.8" width="2.45" height="3.85" fill="#dededf"/>
<rect x="264.43" y="178.8" width="2.45" height="3.85" fill="#dededf"/>
<rect x="267.3" y="178.8" width="2.45" height="3.85" fill="#dededf"/>
<rect x="270.18" y="178.8" width="2.45" height="3.85" fill="#dededf"/>
<rect x="273.05" y="178.8" width="2.45" height="3.85" fill="#dededf"/>
<rect x="275.93" y="178.8" width="2.45" height="3.85" fill="#dededf"/>
<rect x="278.8" y="178.8" width="2.45" height="3.85" fill="#dededf"/>
<rect x="281.68" y="178.8" width="2.45" height="3.85" fill="#dededf"/>
<rect x="284.55" y="178.8" width="2.45" height="3.85" fill="#dededf"/>
<rect x="287.43" y="178.8" width="2.45" height="3.85" fill="#dededf"/>
<rect x="290.3" y="178.8" width="2.45" height="3.85" fill="#dededf"/>
<rect x="293.18" y="178.8" width="2.45" height="3.85" fill="#dededf"/>
<rect x="296.05" y="178.8" width="2.45" height="3.85" fill="#dededf"/>
<rect x="298.93" y="178.8" width="2.45" height="3.85" fill="#dededf"/>
<rect x="301.8" y="178.8" width="2.45" height="3.85" fill="#dededf"/>
<rect x="304.68" y="178.8" width="2.45" height="3.85" fill="#dededf"/>
<rect x="307.55" y="178.8" width="2.45" height="3.85" fill="#dededf"/>
<rect x="310.43" y="178.8" width="2.45" height="3.85" fill="#dededf"/>
<rect x="313.3" y="178.8" width="2.45" height="3.85" fill="#dededf"/>
<rect x="316.18" y="178.8" width="2.45" height="3.85" fill="#dededf"/>
<text x="62.8" y="186.52" font-size="4.3" fill="#333" text-anchor="end">SF3B1</text>
<text x="321.2" y="186.12" font-size="4.2" fill="#333">5%</text>
<rect x="66.05" y="183.32" width="2.45" height="3.85" fill="#f6cbd3"/>
<rect x="68.92" y="183.32" width="2.45" height="3.85" fill="#dededf"/>
<rect x="71.8" y="183.32" width="2.45" height="3.85" fill="#dededf"/>
<rect x="74.67" y="183.32" width="2.45" height="3.85" fill="#dededf"/>
<rect x="77.55" y="183.32" width="2.45" height="3.85" fill="#dededf"/>
<rect x="80.42" y="183.32" width="2.45" height="3.85" fill="#dededf"/>
<rect x="83.3" y="183.32" width="2.45" height="3.85" fill="#dededf"/>
<rect x="86.17" y="183.32" width="2.45" height="3.85" fill="#dededf"/>
<rect x="89.05" y="183.32" width="2.45" height="3.85" fill="#dededf"/>
<rect x="91.92" y="183.32" width="2.45" height="3.85" fill="#dededf"/>
<rect x="94.8" y="183.32" width="2.45" height="3.85" fill="#dededf"/>
<rect x="97.67" y="183.32" width="2.45" height="3.85" fill="#dededf"/>
<rect x="100.55" y="183.32" width="2.45" height="3.85" fill="#dededf"/>
<rect x="103.42" y="183.32" width="2.45" height="3.85" fill="#dededf"/>
<rect x="106.3" y="183.32" width="2.45" height="3.85" fill="#dededf"/>
<rect x="109.17" y="183.32" width="2.45" height="3.85" fill="#dededf"/>
<rect x="112.05" y="183.32" width="2.45" height="3.85" fill="#f6cbd3"/>
<rect x="114.92" y="183.32" width="2.45" height="3.85" fill="#dededf"/>
<rect x="117.8" y="183.32" width="2.45" height="3.85" fill="#dededf"/>
<rect x="120.67" y="183.32" width="2.45" height="3.85" fill="#dededf"/>
<rect x="123.55" y="183.32" width="2.45" height="3.85" fill="#dededf"/>
<rect x="126.42" y="183.32" width="2.45" height="3.85" fill="#dededf"/>
<rect x="129.3" y="183.32" width="2.45" height="3.85" fill="#dededf"/>
<rect x="132.17" y="183.32" width="2.45" height="3.85" fill="#dededf"/>
<rect x="135.05" y="183.32" width="2.45" height="3.85" fill="#dededf"/>
<rect x="137.92" y="183.32" width="2.45" height="3.85" fill="#dededf"/>
<rect x="140.8" y="183.32" width="2.45" height="3.85" fill="#dededf"/>
<rect x="143.67" y="183.32" width="2.45" height="3.85" fill="#dededf"/>
<rect x="146.55" y="183.32" width="2.45" height="3.85" fill="#dededf"/>
<rect x="149.42" y="183.32" width="2.45" height="3.85" fill="#dededf"/>
<rect x="152.3" y="183.32" width="2.45" height="3.85" fill="#dededf"/>
<rect x="155.17" y="183.32" width="2.45" height="3.85" fill="#dededf"/>
<rect x="158.05" y="183.32" width="2.45" height="3.85" fill="#dededf"/>
<rect x="160.92" y="183.32" width="2.45" height="3.85" fill="#dededf"/>
<rect x="163.8" y="183.32" width="2.45" height="3.85" fill="#dededf"/>
<rect x="166.67" y="183.32" width="2.45" height="3.85" fill="#dededf"/>
<rect x="169.55" y="183.32" width="2.45" height="3.85" fill="#dededf"/>
<rect x="172.42" y="183.32" width="2.45" height="3.85" fill="#dededf"/>
<rect x="175.3" y="183.32" width="2.45" height="3.85" fill="#dededf"/>
<rect x="178.17" y="183.32" width="2.45" height="3.85" fill="#dededf"/>
<rect x="181.05" y="183.32" width="2.45" height="3.85" fill="#dededf"/>
<rect x="183.92" y="183.32" width="2.45" height="3.85" fill="#dededf"/>
<rect x="186.8" y="183.32" width="2.45" height="3.85" fill="#f6cbd3"/>
<rect x="189.67" y="183.32" width="2.45" height="3.85" fill="#dededf"/>
<rect x="192.55" y="183.32" width="2.45" height="3.85" fill="#dededf"/>
<rect x="195.42" y="183.32" width="2.45" height="3.85" fill="#dededf"/>
<rect x="198.3" y="183.32" width="2.45" height="3.85" fill="#dededf"/>
<rect x="201.17" y="183.32" width="2.45" height="3.85" fill="#dededf"/>
<rect x="204.05" y="183.32" width="2.45" height="3.85" fill="#dededf"/>
<rect x="206.92" y="183.32" width="2.45" height="3.85" fill="#dededf"/>
<rect x="209.8" y="183.32" width="2.45" height="3.85" fill="#dededf"/>
<rect x="212.67" y="183.32" width="2.45" height="3.85" fill="#dededf"/>
<rect x="215.55" y="183.32" width="2.45" height="3.85" fill="#dededf"/>
<rect x="218.42" y="183.32" width="2.45" height="3.85" fill="#dededf"/>
<rect x="221.3" y="183.32" width="2.45" height="3.85" fill="#dededf"/>
<rect x="224.17" y="183.32" width="2.45" height="3.85" fill="#dededf"/>
<rect x="227.05" y="183.32" width="2.45" height="3.85" fill="#dededf"/>
<rect x="229.92" y="183.32" width="2.45" height="3.85" fill="#dededf"/>
<rect x="232.8" y="183.32" width="2.45" height="3.85" fill="#dededf"/>
<rect x="235.67" y="183.32" width="2.45" height="3.85" fill="#dededf"/>
<rect x="238.55" y="183.32" width="2.45" height="3.85" fill="#dededf"/>
<rect x="241.42" y="183.32" width="2.45" height="3.85" fill="#dededf"/>
<rect x="244.3" y="183.32" width="2.45" height="3.85" fill="#dededf"/>
<rect x="247.17" y="183.32" width="2.45" height="3.85" fill="#dededf"/>
<rect x="250.05" y="183.32" width="2.45" height="3.85" fill="#dededf"/>
<rect x="252.92" y="183.32" width="2.45" height="3.85" fill="#dededf"/>
<rect x="255.8" y="183.32" width="2.45" height="3.85" fill="#dededf"/>
<rect x="258.68" y="183.32" width="2.45" height="3.85" fill="#dededf"/>
<rect x="261.55" y="183.32" width="2.45" height="3.85" fill="#dededf"/>
<rect x="264.43" y="183.32" width="2.45" height="3.85" fill="#dededf"/>
<rect x="267.3" y="183.32" width="2.45" height="3.85" fill="#dededf"/>
<rect x="270.18" y="183.32" width="2.45" height="3.85" fill="#dededf"/>
<rect x="273.05" y="183.32" width="2.45" height="3.85" fill="#dededf"/>
<rect x="275.93" y="183.32" width="2.45" height="3.85" fill="#dededf"/>
<rect x="278.8" y="183.32" width="2.45" height="3.85" fill="#dededf"/>
<rect x="281.68" y="183.32" width="2.45" height="3.85" fill="#dededf"/>
<rect x="284.55" y="183.32" width="2.45" height="3.85" fill="#dededf"/>
<rect x="287.43" y="183.32" width="2.45" height="3.85" fill="#dededf"/>
<rect x="290.3" y="183.32" width="2.45" height="3.85" fill="#dededf"/>
<rect x="293.18" y="183.32" width="2.45" height="3.85" fill="#dededf"/>
<rect x="296.05" y="183.32" width="2.45" height="3.85" fill="#dededf"/>
<rect x="298.93" y="183.32" width="2.45" height="3.85" fill="#dededf"/>
<rect x="301.8" y="183.32" width="2.45" height="3.85" fill="#dededf"/>
<rect x="304.68" y="183.32" width="2.45" height="3.85" fill="#dededf"/>
<rect x="307.55" y="183.32" width="2.45" height="3.85" fill="#dededf"/>
<rect x="310.43" y="183.32" width="2.45" height="3.85" fill="#dededf"/>
<rect x="313.3" y="183.32" width="2.45" height="3.85" fill="#dededf"/>
<rect x="316.18" y="183.32" width="2.45" height="3.85" fill="#dededf"/>
<text x="62.8" y="191.04" font-size="4.3" fill="#333" text-anchor="end">TET2</text>
<text x="321.2" y="190.64" font-size="4.2" fill="#333">3%</text>
<rect x="66.05" y="187.84" width="2.45" height="3.85" fill="#dededf"/>
<rect x="68.92" y="187.84" width="2.45" height="3.85" fill="#dededf"/>
<rect x="71.8" y="187.84" width="2.45" height="3.85" fill="#dededf"/>
<rect x="74.67" y="187.84" width="2.45" height="3.85" fill="#dededf"/>
<rect x="77.55" y="187.84" width="2.45" height="3.85" fill="#dededf"/>
<rect x="80.42" y="187.84" width="2.45" height="3.85" fill="#dededf"/>
<rect x="83.3" y="187.84" width="2.45" height="3.85" fill="#dededf"/>
<rect x="86.17" y="187.84" width="2.45" height="3.85" fill="#dededf"/>
<rect x="89.05" y="187.84" width="2.45" height="3.85" fill="#dededf"/>
<rect x="91.92" y="187.84" width="2.45" height="3.85" fill="#dededf"/>
<rect x="94.8" y="187.84" width="2.45" height="3.85" fill="#dededf"/>
<rect x="97.67" y="187.84" width="2.45" height="3.85" fill="#dededf"/>
<rect x="100.55" y="187.84" width="2.45" height="3.85" fill="#dededf"/>
<rect x="103.42" y="187.84" width="2.45" height="3.85" fill="#dededf"/>
<rect x="106.3" y="187.84" width="2.45" height="3.85" fill="#dededf"/>
<rect x="109.17" y="187.84" width="2.45" height="3.85" fill="#dededf"/>
<rect x="112.05" y="187.84" width="2.45" height="3.85" fill="#dededf"/>
<rect x="114.92" y="187.84" width="2.45" height="3.85" fill="#dededf"/>
<rect x="117.8" y="187.84" width="2.45" height="3.85" fill="#dededf"/>
<rect x="120.67" y="187.84" width="2.45" height="3.85" fill="#f6cbd3"/>
<rect x="123.55" y="187.84" width="2.45" height="3.85" fill="#dededf"/>
<rect x="126.42" y="187.84" width="2.45" height="3.85" fill="#dededf"/>
<rect x="129.3" y="187.84" width="2.45" height="3.85" fill="#dededf"/>
<rect x="132.17" y="187.84" width="2.45" height="3.85" fill="#dededf"/>
<rect x="135.05" y="187.84" width="2.45" height="3.85" fill="#dededf"/>
<rect x="137.92" y="187.84" width="2.45" height="3.85" fill="#dededf"/>
<rect x="140.8" y="187.84" width="2.45" height="3.85" fill="#dededf"/>
<rect x="143.67" y="187.84" width="2.45" height="3.85" fill="#dededf"/>
<rect x="146.55" y="187.84" width="2.45" height="3.85" fill="#dededf"/>
<rect x="149.42" y="187.84" width="2.45" height="3.85" fill="#dededf"/>
<rect x="152.3" y="187.84" width="2.45" height="3.85" fill="#dededf"/>
<rect x="155.17" y="187.84" width="2.45" height="3.85" fill="#dededf"/>
<rect x="158.05" y="187.84" width="2.45" height="3.85" fill="#dededf"/>
<rect x="160.92" y="187.84" width="2.45" height="3.85" fill="#dededf"/>
<rect x="163.8" y="187.84" width="2.45" height="3.85" fill="#dededf"/>
<rect x="166.67" y="187.84" width="2.45" height="3.85" fill="#dededf"/>
<rect x="169.55" y="187.84" width="2.45" height="3.85" fill="#dededf"/>
<rect x="172.42" y="187.84" width="2.45" height="3.85" fill="#dededf"/>
<rect x="175.3" y="187.84" width="2.45" height="3.85" fill="#dededf"/>
<rect x="178.17" y="187.84" width="2.45" height="3.85" fill="#dededf"/>
<rect x="181.05" y="187.84" width="2.45" height="3.85" fill="#dededf"/>
<rect x="183.92" y="187.84" width="2.45" height="3.85" fill="#dededf"/>
<rect x="186.8" y="187.84" width="2.45" height="3.85" fill="#dededf"/>
<rect x="189.67" y="187.84" width="2.45" height="3.85" fill="#dededf"/>
<rect x="192.55" y="187.84" width="2.45" height="3.85" fill="#dededf"/>
<rect x="195.42" y="187.84" width="2.45" height="3.85" fill="#dededf"/>
<rect x="198.3" y="187.84" width="2.45" height="3.85" fill="#f6cbd3"/>
<rect x="201.17" y="187.84" width="2.45" height="3.85" fill="#dededf"/>
<rect x="204.05" y="187.84" width="2.45" height="3.85" fill="#dededf"/>
<rect x="206.92" y="187.84" width="2.45" height="3.85" fill="#dededf"/>
<rect x="209.8" y="187.84" width="2.45" height="3.85" fill="#c8173a"/>
<rect x="212.67" y="187.84" width="2.45" height="3.85" fill="#dededf"/>
<rect x="215.55" y="187.84" width="2.45" height="3.85" fill="#dededf"/>
<rect x="218.42" y="187.84" width="2.45" height="3.85" fill="#dededf"/>
<rect x="221.3" y="187.84" width="2.45" height="3.85" fill="#dededf"/>
<rect x="224.17" y="187.84" width="2.45" height="3.85" fill="#dededf"/>
<rect x="227.05" y="187.84" width="2.45" height="3.85" fill="#dededf"/>
<rect x="229.92" y="187.84" width="2.45" height="3.85" fill="#dededf"/>
<rect x="232.8" y="187.84" width="2.45" height="3.85" fill="#dededf"/>
<rect x="235.67" y="187.84" width="2.45" height="3.85" fill="#dededf"/>
<rect x="238.55" y="187.84" width="2.45" height="3.85" fill="#dededf"/>
<rect x="241.42" y="187.84" width="2.45" height="3.85" fill="#dededf"/>
<rect x="244.3" y="187.84" width="2.45" height="3.85" fill="#dededf"/>
<rect x="247.17" y="187.84" width="2.45" height="3.85" fill="#dededf"/>
<rect x="250.05" y="187.84" width="2.45" height="3.85" fill="#dededf"/>
<rect x="252.92" y="187.84" width="2.45" height="3.85" fill="#dededf"/>
<rect x="255.8" y="187.84" width="2.45" height="3.85" fill="#dededf"/>
<rect x="258.68" y="187.84" width="2.45" height="3.85" fill="#dededf"/>
<rect x="261.55" y="187.84" width="2.45" height="3.85" fill="#dededf"/>
<rect x="264.43" y="187.84" width="2.45" height="3.85" fill="#dededf"/>
<rect x="267.3" y="187.84" width="2.45" height="3.85" fill="#dededf"/>
<rect x="270.18" y="187.84" width="2.45" height="3.85" fill="#dededf"/>
<rect x="273.05" y="187.84" width="2.45" height="3.85" fill="#dededf"/>
<rect x="275.93" y="187.84" width="2.45" height="3.85" fill="#dededf"/>
<rect x="278.8" y="187.84" width="2.45" height="3.85" fill="#dededf"/>
<rect x="281.68" y="187.84" width="2.45" height="3.85" fill="#dededf"/>
<rect x="284.55" y="187.84" width="2.45" height="3.85" fill="#dededf"/>
<rect x="287.43" y="187.84" width="2.45" height="3.85" fill="#dededf"/>
<rect x="290.3" y="187.84" width="2.45" height="3.85" fill="#dededf"/>
<rect x="293.18" y="187.84" width="2.45" height="3.85" fill="#dededf"/>
<rect x="296.05" y="187.84" width="2.45" height="3.85" fill="#dededf"/>
<rect x="298.93" y="187.84" width="2.45" height="3.85" fill="#dededf"/>
<rect x="301.8" y="187.84" width="2.45" height="3.85" fill="#dededf"/>
<rect x="304.68" y="187.84" width="2.45" height="3.85" fill="#dededf"/>
<rect x="307.55" y="187.84" width="2.45" height="3.85" fill="#dededf"/>
<rect x="310.43" y="187.84" width="2.45" height="3.85" fill="#dededf"/>
<rect x="313.3" y="187.84" width="2.45" height="3.85" fill="#dededf"/>
<rect x="316.18" y="187.84" width="2.45" height="3.85" fill="#dededf"/>
<text x="62.8" y="195.56" font-size="4.3" fill="#333" text-anchor="end">KMT2C</text>
<text x="321.2" y="195.16" font-size="4.2" fill="#333">3%</text>
<rect x="66.05" y="192.36" width="2.45" height="3.85" fill="#dededf"/>
<rect x="68.92" y="192.36" width="2.45" height="3.85" fill="#dededf"/>
<rect x="71.8" y="192.36" width="2.45" height="3.85" fill="#dededf"/>
<rect x="74.67" y="192.36" width="2.45" height="3.85" fill="#dededf"/>
<rect x="77.55" y="192.36" width="2.45" height="3.85" fill="#dededf"/>
<rect x="80.42" y="192.36" width="2.45" height="3.85" fill="#dededf"/>
<rect x="83.3" y="192.36" width="2.45" height="3.85" fill="#dededf"/>
<rect x="86.17" y="192.36" width="2.45" height="3.85" fill="#dededf"/>
<rect x="89.05" y="192.36" width="2.45" height="3.85" fill="#dededf"/>
<rect x="91.92" y="192.36" width="2.45" height="3.85" fill="#dededf"/>
<rect x="94.8" y="192.36" width="2.45" height="3.85" fill="#dededf"/>
<rect x="97.67" y="192.36" width="2.45" height="3.85" fill="#dededf"/>
<rect x="100.55" y="192.36" width="2.45" height="3.85" fill="#f6cbd3"/>
<rect x="103.42" y="192.36" width="2.45" height="3.85" fill="#dededf"/>
<rect x="106.3" y="192.36" width="2.45" height="3.85" fill="#dededf"/>
<rect x="109.17" y="192.36" width="2.45" height="3.85" fill="#dededf"/>
<rect x="112.05" y="192.36" width="2.45" height="3.85" fill="#dededf"/>
<rect x="114.92" y="192.36" width="2.45" height="3.85" fill="#dededf"/>
<rect x="117.8" y="192.36" width="2.45" height="3.85" fill="#dededf"/>
<rect x="120.67" y="192.36" width="2.45" height="3.85" fill="#dededf"/>
<rect x="123.55" y="192.36" width="2.45" height="3.85" fill="#dededf"/>
<rect x="126.42" y="192.36" width="2.45" height="3.85" fill="#dededf"/>
<rect x="129.3" y="192.36" width="2.45" height="3.85" fill="#dededf"/>
<rect x="132.17" y="192.36" width="2.45" height="3.85" fill="#dededf"/>
<rect x="135.05" y="192.36" width="2.45" height="3.85" fill="#dededf"/>
<rect x="137.92" y="192.36" width="2.45" height="3.85" fill="#dededf"/>
<rect x="140.8" y="192.36" width="2.45" height="3.85" fill="#dededf"/>
<rect x="143.67" y="192.36" width="2.45" height="3.85" fill="#dededf"/>
<rect x="146.55" y="192.36" width="2.45" height="3.85" fill="#dededf"/>
<rect x="149.42" y="192.36" width="2.45" height="3.85" fill="#dededf"/>
<rect x="152.3" y="192.36" width="2.45" height="3.85" fill="#dededf"/>
<rect x="155.17" y="192.36" width="2.45" height="3.85" fill="#dededf"/>
<rect x="158.05" y="192.36" width="2.45" height="3.85" fill="#dededf"/>
<rect x="160.92" y="192.36" width="2.45" height="3.85" fill="#dededf"/>
<rect x="163.8" y="192.36" width="2.45" height="3.85" fill="#dededf"/>
<rect x="166.67" y="192.36" width="2.45" height="3.85" fill="#dededf"/>
<rect x="169.55" y="192.36" width="2.45" height="3.85" fill="#dededf"/>
<rect x="172.42" y="192.36" width="2.45" height="3.85" fill="#dededf"/>
<rect x="175.3" y="192.36" width="2.45" height="3.85" fill="#dededf"/>
<rect x="178.17" y="192.36" width="2.45" height="3.85" fill="#dededf"/>
<rect x="181.05" y="192.36" width="2.45" height="3.85" fill="#dededf"/>
<rect x="183.92" y="192.36" width="2.45" height="3.85" fill="#dededf"/>
<rect x="186.8" y="192.36" width="2.45" height="3.85" fill="#dededf"/>
<rect x="189.67" y="192.36" width="2.45" height="3.85" fill="#dededf"/>
<rect x="192.55" y="192.36" width="2.45" height="3.85" fill="#dededf"/>
<rect x="195.42" y="192.36" width="2.45" height="3.85" fill="#dededf"/>
<rect x="198.3" y="192.36" width="2.45" height="3.85" fill="#dededf"/>
<rect x="201.17" y="192.36" width="2.45" height="3.85" fill="#f6cbd3"/>
<rect x="204.05" y="192.36" width="2.45" height="3.85" fill="#dededf"/>
<rect x="206.92" y="192.36" width="2.45" height="3.85" fill="#dededf"/>
<rect x="209.8" y="192.36" width="2.45" height="3.85" fill="#dededf"/>
<rect x="212.67" y="192.36" width="2.45" height="3.85" fill="#dededf"/>
<rect x="215.55" y="192.36" width="2.45" height="3.85" fill="#dededf"/>
<rect x="218.42" y="192.36" width="2.45" height="3.85" fill="#dededf"/>
<rect x="221.3" y="192.36" width="2.45" height="3.85" fill="#f6cbd3"/>
<rect x="224.17" y="192.36" width="2.45" height="3.85" fill="#dededf"/>
<rect x="227.05" y="192.36" width="2.45" height="3.85" fill="#dededf"/>
<rect x="229.92" y="192.36" width="2.45" height="3.85" fill="#dededf"/>
<rect x="232.8" y="192.36" width="2.45" height="3.85" fill="#dededf"/>
<rect x="235.67" y="192.36" width="2.45" height="3.85" fill="#dededf"/>
<rect x="238.55" y="192.36" width="2.45" height="3.85" fill="#dededf"/>
<rect x="241.42" y="192.36" width="2.45" height="3.85" fill="#dededf"/>
<rect x="244.3" y="192.36" width="2.45" height="3.85" fill="#dededf"/>
<rect x="247.17" y="192.36" width="2.45" height="3.85" fill="#dededf"/>
<rect x="250.05" y="192.36" width="2.45" height="3.85" fill="#dededf"/>
<rect x="252.92" y="192.36" width="2.45" height="3.85" fill="#dededf"/>
<rect x="255.8" y="192.36" width="2.45" height="3.85" fill="#dededf"/>
<rect x="258.68" y="192.36" width="2.45" height="3.85" fill="#dededf"/>
<rect x="261.55" y="192.36" width="2.45" height="3.85" fill="#dededf"/>
<rect x="264.43" y="192.36" width="2.45" height="3.85" fill="#dededf"/>
<rect x="267.3" y="192.36" width="2.45" height="3.85" fill="#dededf"/>
<rect x="270.18" y="192.36" width="2.45" height="3.85" fill="#dededf"/>
<rect x="273.05" y="192.36" width="2.45" height="3.85" fill="#dededf"/>
<rect x="275.93" y="192.36" width="2.45" height="3.85" fill="#dededf"/>
<rect x="278.8" y="192.36" width="2.45" height="3.85" fill="#dededf"/>
<rect x="281.68" y="192.36" width="2.45" height="3.85" fill="#dededf"/>
<rect x="284.55" y="192.36" width="2.45" height="3.85" fill="#dededf"/>
<rect x="287.43" y="192.36" width="2.45" height="3.85" fill="#dededf"/>
<rect x="290.3" y="192.36" width="2.45" height="3.85" fill="#dededf"/>
<rect x="293.18" y="192.36" width="2.45" height="3.85" fill="#dededf"/>
<rect x="296.05" y="192.36" width="2.45" height="3.85" fill="#dededf"/>
<rect x="298.93" y="192.36" width="2.45" height="3.85" fill="#dededf"/>
<rect x="301.8" y="192.36" width="2.45" height="3.85" fill="#dededf"/>
<rect x="304.68" y="192.36" width="2.45" height="3.85" fill="#dededf"/>
<rect x="307.55" y="192.36" width="2.45" height="3.85" fill="#dededf"/>
<rect x="310.43" y="192.36" width="2.45" height="3.85" fill="#dededf"/>
<rect x="313.3" y="192.36" width="2.45" height="3.85" fill="#dededf"/>
<rect x="316.18" y="192.36" width="2.45" height="3.85" fill="#dededf"/>
<text x="62.8" y="200.08" font-size="4.3" fill="#333" text-anchor="end">IRF4</text>
<text x="321.2" y="199.68" font-size="4.2" fill="#333">3%</text>
<rect x="66.05" y="196.88" width="2.45" height="3.85" fill="#dededf"/>
<rect x="68.92" y="196.88" width="2.45" height="3.85" fill="#dededf"/>
<rect x="71.8" y="196.88" width="2.45" height="3.85" fill="#dededf"/>
<rect x="74.67" y="196.88" width="2.45" height="3.85" fill="#dededf"/>
<rect x="77.55" y="196.88" width="2.45" height="3.85" fill="#dededf"/>
<rect x="80.42" y="196.88" width="2.45" height="3.85" fill="#dededf"/>
<rect x="83.3" y="196.88" width="2.45" height="3.85" fill="#dededf"/>
<rect x="86.17" y="196.88" width="2.45" height="3.85" fill="#dededf"/>
<rect x="89.05" y="196.88" width="2.45" height="3.85" fill="#dededf"/>
<rect x="91.92" y="196.88" width="2.45" height="3.85" fill="#dededf"/>
<rect x="94.8" y="196.88" width="2.45" height="3.85" fill="#dededf"/>
<rect x="97.67" y="196.88" width="2.45" height="3.85" fill="#dededf"/>
<rect x="100.55" y="196.88" width="2.45" height="3.85" fill="#dededf"/>
<rect x="103.42" y="196.88" width="2.45" height="3.85" fill="#dededf"/>
<rect x="106.3" y="196.88" width="2.45" height="3.85" fill="#dededf"/>
<rect x="109.17" y="196.88" width="2.45" height="3.85" fill="#f6cbd3"/>
<rect x="112.05" y="196.88" width="2.45" height="3.85" fill="#f6cbd3"/>
<rect x="114.92" y="196.88" width="2.45" height="3.85" fill="#f6cbd3"/>
<rect x="117.8" y="196.88" width="2.45" height="3.85" fill="#f6cbd3"/>
<rect x="120.67" y="196.88" width="2.45" height="3.85" fill="#dededf"/>
<rect x="123.55" y="196.88" width="2.45" height="3.85" fill="#dededf"/>
<rect x="126.42" y="196.88" width="2.45" height="3.85" fill="#dededf"/>
<rect x="129.3" y="196.88" width="2.45" height="3.85" fill="#dededf"/>
<rect x="132.17" y="196.88" width="2.45" height="3.85" fill="#dededf"/>
<rect x="135.05" y="196.88" width="2.45" height="3.85" fill="#dededf"/>
<rect x="137.92" y="196.88" width="2.45" height="3.85" fill="#dededf"/>
<rect x="140.8" y="196.88" width="2.45" height="3.85" fill="#dededf"/>
<rect x="143.67" y="196.88" width="2.45" height="3.85" fill="#dededf"/>
<rect x="146.55" y="196.88" width="2.45" height="3.85" fill="#dededf"/>
<rect x="149.42" y="196.88" width="2.45" height="3.85" fill="#dededf"/>
<rect x="152.3" y="196.88" width="2.45" height="3.85" fill="#dededf"/>
<rect x="155.17" y="196.88" width="2.45" height="3.85" fill="#dededf"/>
<rect x="158.05" y="196.88" width="2.45" height="3.85" fill="#dededf"/>
<rect x="160.92" y="196.88" width="2.45" height="3.85" fill="#dededf"/>
<rect x="163.8" y="196.88" width="2.45" height="3.85" fill="#dededf"/>
<rect x="166.67" y="196.88" width="2.45" height="3.85" fill="#dededf"/>
<rect x="169.55" y="196.88" width="2.45" height="3.85" fill="#dededf"/>
<rect x="172.42" y="196.88" width="2.45" height="3.85" fill="#dededf"/>
<rect x="175.3" y="196.88" width="2.45" height="3.85" fill="#dededf"/>
<rect x="178.17" y="196.88" width="2.45" height="3.85" fill="#dededf"/>
<rect x="181.05" y="196.88" width="2.45" height="3.85" fill="#dededf"/>
<rect x="183.92" y="196.88" width="2.45" height="3.85" fill="#dededf"/>
<rect x="186.8" y="196.88" width="2.45" height="3.85" fill="#dededf"/>
<rect x="189.67" y="196.88" width="2.45" height="3.85" fill="#dededf"/>
<rect x="192.55" y="196.88" width="2.45" height="3.85" fill="#dededf"/>
<rect x="195.42" y="196.88" width="2.45" height="3.85" fill="#dededf"/>
<rect x="198.3" y="196.88" width="2.45" height="3.85" fill="#dededf"/>
<rect x="201.17" y="196.88" width="2.45" height="3.85" fill="#dededf"/>
<rect x="204.05" y="196.88" width="2.45" height="3.85" fill="#dededf"/>
<rect x="206.92" y="196.88" width="2.45" height="3.85" fill="#dededf"/>
<rect x="209.8" y="196.88" width="2.45" height="3.85" fill="#dededf"/>
<rect x="212.67" y="196.88" width="2.45" height="3.85" fill="#dededf"/>
<rect x="215.55" y="196.88" width="2.45" height="3.85" fill="#dededf"/>
<rect x="218.42" y="196.88" width="2.45" height="3.85" fill="#dededf"/>
<rect x="221.3" y="196.88" width="2.45" height="3.85" fill="#dededf"/>
<rect x="224.17" y="196.88" width="2.45" height="3.85" fill="#dededf"/>
<rect x="227.05" y="196.88" width="2.45" height="3.85" fill="#dededf"/>
<rect x="229.92" y="196.88" width="2.45" height="3.85" fill="#dededf"/>
<rect x="232.8" y="196.88" width="2.45" height="3.85" fill="#dededf"/>
<rect x="235.67" y="196.88" width="2.45" height="3.85" fill="#dededf"/>
<rect x="238.55" y="196.88" width="2.45" height="3.85" fill="#dededf"/>
<rect x="241.42" y="196.88" width="2.45" height="3.85" fill="#dededf"/>
<rect x="244.3" y="196.88" width="2.45" height="3.85" fill="#dededf"/>
<rect x="247.17" y="196.88" width="2.45" height="3.85" fill="#dededf"/>
<rect x="250.05" y="196.88" width="2.45" height="3.85" fill="#dededf"/>
<rect x="252.92" y="196.88" width="2.45" height="3.85" fill="#dededf"/>
<rect x="255.8" y="196.88" width="2.45" height="3.85" fill="#dededf"/>
<rect x="258.68" y="196.88" width="2.45" height="3.85" fill="#dededf"/>
<rect x="261.55" y="196.88" width="2.45" height="3.85" fill="#dededf"/>
<rect x="264.43" y="196.88" width="2.45" height="3.85" fill="#dededf"/>
<rect x="267.3" y="196.88" width="2.45" height="3.85" fill="#dededf"/>
<rect x="270.18" y="196.88" width="2.45" height="3.85" fill="#dededf"/>
<rect x="273.05" y="196.88" width="2.45" height="3.85" fill="#dededf"/>
<rect x="275.93" y="196.88" width="2.45" height="3.85" fill="#dededf"/>
<rect x="278.8" y="196.88" width="2.45" height="3.85" fill="#dededf"/>
<rect x="281.68" y="196.88" width="2.45" height="3.85" fill="#dededf"/>
<rect x="284.55" y="196.88" width="2.45" height="3.85" fill="#dededf"/>
<rect x="287.43" y="196.88" width="2.45" height="3.85" fill="#dededf"/>
<rect x="290.3" y="196.88" width="2.45" height="3.85" fill="#dededf"/>
<rect x="293.18" y="196.88" width="2.45" height="3.85" fill="#dededf"/>
<rect x="296.05" y="196.88" width="2.45" height="3.85" fill="#dededf"/>
<rect x="298.93" y="196.88" width="2.45" height="3.85" fill="#dededf"/>
<rect x="301.8" y="196.88" width="2.45" height="3.85" fill="#dededf"/>
<rect x="304.68" y="196.88" width="2.45" height="3.85" fill="#dededf"/>
<rect x="307.55" y="196.88" width="2.45" height="3.85" fill="#dededf"/>
<rect x="310.43" y="196.88" width="2.45" height="3.85" fill="#dededf"/>
<rect x="313.3" y="196.88" width="2.45" height="3.85" fill="#dededf"/>
<rect x="316.18" y="196.88" width="2.45" height="3.85" fill="#dededf"/>
<text x="62.8" y="204.6" font-size="4.3" fill="#333" text-anchor="end">BCL2</text>
<text x="321.2" y="204.2" font-size="4.2" fill="#333">3%</text>
<rect x="66.05" y="201.4" width="2.45" height="3.85" fill="#dededf"/>
<rect x="68.92" y="201.4" width="2.45" height="3.85" fill="#dededf"/>
<rect x="71.8" y="201.4" width="2.45" height="3.85" fill="#dededf"/>
<rect x="74.67" y="201.4" width="2.45" height="3.85" fill="#dededf"/>
<rect x="77.55" y="201.4" width="2.45" height="3.85" fill="#dededf"/>
<rect x="80.42" y="201.4" width="2.45" height="3.85" fill="#dededf"/>
<rect x="83.3" y="201.4" width="2.45" height="3.85" fill="#dededf"/>
<rect x="86.17" y="201.4" width="2.45" height="3.85" fill="#dededf"/>
<rect x="89.05" y="201.4" width="2.45" height="3.85" fill="#dededf"/>
<rect x="91.92" y="201.4" width="2.45" height="3.85" fill="#dededf"/>
<rect x="94.8" y="201.4" width="2.45" height="3.85" fill="#dededf"/>
<rect x="97.67" y="201.4" width="2.45" height="3.85" fill="#dededf"/>
<rect x="100.55" y="201.4" width="2.45" height="3.85" fill="#dededf"/>
<rect x="103.42" y="201.4" width="2.45" height="3.85" fill="#dededf"/>
<rect x="106.3" y="201.4" width="2.45" height="3.85" fill="#dededf"/>
<rect x="109.17" y="201.4" width="2.45" height="3.85" fill="#f6cbd3"/>
<rect x="112.05" y="201.4" width="2.45" height="3.85" fill="#dededf"/>
<rect x="114.92" y="201.4" width="2.45" height="3.85" fill="#dededf"/>
<rect x="117.8" y="201.4" width="2.45" height="3.85" fill="#dededf"/>
<rect x="120.67" y="201.4" width="2.45" height="3.85" fill="#dededf"/>
<rect x="123.55" y="201.4" width="2.45" height="3.85" fill="#dededf"/>
<rect x="126.42" y="201.4" width="2.45" height="3.85" fill="#dededf"/>
<rect x="129.3" y="201.4" width="2.45" height="3.85" fill="#dededf"/>
<rect x="132.17" y="201.4" width="2.45" height="3.85" fill="#dededf"/>
<rect x="135.05" y="201.4" width="2.45" height="3.85" fill="#dededf"/>
<rect x="137.92" y="201.4" width="2.45" height="3.85" fill="#dededf"/>
<rect x="140.8" y="201.4" width="2.45" height="3.85" fill="#dededf"/>
<rect x="143.67" y="201.4" width="2.45" height="3.85" fill="#dededf"/>
<rect x="146.55" y="201.4" width="2.45" height="3.85" fill="#dededf"/>
<rect x="149.42" y="201.4" width="2.45" height="3.85" fill="#dededf"/>
<rect x="152.3" y="201.4" width="2.45" height="3.85" fill="#dededf"/>
<rect x="155.17" y="201.4" width="2.45" height="3.85" fill="#dededf"/>
<rect x="158.05" y="201.4" width="2.45" height="3.85" fill="#dededf"/>
<rect x="160.92" y="201.4" width="2.45" height="3.85" fill="#dededf"/>
<rect x="163.8" y="201.4" width="2.45" height="3.85" fill="#dededf"/>
<rect x="166.67" y="201.4" width="2.45" height="3.85" fill="#dededf"/>
<rect x="169.55" y="201.4" width="2.45" height="3.85" fill="#dededf"/>
<rect x="172.42" y="201.4" width="2.45" height="3.85" fill="#dededf"/>
<rect x="175.3" y="201.4" width="2.45" height="3.85" fill="#dededf"/>
<rect x="178.17" y="201.4" width="2.45" height="3.85" fill="#dededf"/>
<rect x="181.05" y="201.4" width="2.45" height="3.85" fill="#dededf"/>
<rect x="183.92" y="201.4" width="2.45" height="3.85" fill="#dededf"/>
<rect x="186.8" y="201.4" width="2.45" height="3.85" fill="#f6cbd3"/>
<rect x="189.67" y="201.4" width="2.45" height="3.85" fill="#dededf"/>
<rect x="192.55" y="201.4" width="2.45" height="3.85" fill="#dededf"/>
<rect x="195.42" y="201.4" width="2.45" height="3.85" fill="#dededf"/>
<rect x="198.3" y="201.4" width="2.45" height="3.85" fill="#dededf"/>
<rect x="201.17" y="201.4" width="2.45" height="3.85" fill="#dededf"/>
<rect x="204.05" y="201.4" width="2.45" height="3.85" fill="#dededf"/>
<rect x="206.92" y="201.4" width="2.45" height="3.85" fill="#dededf"/>
<rect x="209.8" y="201.4" width="2.45" height="3.85" fill="#dededf"/>
<rect x="212.67" y="201.4" width="2.45" height="3.85" fill="#dededf"/>
<rect x="215.55" y="201.4" width="2.45" height="3.85" fill="#dededf"/>
<rect x="218.42" y="201.4" width="2.45" height="3.85" fill="#dededf"/>
<rect x="221.3" y="201.4" width="2.45" height="3.85" fill="#dededf"/>
<rect x="224.17" y="201.4" width="2.45" height="3.85" fill="#dededf"/>
<rect x="227.05" y="201.4" width="2.45" height="3.85" fill="#dededf"/>
<rect x="229.92" y="201.4" width="2.45" height="3.85" fill="#dededf"/>
<rect x="232.8" y="201.4" width="2.45" height="3.85" fill="#dededf"/>
<rect x="235.67" y="201.4" width="2.45" height="3.85" fill="#dededf"/>
<rect x="238.55" y="201.4" width="2.45" height="3.85" fill="#dededf"/>
<rect x="241.42" y="201.4" width="2.45" height="3.85" fill="#dededf"/>
<rect x="244.3" y="201.4" width="2.45" height="3.85" fill="#dededf"/>
<rect x="247.17" y="201.4" width="2.45" height="3.85" fill="#dededf"/>
<rect x="250.05" y="201.4" width="2.45" height="3.85" fill="#dededf"/>
<rect x="252.92" y="201.4" width="2.45" height="3.85" fill="#dededf"/>
<rect x="255.8" y="201.4" width="2.45" height="3.85" fill="#dededf"/>
<rect x="258.68" y="201.4" width="2.45" height="3.85" fill="#dededf"/>
<rect x="261.55" y="201.4" width="2.45" height="3.85" fill="#dededf"/>
<rect x="264.43" y="201.4" width="2.45" height="3.85" fill="#dededf"/>
<rect x="267.3" y="201.4" width="2.45" height="3.85" fill="#dededf"/>
<rect x="270.18" y="201.4" width="2.45" height="3.85" fill="#dededf"/>
<rect x="273.05" y="201.4" width="2.45" height="3.85" fill="#dededf"/>
<rect x="275.93" y="201.4" width="2.45" height="3.85" fill="#dededf"/>
<rect x="278.8" y="201.4" width="2.45" height="3.85" fill="#dededf"/>
<rect x="281.68" y="201.4" width="2.45" height="3.85" fill="#dededf"/>
<rect x="284.55" y="201.4" width="2.45" height="3.85" fill="#dededf"/>
<rect x="287.43" y="201.4" width="2.45" height="3.85" fill="#dededf"/>
<rect x="290.3" y="201.4" width="2.45" height="3.85" fill="#dededf"/>
<rect x="293.18" y="201.4" width="2.45" height="3.85" fill="#dededf"/>
<rect x="296.05" y="201.4" width="2.45" height="3.85" fill="#dededf"/>
<rect x="298.93" y="201.4" width="2.45" height="3.85" fill="#dededf"/>
<rect x="301.8" y="201.4" width="2.45" height="3.85" fill="#dededf"/>
<rect x="304.68" y="201.4" width="2.45" height="3.85" fill="#dededf"/>
<rect x="307.55" y="201.4" width="2.45" height="3.85" fill="#dededf"/>
<rect x="310.43" y="201.4" width="2.45" height="3.85" fill="#dededf"/>
<rect x="313.3" y="201.4" width="2.45" height="3.85" fill="#dededf"/>
<rect x="316.18" y="201.4" width="2.45" height="3.85" fill="#dededf"/>
<text x="62.8" y="209.12" font-size="4.3" fill="#333" text-anchor="end">Others</text>
<text x="321.2" y="208.72" font-size="4.2" fill="#333">34%</text>
<rect x="66.05" y="205.92" width="2.45" height="3.85" fill="#c8173a"/>
<rect x="68.92" y="205.92" width="2.45" height="3.85" fill="#dededf"/>
<rect x="71.8" y="205.92" width="2.45" height="3.85" fill="#f6cbd3"/>
<rect x="74.67" y="205.92" width="2.45" height="3.85" fill="#f6cbd3"/>
<rect x="77.55" y="205.92" width="2.45" height="3.85" fill="#f6cbd3"/>
<rect x="80.42" y="205.92" width="2.45" height="3.85" fill="#f6cbd3"/>
<path d="M81.17 209.12 L81.77 206.72 L82.47 207.12 L81.77 208.12 Z" fill="#3a1a24"/>
<rect x="83.3" y="205.92" width="2.45" height="3.85" fill="#dededf"/>
<rect x="86.17" y="205.92" width="2.45" height="3.85" fill="#dededf"/>
<rect x="89.05" y="205.92" width="2.45" height="3.85" fill="#dededf"/>
<rect x="91.92" y="205.92" width="2.45" height="3.85" fill="#dededf"/>
<rect x="94.8" y="205.92" width="2.45" height="3.85" fill="#dededf"/>
<rect x="97.67" y="205.92" width="2.45" height="3.85" fill="#cfe8f4"/>
<rect x="100.55" y="205.92" width="2.45" height="3.85" fill="#f6cbd3"/>
<path d="M101.3 209.12 L101.9 206.72 L102.6 207.12 L101.9 208.12 Z" fill="#3a1a24"/>
<rect x="103.42" y="205.92" width="2.45" height="3.85" fill="#f6cbd3"/>
<rect x="106.3" y="205.92" width="2.45" height="3.85" fill="#dededf"/>
<rect x="109.17" y="205.92" width="2.45" height="3.85" fill="#f6cbd3"/>
<rect x="112.05" y="205.92" width="2.45" height="3.85" fill="#f6cbd3"/>
<rect x="114.92" y="205.92" width="2.45" height="3.85" fill="#dededf"/>
<rect x="117.8" y="205.92" width="2.45" height="3.85" fill="#dededf"/>
<rect x="120.67" y="205.92" width="2.45" height="3.85" fill="#f6cbd3"/>
<path d="M121.42 209.12 L122.02 206.72 L122.72 207.12 L122.02 208.12 Z" fill="#3a1a24"/>
<rect x="123.55" y="205.92" width="2.45" height="3.85" fill="#cfe8f4"/>
<rect x="126.42" y="205.92" width="2.45" height="3.85" fill="#cfe8f4"/>
<rect x="129.3" y="205.92" width="2.45" height="3.85" fill="#cfe8f4"/>
<rect x="132.17" y="205.92" width="2.45" height="3.85" fill="#cfe8f4"/>
<rect x="135.05" y="205.92" width="2.45" height="3.85" fill="#dededf"/>
<rect x="137.92" y="205.92" width="2.45" height="3.85" fill="#dededf"/>
<rect x="140.8" y="205.92" width="2.45" height="3.85" fill="#dededf"/>
<rect x="143.67" y="205.92" width="2.45" height="3.85" fill="#c8173a"/>
<rect x="146.55" y="205.92" width="2.45" height="3.85" fill="#dededf"/>
<rect x="149.42" y="205.92" width="2.45" height="3.85" fill="#c8173a"/>
<rect x="152.3" y="205.92" width="2.45" height="3.85" fill="#dededf"/>
<rect x="155.17" y="205.92" width="2.45" height="3.85" fill="#cfe8f4"/>
<rect x="158.05" y="205.92" width="2.45" height="3.85" fill="#dededf"/>
<rect x="160.92" y="205.92" width="2.45" height="3.85" fill="#dededf"/>
<rect x="163.8" y="205.92" width="2.45" height="3.85" fill="#dededf"/>
<rect x="166.67" y="205.92" width="2.45" height="3.85" fill="#dededf"/>
<rect x="169.55" y="205.92" width="2.45" height="3.85" fill="#8a2a2a"/>
<rect x="172.42" y="205.92" width="2.45" height="3.85" fill="#dededf"/>
<rect x="175.3" y="205.92" width="2.45" height="3.85" fill="#f6cbd3"/>
<path d="M176.05 209.12 L176.65 206.72 L177.35 207.12 L176.65 208.12 Z" fill="#3a1a24"/>
<rect x="178.17" y="205.92" width="2.45" height="3.85" fill="#dededf"/>
<rect x="181.05" y="205.92" width="2.45" height="3.85" fill="#dededf"/>
<rect x="183.92" y="205.92" width="2.45" height="3.85" fill="#dededf"/>
<rect x="186.8" y="205.92" width="2.45" height="3.85" fill="#f6cbd3"/>
<rect x="189.67" y="205.92" width="2.45" height="3.85" fill="#f6cbd3"/>
<rect x="192.55" y="205.92" width="2.45" height="3.85" fill="#dededf"/>
<rect x="195.42" y="205.92" width="2.45" height="3.85" fill="#dededf"/>
<rect x="198.3" y="205.92" width="2.45" height="3.85" fill="#dededf"/>
<rect x="201.17" y="205.92" width="2.45" height="3.85" fill="#dededf"/>
<rect x="204.05" y="205.92" width="2.45" height="3.85" fill="#dededf"/>
<rect x="206.92" y="205.92" width="2.45" height="3.85" fill="#dededf"/>
<rect x="209.8" y="205.92" width="2.45" height="3.85" fill="#dededf"/>
<rect x="212.67" y="205.92" width="2.45" height="3.85" fill="#dededf"/>
<rect x="215.55" y="205.92" width="2.45" height="3.85" fill="#dededf"/>
<rect x="218.42" y="205.92" width="2.45" height="3.85" fill="#dededf"/>
<rect x="221.3" y="205.92" width="2.45" height="3.85" fill="#dededf"/>
<rect x="224.17" y="205.92" width="2.45" height="3.85" fill="#c8173a"/>
<rect x="227.05" y="205.92" width="2.45" height="3.85" fill="#f6cbd3"/>
<rect x="229.92" y="205.92" width="2.45" height="3.85" fill="#f6cbd3"/>
<rect x="232.8" y="205.92" width="2.45" height="3.85" fill="#dededf"/>
<rect x="235.67" y="205.92" width="2.45" height="3.85" fill="#dededf"/>
<rect x="238.55" y="205.92" width="2.45" height="3.85" fill="#cfe8f4"/>
<rect x="241.42" y="205.92" width="2.45" height="3.85" fill="#cfe8f4"/>
<rect x="244.3" y="205.92" width="2.45" height="3.85" fill="#3a8ccc"/>
<rect x="247.17" y="205.92" width="2.45" height="3.85" fill="#dededf"/>
<rect x="250.05" y="205.92" width="2.45" height="3.85" fill="#3a8ccc"/>
<rect x="252.92" y="205.92" width="2.45" height="3.85" fill="#dededf"/>
<rect x="255.8" y="205.92" width="2.45" height="3.85" fill="#dededf"/>
<rect x="258.68" y="205.92" width="2.45" height="3.85" fill="#cfe8f4"/>
<rect x="261.55" y="205.92" width="2.45" height="3.85" fill="#dededf"/>
<rect x="264.43" y="205.92" width="2.45" height="3.85" fill="#dededf"/>
<rect x="267.3" y="205.92" width="2.45" height="3.85" fill="#dededf"/>
<rect x="270.18" y="205.92" width="2.45" height="3.85" fill="#15467e"/>
<rect x="273.05" y="205.92" width="2.45" height="3.85" fill="#3a8ccc"/>
<rect x="275.93" y="205.92" width="2.45" height="3.85" fill="#3a8ccc"/>
<rect x="278.8" y="205.92" width="2.45" height="3.85" fill="#cfe8f4"/>
<rect x="281.68" y="205.92" width="2.45" height="3.85" fill="#dededf"/>
<rect x="284.55" y="205.92" width="2.45" height="3.85" fill="#dededf"/>
<rect x="287.43" y="205.92" width="2.45" height="3.85" fill="#dededf"/>
<rect x="290.3" y="205.92" width="2.45" height="3.85" fill="#dededf"/>
<rect x="293.18" y="205.92" width="2.45" height="3.85" fill="#dededf"/>
<rect x="296.05" y="205.92" width="2.45" height="3.85" fill="#dededf"/>
<rect x="298.93" y="205.92" width="2.45" height="3.85" fill="#dededf"/>
<rect x="301.8" y="205.92" width="2.45" height="3.85" fill="#dededf"/>
<rect x="304.68" y="205.92" width="2.45" height="3.85" fill="#dededf"/>
<rect x="307.55" y="205.92" width="2.45" height="3.85" fill="#dededf"/>
<rect x="310.43" y="205.92" width="2.45" height="3.85" fill="#dededf"/>
<rect x="313.3" y="205.92" width="2.45" height="3.85" fill="#dededf"/>
<rect x="316.18" y="205.92" width="2.45" height="3.85" fill="#dededf"/>
<path d="M66.7 209.22 L67.5 206.52 L68.3 206.92 Z" fill="#4a0a14"/>
<line x1="29.6" y1="133.8" x2="29.6" y2="168.8" stroke="#333" stroke-width="0.9"/>
<text x="25" y="152.8" font-size="4.3" fill="#333" text-anchor="end" font-style="italic">BTK</text>
<text transform="translate(342.3,147.9) rotate(90)" font-size="4.5" fill="#333" textLength="35.3" lengthAdjust="spacingAndGlyphs">Frequency of patients</text>
<text transform="translate(334.6,146.5) rotate(90)" font-size="4.6" fill="#333" textLength="51" lengthAdjust="spacingAndGlyphs">with acquired mutations</text>
<text x="65.8" y="215.8" font-size="4.4" fill="#333"># acquired</text>
<rect x="87.3" y="212.6" width="2.6" height="3.4" fill="#f6cbd3"/>
<text x="91.3" y="215.8" font-size="4.4" fill="#333">1</text>
<rect x="98.8" y="212.6" width="2.6" height="3.4" fill="#c8173a"/>
<text x="102.8" y="215.8" font-size="4.4" fill="#333">2</text>
<rect x="108.5" y="212.6" width="2.6" height="3.4" fill="#5c0d1c"/>
<text x="112.5" y="215.8" font-size="4.4" fill="#333">3</text>
<text x="120.5" y="215.8" font-size="4.4" fill="#333"># cleared</text>
<rect x="139.7" y="212.6" width="2.6" height="3.4" fill="#cfe8f4"/>
<text x="143.7" y="215.8" font-size="4.4" fill="#333">1</text>
<rect x="152.4" y="212.6" width="2.6" height="3.4" fill="#8cc6e2"/>
<text x="156.4" y="215.8" font-size="4.4" fill="#333">2</text>
<rect x="161.6" y="212.6" width="2.6" height="3.4" fill="#3a8ccc"/>
<text x="165.6" y="215.8" font-size="4.4" fill="#333">3</text>
<rect x="171.5" y="212.6" width="2.6" height="3.4" fill="#15467e"/>
<text x="175.5" y="215.8" font-size="4.4" fill="#333">5</text>
<text x="376.6" y="16.3" font-size="11.5" fill="#111" font-weight="bold">B</text>
<text x="414.5" y="27.6" font-size="6.3" fill="#333" text-anchor="middle">138 acquired</text>
<text x="414.5" y="35.4" font-size="6.3" fill="#333" text-anchor="middle">mutations</text>
<text x="482" y="27.6" font-size="6.3" fill="#333" text-anchor="middle">119 cleared</text>
<text x="482" y="35.4" font-size="6.3" fill="#333" text-anchor="middle">mutations</text>
<line x1="382.7" y1="40.2" x2="446" y2="40.2" stroke="#8a8a8a" stroke-width="1.1"/>
<line x1="455" y1="40.2" x2="517" y2="40.2" stroke="#8a8a8a" stroke-width="1.1"/>
<rect x="396.9" y="44.6" width="11.7" height="65.5" fill="#e5202a"/>
<rect x="396.9" y="110.1" width="11.7" height="17.2" fill="#2f7cc1"/>
<rect x="396.9" y="127.3" width="11.7" height="6.3" fill="#3b9b3c"/>
<rect x="396.9" y="133.6" width="11.7" height="7" fill="#f28a1e"/>
<rect x="396.9" y="140.6" width="11.7" height="5" fill="#f28b83"/>
<rect x="396.9" y="145.6" width="11.7" height="4" fill="#a9d3ec"/>
<rect x="396.9" y="149.6" width="11.7" height="3.6" fill="#b7e0a7"/>
<rect x="396.9" y="153.2" width="11.7" height="3.4" fill="#f9c98f"/>
<rect x="396.9" y="156.6" width="11.7" height="3.6" fill="#cfcbe4"/>
<rect x="396.9" y="160.2" width="11.7" height="48.6" fill="#c9c9ca"/>
<line x1="396.9" y1="163.1" x2="408.6" y2="163.1" stroke="#dadadb" stroke-width="0.5"/>
<line x1="396.9" y1="166" x2="408.6" y2="166" stroke="#dadadb" stroke-width="0.5"/>
<line x1="396.9" y1="168.9" x2="408.6" y2="168.9" stroke="#dadadb" stroke-width="0.5"/>
<line x1="396.9" y1="171.8" x2="408.6" y2="171.8" stroke="#dadadb" stroke-width="0.5"/>
<line x1="396.9" y1="174.7" x2="408.6" y2="174.7" stroke="#dadadb" stroke-width="0.5"/>
<rect x="408.8" y="44.6" width="11.9" height="19.5" fill="#7a0d1a"/>
<rect x="408.8" y="64.1" width="11.9" height="5.4" fill="#a5101f"/>
<rect x="408.8" y="69.5" width="11.9" height="3.7" fill="#b5141f"/>
<rect x="408.8" y="73.2" width="11.9" height="3.2" fill="#c8161f"/>
<rect x="408.8" y="76.4" width="11.9" height="3.2" fill="#d11a22"/>
<rect x="408.8" y="79.6" width="11.9" height="14.2" fill="#dc2026"/>
<rect x="408.8" y="93.8" width="11.9" height="3.4" fill="#e33a33"/>
<rect x="408.8" y="97.2" width="11.9" height="3.2" fill="#e85040"/>
<rect x="408.8" y="100.4" width="11.9" height="3" fill="#ee6e58"/>
<rect x="408.8" y="103.4" width="11.9" height="2.8" fill="#f39a86"/>
<rect x="408.8" y="106.2" width="11.9" height="2.8" fill="#f8c8bc"/>
<rect x="468.1" y="44.6" width="12.2" height="49.2" fill="#e5202a"/>
<rect x="468.1" y="93.8" width="12.2" height="17.5" fill="#2f7cc1"/>
<rect x="468.1" y="111.3" width="12.2" height="6.5" fill="#3b9b3c"/>
<rect x="468.1" y="117.8" width="12.2" height="5.3" fill="#f0701e"/>
<rect x="468.1" y="123.1" width="12.2" height="5.6" fill="#f28b83"/>
<rect x="468.1" y="128.7" width="12.2" height="5.5" fill="#a9d3ec"/>
<rect x="468.1" y="134.2" width="12.2" height="4.2" fill="#b7e0a7"/>
<rect x="468.1" y="138.4" width="12.2" height="4.2" fill="#f9c98f"/>
<rect x="468.1" y="142.6" width="12.2" height="4.4" fill="#cfcbe4"/>
<rect x="468.1" y="147" width="12.2" height="61.8" fill="#c9c9ca"/>
<line x1="468.1" y1="149.9" x2="480.3" y2="149.9" stroke="#dadadb" stroke-width="0.5"/>
<line x1="468.1" y1="152.8" x2="480.3" y2="152.8" stroke="#dadadb" stroke-width="0.5"/>
<line x1="468.1" y1="155.7" x2="480.3" y2="155.7" stroke="#dadadb" stroke-width="0.5"/>
<line x1="468.1" y1="158.6" x2="480.3" y2="158.6" stroke="#dadadb" stroke-width="0.5"/>
<line x1="468.1" y1="161.5" x2="480.3" y2="161.5" stroke="#dadadb" stroke-width="0.5"/>
<line x1="468.1" y1="164.4" x2="480.3" y2="164.4" stroke="#dadadb" stroke-width="0.5"/>
<line x1="468.1" y1="167.3" x2="480.3" y2="167.3" stroke="#dadadb" stroke-width="0.5"/>
<line x1="468.1" y1="170.2" x2="480.3" y2="170.2" stroke="#dadadb" stroke-width="0.5"/>
<rect x="480.6" y="44.6" width="12.5" height="40" fill="#9c0f1c"/>
<rect x="480.6" y="84.6" width="12.5" height="3.4" fill="#c3161f"/>
<rect x="480.6" y="88" width="12.5" height="2.3" fill="#dd3a2a"/>
<rect x="480.6" y="90.3" width="12.5" height="1.9" fill="#ef7a4a"/>
<rect x="480.6" y="92.2" width="12.5" height="1.6" fill="#f6b08a"/>
<text x="402.7" y="79" font-size="4.6" fill="#fff" text-anchor="middle" font-weight="bold">40%</text>
<text x="414.7" y="56" font-size="4.6" fill="#fff" text-anchor="middle" font-weight="bold">12%</text>
<text x="414.7" y="88" font-size="4.6" fill="#fff" text-anchor="middle" font-weight="bold">10%</text>
<text x="402.7" y="120.2" font-size="4.6" fill="#fff" text-anchor="middle" font-weight="bold">10%</text>
<text x="402.7" y="132.2" font-size="4.4" fill="#fff" text-anchor="middle" font-weight="bold">4%</text>
<text x="402.7" y="138.9" font-size="4.4" fill="#fff" text-anchor="middle" font-weight="bold">4%</text>
<text x="402.7" y="144.8" font-size="4.2" fill="#fde" text-anchor="middle" font-weight="bold">3%</text>
<text x="402.7" y="149.3" font-size="3.8" fill="#f4f4f4" text-anchor="middle" font-weight="bold">2%</text>
<text x="402.7" y="152.9" font-size="3.8" fill="#f4f4f4" text-anchor="middle" font-weight="bold">2%</text>
<text x="402.7" y="156.3" font-size="3.8" fill="#f4f4f4" text-anchor="middle" font-weight="bold">2%</text>
<text x="402.7" y="159.7" font-size="3.8" fill="#f4f4f4" text-anchor="middle" font-weight="bold">2%</text>
<text x="474.2" y="71" font-size="4.6" fill="#fff" text-anchor="middle" font-weight="bold">30%</text>
<text x="486.8" y="66.5" font-size="4.6" fill="#fff" text-anchor="middle" font-weight="bold">25%</text>
<text x="474.2" y="104.4" font-size="4.6" fill="#fff" text-anchor="middle" font-weight="bold">10%</text>
<text x="474.2" y="116.3" font-size="4.4" fill="#fff" text-anchor="middle" font-weight="bold">4%</text>
<text x="474.2" y="122.2" font-size="4.4" fill="#fff" text-anchor="middle" font-weight="bold">3%</text>
<text x="474.2" y="127.6" font-size="3.8" fill="#f4f4f4" text-anchor="middle" font-weight="bold">2%</text>
<text x="474.2" y="133.2" font-size="3.8" fill="#f4f4f4" text-anchor="middle" font-weight="bold">2%</text>
<text x="474.2" y="138" font-size="3.8" fill="#f4f4f4" text-anchor="middle" font-weight="bold">2%</text>
<text x="474.2" y="142.2" font-size="3.8" fill="#f4f4f4" text-anchor="middle" font-weight="bold">2%</text>
<text x="474.2" y="146.4" font-size="3.8" fill="#f4f4f4" text-anchor="middle" font-weight="bold">2%</text>
<text x="391.7" y="79.1" font-size="4.5" fill="#e5202a" text-anchor="end">BTK</text>
<line x1="392.6" y1="77.5" x2="396.5" y2="77.5" stroke="#e5202a" stroke-width="0.8"/>
<text x="391.7" y="120.3" font-size="4.5" fill="#2f7cc1" text-anchor="end">TP53</text>
<line x1="392.6" y1="118.7" x2="396.5" y2="118.7" stroke="#2f7cc1" stroke-width="0.8"/>
<text x="391.7" y="132.1" font-size="4.5" fill="#3b9b3c" text-anchor="end">PIK3CA</text>
<line x1="392.6" y1="130.5" x2="396.5" y2="130.5" stroke="#3b9b3c" stroke-width="0.8"/>
<text x="391.7" y="138.8" font-size="4.5" fill="#f28a1e" text-anchor="end">PLCG2</text>
<line x1="392.6" y1="137.2" x2="396.5" y2="137.2" stroke="#f28a1e" stroke-width="0.8"/>
<text x="391.7" y="144.6" font-size="4.5" fill="#f08a80" text-anchor="end">SF3B1</text>
<line x1="392.6" y1="143" x2="396.5" y2="143" stroke="#f08a80" stroke-width="0.8"/>
<text x="391.7" y="149.2" font-size="4.5" fill="#9ccbe6" text-anchor="end">TET2</text>
<line x1="392.6" y1="147.6" x2="396.5" y2="147.6" stroke="#9ccbe6" stroke-width="0.8"/>
<text x="391.7" y="153" font-size="4.5" fill="#a7d897" text-anchor="end">BCL2</text>
<line x1="392.6" y1="151.4" x2="396.5" y2="151.4" stroke="#a7d897" stroke-width="0.8"/>
<text x="391.7" y="156.5" font-size="4.5" fill="#f6bd80" text-anchor="end">IRF4</text>
<line x1="392.6" y1="154.9" x2="396.5" y2="154.9" stroke="#f6bd80" stroke-width="0.8"/>
<text x="391.7" y="160" font-size="4.5" fill="#b9b5d6" text-anchor="end">KMT2C</text>
<line x1="392.6" y1="158.4" x2="396.5" y2="158.4" stroke="#b9b5d6" stroke-width="0.8"/>
<text x="462.9" y="70.8" font-size="4.5" fill="#e5202a" text-anchor="end">BTK</text>
<line x1="463.8" y1="69.2" x2="467.7" y2="69.2" stroke="#e5202a" stroke-width="0.8"/>
<text x="462.9" y="104.1" font-size="4.5" fill="#2f7cc1" text-anchor="end">TP53</text>
<line x1="463.8" y1="102.5" x2="467.7" y2="102.5" stroke="#2f7cc1" stroke-width="0.8"/>
<text x="462.9" y="116.1" font-size="4.5" fill="#3b9b3c" text-anchor="end">RANBP2</text>
<line x1="463.8" y1="114.5" x2="467.7" y2="114.5" stroke="#3b9b3c" stroke-width="0.8"/>
<text x="462.9" y="122.1" font-size="4.5" fill="#f0701e" text-anchor="end">ATM</text>
<line x1="463.8" y1="120.5" x2="467.7" y2="120.5" stroke="#f0701e" stroke-width="0.8"/>
<text x="462.9" y="127.6" font-size="4.5" fill="#f08a80" text-anchor="end">PIK3CA</text>
<line x1="463.8" y1="126" x2="467.7" y2="126" stroke="#f08a80" stroke-width="0.8"/>
<text x="462.9" y="133.1" font-size="4.5" fill="#9ccbe6" text-anchor="end">SF3B1</text>
<line x1="463.8" y1="131.5" x2="467.7" y2="131.5" stroke="#9ccbe6" stroke-width="0.8"/>
<text x="462.9" y="137.9" font-size="4.5" fill="#a7d897" text-anchor="end">NOTCH1</text>
<line x1="463.8" y1="136.3" x2="467.7" y2="136.3" stroke="#a7d897" stroke-width="0.8"/>
<text x="462.9" y="142.1" font-size="4.5" fill="#f6bd80" text-anchor="end">PLCG2</text>
<line x1="463.8" y1="140.5" x2="467.7" y2="140.5" stroke="#f6bd80" stroke-width="0.8"/>
<text x="462.9" y="146.4" font-size="4.5" fill="#b9b5d6" text-anchor="end">EGR1</text>
<line x1="463.8" y1="144.8" x2="467.7" y2="144.8" stroke="#b9b5d6" stroke-width="0.8"/>
<line x1="420.7" y1="54" x2="423.7" y2="54" stroke="#333" stroke-width="0.5"/>
<path d="M423.7 54 L426.7 54" stroke="#333" stroke-width="0.5" fill="none"/>
<text x="427.3" y="55.5" font-size="4.4" fill="#333">T474I</text>
<line x1="420.7" y1="66.8" x2="423.7" y2="66.8" stroke="#333" stroke-width="0.5"/>
<path d="M423.7 66.8 L426.7 65.2" stroke="#333" stroke-width="0.5" fill="none"/>
<text x="427.3" y="66.7" font-size="4.4" fill="#333">T474F</text>
<line x1="420.7" y1="71.3" x2="423.7" y2="71.3" stroke="#333" stroke-width="0.5"/>
<path d="M423.7 71.3 L426.7 69.2" stroke="#333" stroke-width="0.5" fill="none"/>
<text x="427.3" y="70.7" font-size="4.4" fill="#333">T474S</text>
<line x1="420.7" y1="74.8" x2="423.7" y2="74.8" stroke="#333" stroke-width="0.5"/>
<path d="M423.7 74.8 L426.7 73.4" stroke="#333" stroke-width="0.5" fill="none"/>
<text x="427.3" y="74.9" font-size="4.4" fill="#333">T474Y</text>
<line x1="420.7" y1="78" x2="423.7" y2="78" stroke="#333" stroke-width="0.5"/>
<path d="M423.7 78 L426.7 77.4" stroke="#333" stroke-width="0.5" fill="none"/>
<text x="427.3" y="78.9" font-size="4.4" fill="#333">T474L</text>
<line x1="420.7" y1="86.7" x2="423.7" y2="86.7" stroke="#333" stroke-width="0.5"/>
<path d="M423.7 86.7 L426.7 86.7" stroke="#333" stroke-width="0.5" fill="none"/>
<text x="427.3" y="88.2" font-size="4.4" fill="#333">L528W</text>
<line x1="420.7" y1="95.5" x2="423.7" y2="95.5" stroke="#333" stroke-width="0.5"/>
<path d="M423.7 95.5 L426.7 92.5" stroke="#333" stroke-width="0.5" fill="none"/>
<text x="427.3" y="94" font-size="4.4" fill="#333">C481S</text>
<line x1="420.7" y1="97.05" x2="423.7" y2="97.05" stroke="#333" stroke-width="0.5"/>
<path d="M423.7 97.05 L426.7 96.1" stroke="#333" stroke-width="0.5" fill="none"/>
<text x="427.3" y="97.6" font-size="4.4" fill="#333">V416L</text>
<line x1="420.7" y1="98.6" x2="423.7" y2="98.6" stroke="#333" stroke-width="0.5"/>
<path d="M423.7 98.6 L426.7 99.7" stroke="#333" stroke-width="0.5" fill="none"/>
<text x="427.3" y="101.2" font-size="4.4" fill="#333">A428D</text>
<line x1="420.7" y1="100.15" x2="423.7" y2="100.15" stroke="#333" stroke-width="0.5"/>
<path d="M423.7 100.15 L426.7 103.3" stroke="#333" stroke-width="0.5" fill="none"/>
<text x="427.3" y="104.8" font-size="4.4" fill="#333">C481R</text>
<line x1="420.7" y1="101.7" x2="423.7" y2="101.7" stroke="#333" stroke-width="0.5"/>
<path d="M423.7 101.7 L426.7 106.9" stroke="#333" stroke-width="0.5" fill="none"/>
<text x="427.3" y="108.4" font-size="4.4" fill="#333">C481Y</text>
<line x1="420.7" y1="103.25" x2="423.7" y2="103.25" stroke="#333" stroke-width="0.5"/>
<path d="M423.7 103.25 L426.7 110.5" stroke="#333" stroke-width="0.5" fill="none"/>
<text x="427.3" y="112" font-size="4.4" fill="#333">C481F</text>
<line x1="420.7" y1="104.8" x2="423.7" y2="104.8" stroke="#333" stroke-width="0.5"/>
<path d="M423.7 104.8 L426.7 114.1" stroke="#333" stroke-width="0.5" fill="none"/>
<text x="427.3" y="115.6" font-size="4.4" fill="#333">D539G</text>
<line x1="420.7" y1="106.35" x2="423.7" y2="106.35" stroke="#333" stroke-width="0.5"/>
<path d="M423.7 106.35 L426.7 117.7" stroke="#333" stroke-width="0.5" fill="none"/>
<text x="427.3" y="119.2" font-size="4.4" fill="#333">D539H</text>
<line x1="420.7" y1="107.9" x2="423.7" y2="107.9" stroke="#333" stroke-width="0.5"/>
<path d="M423.7 107.9 L426.7 121.3" stroke="#333" stroke-width="0.5" fill="none"/>
<text x="427.3" y="122.8" font-size="4.4" fill="#333">Y545N</text>
<line x1="493.1" y1="64.6" x2="496.1" y2="64.6" stroke="#333" stroke-width="0.5"/>
<path d="M496.1 64.6 L499.1 64.6" stroke="#333" stroke-width="0.5" fill="none"/>
<text x="499.7" y="66.1" font-size="4.4" fill="#333">C481S</text>
<line x1="493.1" y1="86.3" x2="496.1" y2="86.3" stroke="#333" stroke-width="0.5"/>
<path d="M496.1 86.3 L499.1 85.6" stroke="#333" stroke-width="0.5" fill="none"/>
<text x="499.7" y="87.1" font-size="4.4" fill="#333">C481R</text>
<line x1="493.1" y1="88.4" x2="496.1" y2="88.4" stroke="#333" stroke-width="0.5"/>
<path d="M496.1 88.4 L499.1 89.3" stroke="#333" stroke-width="0.5" fill="none"/>
<text x="499.7" y="90.8" font-size="4.4" fill="#333">C481Y</text>
<line x1="493.1" y1="90.5" x2="496.1" y2="90.5" stroke="#333" stroke-width="0.5"/>
<path d="M496.1 90.5 L499.1 93" stroke="#333" stroke-width="0.5" fill="none"/>
<text x="499.7" y="94.5" font-size="4.4" fill="#333">C481F</text>
<line x1="493.1" y1="92.6" x2="496.1" y2="92.6" stroke="#333" stroke-width="0.5"/>
<path d="M496.1 92.6 L499.1 96.7" stroke="#333" stroke-width="0.5" fill="none"/>
<text x="499.7" y="98.2" font-size="4.4" fill="#333">Y149Q</text>
<text x="6.6" y="241.6" font-size="11.5" fill="#111" font-weight="bold">C</text>
<rect x="220.71" y="273" width="26.2" height="129" fill="#d4d4d6"/>
<rect x="258.56" y="267.4" width="11.06" height="134.6" fill="#d4d4d6"/>
<rect x="349.4" y="267.4" width="22.41" height="134.6" fill="#d4d4d6"/>
<rect x="387.25" y="267.4" width="7.27" height="134.6" fill="#d4d4d6"/>
<rect x="398.6" y="267.4" width="52.69" height="134.6" fill="#d4d4d6"/>
<rect x="459.16" y="267.4" width="7.27" height="134.6" fill="#d4d4d6"/>
<rect x="470.52" y="267.4" width="3.49" height="134.6" fill="#d4d4d6"/>
<rect x="478.09" y="267.4" width="3.49" height="134.6" fill="#d4d4d6"/>
<line x1="30.1" y1="261.2" x2="30.1" y2="403" stroke="#222" stroke-width="1.1"/>
<line x1="29.6" y1="402.6" x2="487.5" y2="402.6" stroke="#222" stroke-width="1.2"/>
<line x1="27.3" y1="266.01" x2="30.1" y2="266.01" stroke="#222" stroke-width="0.8"/>
<text x="25.7" y="268.01" font-size="5.6" fill="#333" text-anchor="end">100</text>
<line x1="27.3" y1="286.13" x2="30.1" y2="286.13" stroke="#222" stroke-width="0.8"/>
<text x="25.7" y="288.13" font-size="5.6" fill="#333" text-anchor="end">50</text>
<line x1="27.3" y1="312.25" x2="30.1" y2="312.25" stroke="#222" stroke-width="0.8"/>
<text x="25.7" y="314.25" font-size="5.6" fill="#333" text-anchor="end">20</text>
<line x1="27.3" y1="331.29" x2="30.1" y2="331.29" stroke="#222" stroke-width="0.8"/>
<text x="25.7" y="333.29" font-size="5.6" fill="#333" text-anchor="end">10</text>
<line x1="27.3" y1="349.14" x2="30.1" y2="349.14" stroke="#222" stroke-width="0.8"/>
<text x="25.7" y="351.14" font-size="5.6" fill="#333" text-anchor="end">5</text>
<line x1="27.3" y1="369.55" x2="30.1" y2="369.55" stroke="#222" stroke-width="0.8"/>
<text x="25.7" y="371.55" font-size="5.6" fill="#333" text-anchor="end">2</text>
<line x1="27.3" y1="381.49" x2="30.1" y2="381.49" stroke="#222" stroke-width="0.8"/>
<text x="25.7" y="383.49" font-size="5.6" fill="#333" text-anchor="end">1</text>
<line x1="27.3" y1="401.9" x2="30.1" y2="401.9" stroke="#222" stroke-width="0.8"/>
<text x="25.7" y="403.9" font-size="5.6" fill="#333" text-anchor="end">0</text>
<text transform="translate(13.6,331.5) rotate(-90)" font-size="7" fill="#333" text-anchor="middle">VAF (%)</text>
<line x1="33.2" y1="269.3" x2="33.2" y2="295.7" stroke="#f0a43a" stroke-width="1.15"/>
<path d="M33.2 297.7 L34.75 294.5 L31.65 294.5 Z" fill="#f0a43a"/>
<line x1="36.98" y1="269.8" x2="36.98" y2="401.6" stroke="#4aa8dc" stroke-width="1.15"/>
<path d="M36.98 402 L38.53 398.8 L35.44 398.8 Z" fill="#4aa8dc"/>
<line x1="40.77" y1="272" x2="40.77" y2="285.2" stroke="#f0a43a" stroke-width="1.15"/>
<path d="M40.77 287.2 L42.32 284 L39.22 284 Z" fill="#f0a43a"/>
<line x1="44.56" y1="272" x2="44.56" y2="280" stroke="#f0a43a" stroke-width="1.15"/>
<path d="M44.56 282 L46.11 278.8 L43.01 278.8 Z" fill="#f0a43a"/>
<line x1="48.34" y1="272.8" x2="48.34" y2="401.6" stroke="#4aa8dc" stroke-width="1.15"/>
<path d="M48.34 402 L49.89 398.8 L46.79 398.8 Z" fill="#4aa8dc"/>
<line x1="52.12" y1="275" x2="52.12" y2="300.4" stroke="#f0a43a" stroke-width="1.15"/>
<path d="M52.12 302.4 L53.67 299.2 L50.58 299.2 Z" fill="#f0a43a"/>
<line x1="55.91" y1="277.3" x2="55.91" y2="289.6" stroke="#f0a43a" stroke-width="1.15"/>
<path d="M55.91 291.6 L57.46 288.4 L54.36 288.4 Z" fill="#f0a43a"/>
<line x1="59.7" y1="289.8" x2="59.7" y2="326.1" stroke="#f0a43a" stroke-width="1.15"/>
<path d="M59.7 328.1 L61.25 324.9 L58.15 324.9 Z" fill="#f0a43a"/>
<line x1="63.48" y1="292.4" x2="63.48" y2="401.6" stroke="#4aa8dc" stroke-width="1.15"/>
<path d="M63.48 402 L65.03 398.8 L61.93 398.8 Z" fill="#4aa8dc"/>
<line x1="67.27" y1="293.6" x2="67.27" y2="401.6" stroke="#4aa8dc" stroke-width="1.15"/>
<path d="M67.27 402 L68.81 398.8 L65.72 398.8 Z" fill="#4aa8dc"/>
<line x1="71.05" y1="295.9" x2="71.05" y2="401.6" stroke="#4aa8dc" stroke-width="1.15"/>
<path d="M71.05 402 L72.6 398.8 L69.5 398.8 Z" fill="#4aa8dc"/>
<line x1="74.84" y1="295.9" x2="74.84" y2="401.6" stroke="#4aa8dc" stroke-width="1.15"/>
<path d="M74.84 402 L76.39 398.8 L73.29 398.8 Z" fill="#4aa8dc"/>
<line x1="78.62" y1="295.9" x2="78.62" y2="401.6" stroke="#4aa8dc" stroke-width="1.15"/>
<path d="M78.62 402 L80.17 398.8 L77.07 398.8 Z" fill="#4aa8dc"/>
<line x1="82.41" y1="296.4" x2="82.41" y2="340.4" stroke="#f0a43a" stroke-width="1.15"/>
<path d="M82.41 342.4 L83.95 339.2 L80.86 339.2 Z" fill="#f0a43a"/>
<line x1="86.19" y1="296.4" x2="86.19" y2="401.6" stroke="#4aa8dc" stroke-width="1.15"/>
<path d="M86.19 402 L87.74 398.8 L84.64 398.8 Z" fill="#4aa8dc"/>
<line x1="89.98" y1="299.4" x2="89.98" y2="401.6" stroke="#4aa8dc" stroke-width="1.15"/>
<path d="M89.98 402 L91.53 398.8 L88.43 398.8 Z" fill="#4aa8dc"/>
<line x1="93.76" y1="299.4" x2="93.76" y2="334.8" stroke="#f0a43a" stroke-width="1.15"/>
<path d="M93.76 336.8 L95.31 333.6 L92.21 333.6 Z" fill="#f0a43a"/>
<line x1="97.55" y1="303.7" x2="97.55" y2="401.6" stroke="#4aa8dc" stroke-width="1.15"/>
<path d="M97.55 402 L99.09 398.8 L96 398.8 Z" fill="#4aa8dc"/>
<line x1="101.33" y1="304.3" x2="101.33" y2="313" stroke="#f0a43a" stroke-width="1.15"/>
<path d="M101.33 315 L102.88 311.8 L99.78 311.8 Z" fill="#f0a43a"/>
<line x1="105.12" y1="306.4" x2="105.12" y2="401.6" stroke="#4aa8dc" stroke-width="1.15"/>
<path d="M105.12 402 L106.67 398.8 L103.57 398.8 Z" fill="#4aa8dc"/>
<line x1="108.9" y1="307.2" x2="108.9" y2="401.6" stroke="#4aa8dc" stroke-width="1.15"/>
<path d="M108.9 402 L110.45 398.8 L107.35 398.8 Z" fill="#4aa8dc"/>
<line x1="112.69" y1="313.8" x2="112.69" y2="401.6" stroke="#4aa8dc" stroke-width="1.15"/>
<path d="M112.69 402 L114.23 398.8 L111.14 398.8 Z" fill="#4aa8dc"/>
<line x1="116.47" y1="314.2" x2="116.47" y2="401.6" stroke="#4aa8dc" stroke-width="1.15"/>
<path d="M116.47 402 L118.02 398.8 L114.92 398.8 Z" fill="#4aa8dc"/>
<line x1="120.26" y1="319.1" x2="120.26" y2="344.8" stroke="#f0a43a" stroke-width="1.15"/>
<path d="M120.26 346.8 L121.81 343.6 L118.71 343.6 Z" fill="#f0a43a"/>
<line x1="124.04" y1="322" x2="124.04" y2="401.6" stroke="#4aa8dc" stroke-width="1.15"/>
<path d="M124.04 402 L125.59 398.8 L122.49 398.8 Z" fill="#4aa8dc"/>
<line x1="127.83" y1="324.3" x2="127.83" y2="401.6" stroke="#4aa8dc" stroke-width="1.15"/>
<path d="M127.83 402 L129.38 398.8 L126.28 398.8 Z" fill="#4aa8dc"/>
<line x1="131.61" y1="327.4" x2="131.61" y2="401.6" stroke="#4aa8dc" stroke-width="1.15"/>
<path d="M131.61 402 L133.16 398.8 L130.06 398.8 Z" fill="#4aa8dc"/>
<line x1="135.4" y1="329.5" x2="135.4" y2="401.6" stroke="#4aa8dc" stroke-width="1.15"/>
<path d="M135.4 402 L136.95 398.8 L133.84 398.8 Z" fill="#4aa8dc"/>
<line x1="139.18" y1="330.2" x2="139.18" y2="401.6" stroke="#4aa8dc" stroke-width="1.15"/>
<path d="M139.18 402 L140.73 398.8 L137.63 398.8 Z" fill="#4aa8dc"/>
<line x1="142.97" y1="332" x2="142.97" y2="401.6" stroke="#4aa8dc" stroke-width="1.15"/>
<path d="M142.97 402 L144.52 398.8 L141.41 398.8 Z" fill="#4aa8dc"/>
<line x1="146.75" y1="336.3" x2="146.75" y2="401.6" stroke="#4aa8dc" stroke-width="1.15"/>
<path d="M146.75 402 L148.3 398.8 L145.2 398.8 Z" fill="#4aa8dc"/>
<line x1="150.54" y1="338.9" x2="150.54" y2="401.6" stroke="#4aa8dc" stroke-width="1.15"/>
<path d="M150.54 402 L152.09 398.8 L148.99 398.8 Z" fill="#4aa8dc"/>
<line x1="154.32" y1="339.8" x2="154.32" y2="401.6" stroke="#4aa8dc" stroke-width="1.15"/>
<path d="M154.32 402 L155.87 398.8 L152.77 398.8 Z" fill="#4aa8dc"/>
<line x1="158.11" y1="346.8" x2="158.11" y2="401.6" stroke="#4aa8dc" stroke-width="1.15"/>
<path d="M158.11 402 L159.66 398.8 L156.56 398.8 Z" fill="#4aa8dc"/>
<line x1="161.89" y1="348.5" x2="161.89" y2="401.6" stroke="#4aa8dc" stroke-width="1.15"/>
<path d="M161.89 402 L163.44 398.8 L160.34 398.8 Z" fill="#4aa8dc"/>
<line x1="165.68" y1="352.9" x2="165.68" y2="401.6" stroke="#4aa8dc" stroke-width="1.15"/>
<path d="M165.68 402 L167.23 398.8 L164.12 398.8 Z" fill="#4aa8dc"/>
<line x1="169.46" y1="354.2" x2="169.46" y2="401.6" stroke="#4aa8dc" stroke-width="1.15"/>
<path d="M169.46 402 L171.01 398.8 L167.91 398.8 Z" fill="#4aa8dc"/>
<line x1="173.25" y1="355" x2="173.25" y2="401.6" stroke="#4aa8dc" stroke-width="1.15"/>
<path d="M173.25 402 L174.8 398.8 L171.69 398.8 Z" fill="#4aa8dc"/>
<line x1="177.03" y1="366.8" x2="177.03" y2="401.6" stroke="#4aa8dc" stroke-width="1.15"/>
<path d="M177.03 402 L178.58 398.8 L175.48 398.8 Z" fill="#4aa8dc"/>
<line x1="180.81" y1="383.8" x2="180.81" y2="401.6" stroke="#4aa8dc" stroke-width="1.15"/>
<path d="M180.81 402 L182.37 398.8 L179.26 398.8 Z" fill="#4aa8dc"/>
<line x1="184.6" y1="297.6" x2="184.6" y2="293.1" stroke="#f0a43a" stroke-width="1.15"/>
<path d="M184.6 291.1 L186.15 294.3 L183.05 294.3 Z" fill="#f0a43a"/>
<line x1="188.38" y1="316.2" x2="188.38" y2="304.3" stroke="#f0a43a" stroke-width="1.15"/>
<path d="M188.38 302.3 L189.94 305.5 L186.83 305.5 Z" fill="#f0a43a"/>
<line x1="192.17" y1="318.1" x2="192.17" y2="305.2" stroke="#f0a43a" stroke-width="1.15"/>
<path d="M192.17 303.2 L193.72 306.4 L190.62 306.4 Z" fill="#f0a43a"/>
<line x1="195.95" y1="319" x2="195.95" y2="309.9" stroke="#f0a43a" stroke-width="1.15"/>
<path d="M195.95 307.9 L197.5 311.1 L194.4 311.1 Z" fill="#f0a43a"/>
<line x1="199.74" y1="332.9" x2="199.74" y2="304.7" stroke="#f0a43a" stroke-width="1.15"/>
<path d="M199.74 302.7 L201.29 305.9 L198.19 305.9 Z" fill="#f0a43a"/>
<line x1="203.53" y1="350.6" x2="203.53" y2="339.6" stroke="#f0a43a" stroke-width="1.15"/>
<path d="M203.53 337.6 L205.08 340.8 L201.98 340.8 Z" fill="#f0a43a"/>
<line x1="207.31" y1="361.6" x2="207.31" y2="347.9" stroke="#f0a43a" stroke-width="1.15"/>
<path d="M207.31 345.9 L208.86 349.1 L205.76 349.1 Z" fill="#f0a43a"/>
<line x1="211.1" y1="364.2" x2="211.1" y2="348.8" stroke="#f0a43a" stroke-width="1.15"/>
<path d="M211.1 346.8 L212.65 350 L209.55 350 Z" fill="#f0a43a"/>
<line x1="214.88" y1="402" x2="214.88" y2="347.9" stroke="#b3325c" stroke-width="1.15"/>
<path d="M214.88 345.9 L216.43 349.1 L213.33 349.1 Z" fill="#b3325c"/>
<line x1="218.67" y1="402" x2="218.67" y2="301" stroke="#b3325c" stroke-width="1.15"/>
<path d="M218.67 299 L220.22 302.2 L217.12 302.2 Z" fill="#b3325c"/>
<line x1="222.45" y1="277.6" x2="222.45" y2="308" stroke="#f0a43a" stroke-width="1.15"/>
<path d="M222.45 310 L224 306.8 L220.9 306.8 Z" fill="#f0a43a"/>
<line x1="226.24" y1="292.4" x2="226.24" y2="323" stroke="#f0a43a" stroke-width="1.15"/>
<path d="M226.24 325 L227.79 321.8 L224.69 321.8 Z" fill="#f0a43a"/>
<line x1="230.02" y1="304.6" x2="230.02" y2="307.7" stroke="#f0a43a" stroke-width="1.15"/>
<path d="M230.02 309.7 L231.57 306.5 L228.47 306.5 Z" fill="#f0a43a"/>
<line x1="233.81" y1="307.2" x2="233.81" y2="313.5" stroke="#f0a43a" stroke-width="1.15"/>
<path d="M233.81 315.5 L235.36 312.3 L232.25 312.3 Z" fill="#f0a43a"/>
<line x1="237.59" y1="332" x2="237.59" y2="401.6" stroke="#4aa8dc" stroke-width="1.15"/>
<path d="M237.59 402 L239.14 398.8 L236.04 398.8 Z" fill="#4aa8dc"/>
<line x1="241.38" y1="332" x2="241.38" y2="401.6" stroke="#4aa8dc" stroke-width="1.15"/>
<path d="M241.38 402 L242.93 398.8 L239.82 398.8 Z" fill="#4aa8dc"/>
<line x1="245.16" y1="371.5" x2="245.16" y2="288.3" stroke="#f0a43a" stroke-width="1.15"/>
<path d="M245.16 286.3 L246.71 289.5 L243.61 289.5 Z" fill="#f0a43a"/>
<line x1="248.94" y1="344.2" x2="248.94" y2="401.6" stroke="#4aa8dc" stroke-width="1.15"/>
<path d="M248.94 402 L250.5 398.8 L247.39 398.8 Z" fill="#4aa8dc"/>
<line x1="252.73" y1="344.2" x2="252.73" y2="401.6" stroke="#4aa8dc" stroke-width="1.15"/>
<path d="M252.73 402 L254.28 398.8 L251.18 398.8 Z" fill="#4aa8dc"/>
<line x1="256.51" y1="380.7" x2="256.51" y2="353.1" stroke="#f0a43a" stroke-width="1.15"/>
<path d="M256.51 351.1 L258.06 354.3 L254.96 354.3 Z" fill="#f0a43a"/>
<line x1="260.3" y1="298.5" x2="260.3" y2="401.6" stroke="#4aa8dc" stroke-width="1.15"/>
<path d="M260.3 402 L261.85 398.8 L258.75 398.8 Z" fill="#4aa8dc"/>
<line x1="264.09" y1="296.8" x2="264.09" y2="291" stroke="#f0a43a" stroke-width="1.15"/>
<path d="M264.09 289 L265.64 292.2 L262.54 292.2 Z" fill="#f0a43a"/>
<line x1="267.87" y1="300" x2="267.87" y2="305.4" stroke="#f0a43a" stroke-width="1.15"/>
<path d="M267.87 307.4 L269.42 304.2 L266.32 304.2 Z" fill="#f0a43a"/>
<line x1="271.66" y1="303.7" x2="271.66" y2="294.4" stroke="#f0a43a" stroke-width="1.15"/>
<path d="M271.66 292.4 L273.21 295.6 L270.11 295.6 Z" fill="#f0a43a"/>
<line x1="275.44" y1="328" x2="275.44" y2="276.5" stroke="#f0a43a" stroke-width="1.15"/>
<path d="M275.44 274.5 L276.99 277.7 L273.89 277.7 Z" fill="#f0a43a"/>
<line x1="279.23" y1="341.5" x2="279.23" y2="321.4" stroke="#f0a43a" stroke-width="1.15"/>
<path d="M279.23 319.4 L280.78 322.6 L277.68 322.6 Z" fill="#f0a43a"/>
<line x1="283.01" y1="345.9" x2="283.01" y2="334" stroke="#f0a43a" stroke-width="1.15"/>
<path d="M283.01 332 L284.56 335.2 L281.46 335.2 Z" fill="#f0a43a"/>
<line x1="286.8" y1="347.6" x2="286.8" y2="329.3" stroke="#f0a43a" stroke-width="1.15"/>
<path d="M286.8 327.3 L288.35 330.5 L285.25 330.5 Z" fill="#f0a43a"/>
<line x1="290.58" y1="361.6" x2="290.58" y2="275.8" stroke="#f0a43a" stroke-width="1.15"/>
<path d="M290.58 273.8 L292.13 277 L289.03 277 Z" fill="#f0a43a"/>
<line x1="294.37" y1="372.9" x2="294.37" y2="331.9" stroke="#f0a43a" stroke-width="1.15"/>
<path d="M294.37 329.9 L295.92 333.1 L292.81 333.1 Z" fill="#f0a43a"/>
<line x1="298.15" y1="377.2" x2="298.15" y2="323.2" stroke="#f0a43a" stroke-width="1.15"/>
<path d="M298.15 321.2 L299.7 324.4 L296.6 324.4 Z" fill="#f0a43a"/>
<line x1="301.94" y1="383.3" x2="301.94" y2="324.9" stroke="#f0a43a" stroke-width="1.15"/>
<path d="M301.94 322.9 L303.49 326.1 L300.38 326.1 Z" fill="#f0a43a"/>
<line x1="305.72" y1="392" x2="305.72" y2="303.1" stroke="#f0a43a" stroke-width="1.15"/>
<path d="M305.72 301.1 L307.27 304.3 L304.17 304.3 Z" fill="#f0a43a"/>
<line x1="309.5" y1="397.2" x2="309.5" y2="326.6" stroke="#f0a43a" stroke-width="1.15"/>
<path d="M309.5 324.6 L311.06 327.8 L307.95 327.8 Z" fill="#f0a43a"/>
<line x1="313.29" y1="402" x2="313.29" y2="350.5" stroke="#b3325c" stroke-width="1.15"/>
<path d="M313.29 348.5 L314.84 351.7 L311.74 351.7 Z" fill="#b3325c"/>
<line x1="317.07" y1="402" x2="317.07" y2="345.3" stroke="#b3325c" stroke-width="1.15"/>
<path d="M317.07 343.3 L318.62 346.5 L315.52 346.5 Z" fill="#b3325c"/>
<line x1="320.86" y1="402" x2="320.86" y2="340" stroke="#b3325c" stroke-width="1.15"/>
<path d="M320.86 338 L322.41 341.2 L319.31 341.2 Z" fill="#b3325c"/>
<line x1="324.64" y1="402" x2="324.64" y2="332.2" stroke="#b3325c" stroke-width="1.15"/>
<path d="M324.64 330.2 L326.19 333.4 L323.09 333.4 Z" fill="#b3325c"/>
<line x1="328.43" y1="402" x2="328.43" y2="327" stroke="#b3325c" stroke-width="1.15"/>
<path d="M328.43 325 L329.98 328.2 L326.88 328.2 Z" fill="#b3325c"/>
<line x1="332.21" y1="402" x2="332.21" y2="323.2" stroke="#b3325c" stroke-width="1.15"/>
<path d="M332.21 321.2 L333.76 324.4 L330.66 324.4 Z" fill="#b3325c"/>
<line x1="336" y1="402" x2="336" y2="312.7" stroke="#b3325c" stroke-width="1.15"/>
<path d="M336 310.7 L337.55 313.9 L334.45 313.9 Z" fill="#b3325c"/>
<line x1="339.79" y1="402" x2="339.79" y2="300.5" stroke="#b3325c" stroke-width="1.15"/>
<path d="M339.79 298.5 L341.34 301.7 L338.24 301.7 Z" fill="#b3325c"/>
<line x1="343.57" y1="402" x2="343.57" y2="291" stroke="#b3325c" stroke-width="1.15"/>
<path d="M343.57 289 L345.12 292.2 L342.02 292.2 Z" fill="#b3325c"/>
<line x1="347.36" y1="402" x2="347.36" y2="291" stroke="#b3325c" stroke-width="1.15"/>
<path d="M347.36 289 L348.91 292.2 L345.81 292.2 Z" fill="#b3325c"/>
<line x1="351.14" y1="321.2" x2="351.14" y2="277" stroke="#f0a43a" stroke-width="1.15"/>
<path d="M351.14 275 L352.69 278.2 L349.59 278.2 Z" fill="#f0a43a"/>
<line x1="354.93" y1="392" x2="354.93" y2="296.2" stroke="#f0a43a" stroke-width="1.15"/>
<path d="M354.93 294.2 L356.48 297.4 L353.38 297.4 Z" fill="#f0a43a"/>
<line x1="358.71" y1="391.2" x2="358.71" y2="322.3" stroke="#f0a43a" stroke-width="1.15"/>
<path d="M358.71 320.3 L360.26 323.5 L357.16 323.5 Z" fill="#f0a43a"/>
<line x1="362.5" y1="402" x2="362.5" y2="347.9" stroke="#b3325c" stroke-width="1.15"/>
<path d="M362.5 345.9 L364.05 349.1 L360.94 349.1 Z" fill="#b3325c"/>
<line x1="366.28" y1="402" x2="366.28" y2="343.5" stroke="#b3325c" stroke-width="1.15"/>
<path d="M366.28 341.5 L367.83 344.7 L364.73 344.7 Z" fill="#b3325c"/>
<line x1="370.06" y1="402" x2="370.06" y2="329.4" stroke="#b3325c" stroke-width="1.15"/>
<path d="M370.06 327.4 L371.62 330.6 L368.51 330.6 Z" fill="#b3325c"/>
<line x1="373.85" y1="321.2" x2="373.85" y2="274.4" stroke="#f0a43a" stroke-width="1.15"/>
<path d="M373.85 272.4 L375.4 275.6 L372.3 275.6 Z" fill="#f0a43a"/>
<line x1="377.63" y1="402" x2="377.63" y2="310.1" stroke="#b3325c" stroke-width="1.15"/>
<path d="M377.63 308.1 L379.19 311.3 L376.08 311.3 Z" fill="#b3325c"/>
<line x1="381.42" y1="402" x2="381.42" y2="303.7" stroke="#b3325c" stroke-width="1.15"/>
<path d="M381.42 301.7 L382.97 304.9 L379.87 304.9 Z" fill="#b3325c"/>
<line x1="385.2" y1="402" x2="385.2" y2="296.2" stroke="#b3325c" stroke-width="1.15"/>
<path d="M385.2 294.2 L386.75 297.4 L383.65 297.4 Z" fill="#b3325c"/>
<line x1="388.99" y1="402" x2="388.99" y2="312.7" stroke="#b3325c" stroke-width="1.15"/>
<path d="M388.99 310.7 L390.54 313.9 L387.44 313.9 Z" fill="#b3325c"/>
<line x1="392.77" y1="402" x2="392.77" y2="312.4" stroke="#b3325c" stroke-width="1.15"/>
<path d="M392.77 310.4 L394.32 313.6 L391.22 313.6 Z" fill="#b3325c"/>
<line x1="396.56" y1="372" x2="396.56" y2="348.8" stroke="#f0a43a" stroke-width="1.15"/>
<path d="M396.56 346.8 L398.11 350 L395.01 350 Z" fill="#f0a43a"/>
<line x1="400.35" y1="363.3" x2="400.35" y2="334" stroke="#f0a43a" stroke-width="1.15"/>
<path d="M400.35 332 L401.9 335.2 L398.8 335.2 Z" fill="#f0a43a"/>
<line x1="404.13" y1="365" x2="404.13" y2="349.3" stroke="#f0a43a" stroke-width="1.15"/>
<path d="M404.13 347.3 L405.68 350.5 L402.58 350.5 Z" fill="#f0a43a"/>
<line x1="407.92" y1="379" x2="407.92" y2="302.3" stroke="#f0a43a" stroke-width="1.15"/>
<path d="M407.92 300.3 L409.47 303.5 L406.37 303.5 Z" fill="#f0a43a"/>
<line x1="411.7" y1="399" x2="411.7" y2="305.7" stroke="#f0a43a" stroke-width="1.15"/>
<path d="M411.7 303.7 L413.25 306.9 L410.15 306.9 Z" fill="#f0a43a"/>
<line x1="415.49" y1="402" x2="415.49" y2="358.3" stroke="#b3325c" stroke-width="1.15"/>
<path d="M415.49 356.3 L417.04 359.5 L413.94 359.5 Z" fill="#b3325c"/>
<line x1="419.27" y1="402" x2="419.27" y2="347.9" stroke="#b3325c" stroke-width="1.15"/>
<path d="M419.27 345.9 L420.82 349.1 L417.72 349.1 Z" fill="#b3325c"/>
<line x1="423.06" y1="402" x2="423.06" y2="345.8" stroke="#b3325c" stroke-width="1.15"/>
<path d="M423.06 343.8 L424.61 347 L421.5 347 Z" fill="#b3325c"/>
<line x1="426.84" y1="402" x2="426.84" y2="338.3" stroke="#b3325c" stroke-width="1.15"/>
<path d="M426.84 336.3 L428.39 339.5 L425.29 339.5 Z" fill="#b3325c"/>
<line x1="430.62" y1="402" x2="430.62" y2="318.8" stroke="#b3325c" stroke-width="1.15"/>
<path d="M430.62 316.8 L432.18 320 L429.07 320 Z" fill="#b3325c"/>
<line x1="434.41" y1="402" x2="434.41" y2="315.8" stroke="#b3325c" stroke-width="1.15"/>
<path d="M434.41 313.8 L435.96 317 L432.86 317 Z" fill="#b3325c"/>
<line x1="438.19" y1="402" x2="438.19" y2="314.1" stroke="#b3325c" stroke-width="1.15"/>
<path d="M438.19 312.1 L439.75 315.3 L436.64 315.3 Z" fill="#b3325c"/>
<line x1="441.98" y1="402" x2="441.98" y2="302.5" stroke="#b3325c" stroke-width="1.15"/>
<path d="M441.98 300.5 L443.53 303.7 L440.43 303.7 Z" fill="#b3325c"/>
<line x1="445.76" y1="402" x2="445.76" y2="291.6" stroke="#b3325c" stroke-width="1.15"/>
<path d="M445.76 289.6 L447.31 292.8 L444.21 292.8 Z" fill="#b3325c"/>
<line x1="449.55" y1="402" x2="449.55" y2="274.4" stroke="#b3325c" stroke-width="1.15"/>
<path d="M449.55 272.4 L451.1 275.6 L448 275.6 Z" fill="#b3325c"/>
<line x1="453.33" y1="334.6" x2="453.33" y2="276.2" stroke="#f0a43a" stroke-width="1.15"/>
<path d="M453.33 274.2 L454.88 277.4 L451.78 277.4 Z" fill="#f0a43a"/>
<line x1="457.12" y1="402" x2="457.12" y2="310.1" stroke="#b3325c" stroke-width="1.15"/>
<path d="M457.12 308.1 L458.67 311.3 L455.57 311.3 Z" fill="#b3325c"/>
<line x1="460.91" y1="402" x2="460.91" y2="334.8" stroke="#b3325c" stroke-width="1.15"/>
<path d="M460.91 332.8 L462.46 336 L459.36 336 Z" fill="#b3325c"/>
<line x1="464.69" y1="402" x2="464.69" y2="288.3" stroke="#b3325c" stroke-width="1.15"/>
<path d="M464.69 286.3 L466.24 289.5 L463.14 289.5 Z" fill="#b3325c"/>
<line x1="468.48" y1="347.6" x2="468.48" y2="401.6" stroke="#4aa8dc" stroke-width="1.15"/>
<path d="M468.48 402 L470.03 398.8 L466.93 398.8 Z" fill="#4aa8dc"/>
<line x1="472.26" y1="402" x2="472.26" y2="319.6" stroke="#b3325c" stroke-width="1.15"/>
<path d="M472.26 317.6 L473.81 320.8 L470.71 320.8 Z" fill="#b3325c"/>
<line x1="476.05" y1="402" x2="476.05" y2="324" stroke="#b3325c" stroke-width="1.15"/>
<path d="M476.05 322 L477.6 325.2 L474.5 325.2 Z" fill="#b3325c"/>
<line x1="479.83" y1="402" x2="479.83" y2="366.1" stroke="#b3325c" stroke-width="1.15"/>
<path d="M479.83 364.1 L481.38 367.3 L478.28 367.3 Z" fill="#b3325c"/>
<line x1="483.62" y1="402" x2="483.62" y2="333.1" stroke="#b3325c" stroke-width="1.15"/>
<path d="M483.62 331.1 L485.17 334.3 L482.06 334.3 Z" fill="#b3325c"/>
<line x1="30.1" y1="350.4" x2="488" y2="350.4" stroke="#222" stroke-width="0.9" stroke-dasharray="1.5,1.4"/>
<text x="104.6" y="276.6" font-size="8.3" fill="#333">C481S (50)</text>
<text x="220.5" y="271.6" font-size="5.6" fill="#333">C481R (7)</text>
<text x="294.2" y="276.6" font-size="8.3" fill="#333">T474I (21)</text>
<text x="404.2" y="276.6" font-size="8.3" fill="#333">L528W (14)</text>
<text transform="translate(251.3,263.6) rotate(-45)" font-size="6.3" fill="#333">C481Y (3)</text>
<text transform="translate(262.8,264.1) rotate(-45)" font-size="6.3" fill="#333">C481F (3)</text>
<text transform="translate(359.6,263.6) rotate(-45)" font-size="6.3" fill="#333">T474F (6)</text>
<text transform="translate(379.7,263.4) rotate(-45)" font-size="6.3" fill="#333">T474S (4)</text>
<text transform="translate(390.4,264.2) rotate(-45)" font-size="6.3" fill="#333">T474Y (2)</text>
<text transform="translate(398.6,264.8) rotate(-45)" font-size="6.3" fill="#333">T474L (1)</text>
<text transform="translate(453.8,263.6) rotate(-45)" font-size="6.3" fill="#333">A428D (2)</text>
<text transform="translate(462.4,263.6) rotate(-45)" font-size="6.3" fill="#333">V416L (2)</text>
<circle cx="207.31" cy="406.7" r="0.85" fill="#222"/>
<circle cx="211.1" cy="406.7" r="0.85" fill="#222"/>
<circle cx="245.16" cy="406.7" r="0.85" fill="#222"/>
<circle cx="256.51" cy="406.7" r="0.85" fill="#222"/>
<circle cx="286.8" cy="406.7" r="0.85" fill="#222"/>
<circle cx="290.58" cy="406.7" r="0.85" fill="#222"/>
<circle cx="294.37" cy="406.7" r="0.85" fill="#222"/>
<circle cx="298.15" cy="406.7" r="0.85" fill="#222"/>
<circle cx="301.94" cy="406.7" r="0.85" fill="#222"/>
<circle cx="305.72" cy="406.7" r="0.85" fill="#222"/>
<circle cx="309.5" cy="406.7" r="0.85" fill="#222"/>
<circle cx="354.93" cy="406.7" r="0.85" fill="#222"/>
<circle cx="358.71" cy="406.7" r="0.85" fill="#222"/>
<circle cx="396.56" cy="406.7" r="0.85" fill="#222"/>
<circle cx="400.35" cy="406.7" r="0.85" fill="#222"/>
<circle cx="404.13" cy="406.7" r="0.85" fill="#222"/>
<circle cx="407.92" cy="406.7" r="0.85" fill="#222"/>
<circle cx="411.7" cy="406.7" r="0.85" fill="#222"/>
<text transform="translate(469.78,419.2) rotate(-90)" font-size="3.9" fill="#666">D539G</text>
<text transform="translate(473.56,419.2) rotate(-90)" font-size="3.9" fill="#666">D539H</text>
<text transform="translate(477.35,419.2) rotate(-90)" font-size="3.9" fill="#666">Y545N</text>
<text transform="translate(481.13,419.2) rotate(-90)" font-size="3.9" fill="#666">D539A</text>
<text transform="translate(484.92,419.2) rotate(-90)" font-size="3.9" fill="#666">E41K</text>
<line x1="46" y1="407.9" x2="86.2" y2="407.9" stroke="#333" stroke-width="0.8"/>
<path d="M88 407.9 L85.6 406.7 L85.6 409.1 Z" fill="#333"/>
<line x1="46" y1="406.6" x2="46" y2="411.2" stroke="#333" stroke-width="0.6"/>
<line x1="87.4" y1="409.2" x2="87.4" y2="411.2" stroke="#333" stroke-width="0.6"/>
<text x="46" y="419.2" font-size="4.2" fill="#444" text-anchor="middle">Baseline</text>
<text x="87.6" y="419.2" font-size="4.2" fill="#444" text-anchor="middle">PD</text>
<rect x="172.2" y="417.6" width="5.2" height="4.6" fill="#41a8d8"/>
<text x="180.4" y="421.7" font-size="4.6" fill="#444">Cleared (36)</text>
<rect x="210.8" y="417.6" width="5.2" height="4.6" fill="#f39a2e"/>
<text x="219" y="421.7" font-size="4.6" fill="#444">Shared (47)</text>
<rect x="246.6" y="417.6" width="5.2" height="4.6" fill="#b71b3c"/>
<text x="254.8" y="421.7" font-size="4.6" fill="#444">Acquired (37)</text>
<circle cx="289.6" cy="419.8" r="0.9" fill="#222"/>
<text x="292.3" y="421.6" font-size="4.25" fill="#444">Pre-existing at low VAF (18)</text>
</svg><div class="bd"></div></div></body></html>
